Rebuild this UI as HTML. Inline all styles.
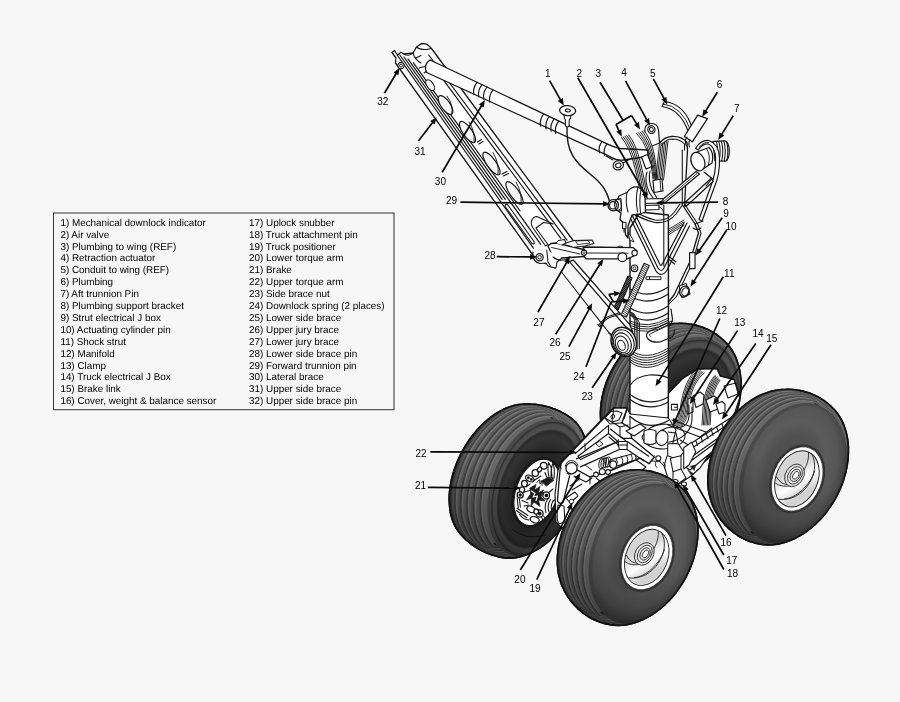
<!DOCTYPE html>
<html><head><meta charset="utf-8"><title>Main landing gear</title>
<style>html,body{margin:0;padding:0;background:#f7f7f7}svg{display:block;filter:blur(0.4px)}</style></head>
<body>
<svg width="900" height="702" viewBox="0 0 900 702">
<rect width="900" height="702" fill="#f7f7f7"/>
<rect x="53.5" y="213" width="340.5" height="196.7" fill="#f7f7f7" stroke="#333" stroke-width="1"/>
<g font-family="Liberation Sans, Arial, sans-serif" font-size="9.9" fill="#000" text-rendering="geometricPrecision">
<text x="60.4" y="225.70">1) Mechanical downlock indicator</text>
<text x="60.4" y="237.60">2) Air valve</text>
<text x="60.4" y="249.50">3) Plumbing to wing (REF)</text>
<text x="60.4" y="261.40">4) Retraction actuator</text>
<text x="60.4" y="273.30">5) Conduit to wing (REF)</text>
<text x="60.4" y="285.20">6) Plumbing</text>
<text x="60.4" y="297.10">7) Aft trunnion Pin</text>
<text x="60.4" y="309.00">8) Plumbing support bracket</text>
<text x="60.4" y="320.90">9) Strut electrical J box</text>
<text x="60.4" y="332.80">10) Actuating cylinder pin</text>
<text x="60.4" y="344.70">11) Shock strut</text>
<text x="60.4" y="356.60">12) Manifold</text>
<text x="60.4" y="368.50">13) Clamp</text>
<text x="60.4" y="380.40">14) Truck electrical J Box</text>
<text x="60.4" y="392.30">15) Brake link</text>
<text x="60.4" y="404.20">16) Cover, weight &amp; balance sensor</text>
<text x="249" y="225.70">17) Uplock snubber</text>
<text x="249" y="237.60">18) Truck attachment pin</text>
<text x="249" y="249.50">19) Truck positioner</text>
<text x="249" y="261.40">20) Lower torque arm</text>
<text x="249" y="273.30">21) Brake</text>
<text x="249" y="285.20">22) Upper torque arm</text>
<text x="249" y="297.10">23) Side brace nut</text>
<text x="249" y="309.00">24) Downlock spring (2 places)</text>
<text x="249" y="320.90">25) Lower side brace</text>
<text x="249" y="332.80">26) Upper jury brace</text>
<text x="249" y="344.70">27) Lower jury brace</text>
<text x="249" y="356.60">28) Lower side brace pin</text>
<text x="249" y="368.50">29) Forward trunnion pin</text>
<text x="249" y="380.40">30) Lateral brace</text>
<text x="249" y="392.30">31) Upper side brace</text>
<text x="249" y="404.20">32) Upper side brace pin</text>
</g>
<defs>
<radialGradient id="side" cx="0.44" cy="0.47" r="0.57">
<stop offset="0" stop-color="#4c4c4c"/><stop offset="0.42" stop-color="#505050"/><stop offset="0.6" stop-color="#5c5c5c"/><stop offset="0.78" stop-color="#565656"/><stop offset="0.9" stop-color="#484848"/><stop offset="1" stop-color="#2a2a2a"/>
</radialGradient>
<radialGradient id="inner" cx="0.5" cy="0.5" r="0.5">
<stop offset="0" stop-color="#1c1c1c"/><stop offset="0.55" stop-color="#262626"/><stop offset="0.78" stop-color="#343434"/><stop offset="0.86" stop-color="#2a2a2a"/><stop offset="0.90" stop-color="#505050"/><stop offset="0.96" stop-color="#484848"/><stop offset="1" stop-color="#2a2a2a"/>
</radialGradient>
<linearGradient id="shade" x1="0.75" y1="0" x2="0.3" y2="1">
<stop offset="0" stop-color="#000" stop-opacity="0"/><stop offset="0.5" stop-color="#000" stop-opacity="0"/><stop offset="0.8" stop-color="#000" stop-opacity="0.22"/><stop offset="1" stop-color="#000" stop-opacity="0.45"/>
</linearGradient>
<linearGradient id="hubg" x1="0" y1="0" x2="1" y2="1">
<stop offset="0" stop-color="#dcdcdc"/><stop offset="0.35" stop-color="#d4d4d4"/><stop offset="0.55" stop-color="#ffffff"/><stop offset="0.75" stop-color="#cfcfcf"/><stop offset="1" stop-color="#e8e8e8"/>
</linearGradient>
</defs>
<clipPath id="tc1"><path d="M600.4,412.7 L600.7,407.8 L601.2,402.8 L602.0,397.9 L603.1,392.9 L604.5,387.9 L606.1,382.9 L608.1,378.0 L610.3,373.2 L612.7,368.5 L615.4,363.9 L618.3,359.5 L621.4,355.3 L624.7,351.2 L628.1,347.4 L631.8,343.8 L635.6,340.4 L639.5,337.3 L643.5,334.5 L647.6,332.0 L651.7,329.8 L655.9,327.9 L660.2,326.4 L664.4,325.1 L668.6,324.3 L672.8,323.7 L673.7,323.6 L674.7,323.5 L678.8,323.4 L679.8,323.3 L680.7,323.3 L684.9,323.5 L685.8,323.6 L686.8,323.7 L690.9,324.2 L691.8,324.4 L692.7,324.6 L696.8,325.4 L697.7,325.7 L698.6,326.0 L702.5,327.2 L703.4,327.6 L704.2,327.9 L708.0,329.6 L708.8,330.0 L709.7,330.4 L712.4,331.9 L713.2,332.4 L714.0,332.9 L717.4,335.2 L718.2,335.8 L718.9,336.3 L722.1,339.0 L722.8,339.6 L723.5,340.2 L726.4,343.1 L727.0,343.8 L729.7,347.0 L732.1,350.5 L734.2,354.2 L736.1,358.2 L737.6,362.4 L738.9,366.8 L739.9,371.4 L740.6,376.2 L741.0,381.1 L741.0,386.1 L740.8,391.1 L740.2,396.3 L739.4,401.5 L738.2,406.7 L736.8,411.9 L735.1,417.1 L733.1,422.1 L730.8,427.2 L728.2,432.1 L725.5,436.8 L722.4,441.4 L719.2,445.9 L715.8,450.1 L712.1,454.1 L708.4,457.8 L704.4,461.3 L700.4,464.5 L696.2,467.5 L691.9,470.1 L687.6,472.4 L683.2,474.3 L678.8,475.9 L674.4,477.2 L670.0,478.1 L665.6,478.7 L661.3,478.9 L657.1,478.7 L653.0,478.2 L652.1,478.0 L648.1,477.1 L647.1,476.9 L646.2,476.6 L642.4,475.4 L641.5,475.0 L640.6,474.7 L636.8,473.1 L636.0,472.6 L635.1,472.2 L631.6,470.2 L630.7,469.8 L630.0,469.2 L626.6,466.9 L625.8,466.4 L625.1,465.7 L622.0,463.1 L621.2,462.5 L620.6,461.8 L617.7,458.9 L617.0,458.2 L614.4,455.0 L613.8,454.3 L613.2,453.5 L610.9,450.1 L610.4,449.3 L609.9,448.5 L607.8,444.9 L607.4,444.1 L607.0,443.2 L605.2,439.4 L603.7,435.4 L602.5,431.1 L601.5,426.7 L600.9,422.2 L600.5,417.5Z"/></clipPath>
<path d="M600.4,412.7 L600.7,407.8 L601.2,402.8 L602.0,397.9 L603.1,392.9 L604.5,387.9 L606.1,382.9 L608.1,378.0 L610.3,373.2 L612.7,368.5 L615.4,363.9 L618.3,359.5 L621.4,355.3 L624.7,351.2 L628.1,347.4 L631.8,343.8 L635.6,340.4 L639.5,337.3 L643.5,334.5 L647.6,332.0 L651.7,329.8 L655.9,327.9 L660.2,326.4 L664.4,325.1 L668.6,324.3 L672.8,323.7 L673.7,323.6 L674.7,323.5 L678.8,323.4 L679.8,323.3 L680.7,323.3 L684.9,323.5 L685.8,323.6 L686.8,323.7 L690.9,324.2 L691.8,324.4 L692.7,324.6 L696.8,325.4 L697.7,325.7 L698.6,326.0 L702.5,327.2 L703.4,327.6 L704.2,327.9 L708.0,329.6 L708.8,330.0 L709.7,330.4 L712.4,331.9 L713.2,332.4 L714.0,332.9 L717.4,335.2 L718.2,335.8 L718.9,336.3 L722.1,339.0 L722.8,339.6 L723.5,340.2 L726.4,343.1 L727.0,343.8 L729.7,347.0 L732.1,350.5 L734.2,354.2 L736.1,358.2 L737.6,362.4 L738.9,366.8 L739.9,371.4 L740.6,376.2 L741.0,381.1 L741.0,386.1 L740.8,391.1 L740.2,396.3 L739.4,401.5 L738.2,406.7 L736.8,411.9 L735.1,417.1 L733.1,422.1 L730.8,427.2 L728.2,432.1 L725.5,436.8 L722.4,441.4 L719.2,445.9 L715.8,450.1 L712.1,454.1 L708.4,457.8 L704.4,461.3 L700.4,464.5 L696.2,467.5 L691.9,470.1 L687.6,472.4 L683.2,474.3 L678.8,475.9 L674.4,477.2 L670.0,478.1 L665.6,478.7 L661.3,478.9 L657.1,478.7 L653.0,478.2 L652.1,478.0 L648.1,477.1 L647.1,476.9 L646.2,476.6 L642.4,475.4 L641.5,475.0 L640.6,474.7 L636.8,473.1 L636.0,472.6 L635.1,472.2 L631.6,470.2 L630.7,469.8 L630.0,469.2 L626.6,466.9 L625.8,466.4 L625.1,465.7 L622.0,463.1 L621.2,462.5 L620.6,461.8 L617.7,458.9 L617.0,458.2 L614.4,455.0 L613.8,454.3 L613.2,453.5 L610.9,450.1 L610.4,449.3 L609.9,448.5 L607.8,444.9 L607.4,444.1 L607.0,443.2 L605.2,439.4 L603.7,435.4 L602.5,431.1 L601.5,426.7 L600.9,422.2 L600.5,417.5Z" fill="#676767" stroke="#111" stroke-width="1.6" stroke-linejoin="round"/>
<g clip-path="url(#tc1)">
<path d="M654.1,466.3 L649.5,466.9 L644.9,467.1 L640.5,466.8 L636.2,466.1 L632.0,465.0 L628.0,463.5 L624.2,461.6 L620.6,459.2 L617.3,456.5 L614.2,453.5 L611.4,450.1 L608.9,446.3 L606.8,442.3 L604.9,438.0 L603.4,433.4 L602.2,428.6 L601.4,423.6 L600.9,418.4 L600.8,413.1 L601.1,407.7 L601.7,402.3 L602.6,396.7 L604.0,391.2 L605.6,385.7 L607.6,380.3 L609.9,374.9 L612.5,369.7 L615.4,364.6 L618.6,359.7 L622.1,355.0 L625.7,350.6 L629.6,346.4 L633.7,342.5 L637.9,338.9 L642.3,335.7 L646.8,332.8 L651.4,330.3 L656.0,328.1 L660.7,326.4 L665.3,325.1 L670.0,324.2 L674.6,323.7 L679.1,323.7 L683.5,324.0 L687.8,324.8 L692.0,326.0 L695.9,327.7 L699.7,329.7 L703.2,332.1 L706.5,334.9 L709.5,338.1 L712.2,341.5 L714.6,345.4 L716.7,349.5 L718.5,353.9 L719.9,358.5 L721.0,363.3 L721.7,368.4 L722.1,373.6 L722.1,378.9" fill="none" stroke="#2e2e2e" stroke-width="3.0"/>
<path d="M656.4,467.5 L651.8,468.2 L647.2,468.4 L642.8,468.2 L638.4,467.5 L634.2,466.4 L630.2,465.0 L626.4,463.1 L622.8,460.8 L619.4,458.1 L616.3,455.0 L613.5,451.7 L611.0,447.9 L608.7,443.9 L606.8,439.6 L605.3,435.0 L604.0,430.2 L603.2,425.2 L602.7,420.0 L602.5,414.7 L602.7,409.3 L603.3,403.8 L604.2,398.3 L605.5,392.7 L607.1,387.2 L609.0,381.7 L611.3,376.3 L613.9,371.0 L616.7,365.9 L619.9,360.9 L623.3,356.2 L626.9,351.7 L630.8,347.4 L634.8,343.5 L639.0,339.8 L643.4,336.5 L647.9,333.6 L652.4,331.0 L657.1,328.8 L661.7,327.0 L666.4,325.7 L671.0,324.7 L675.7,324.2 L680.2,324.1 L684.6,324.4 L688.9,325.1 L693.1,326.3 L697.1,327.9 L700.8,329.9 L704.4,332.3 L707.7,335.0 L710.7,338.2 L713.5,341.6 L715.9,345.4 L718.1,349.5 L719.9,353.9 L721.4,358.6 L722.5,363.4 L723.3,368.5 L723.7,373.7 L723.8,379.0" fill="none" stroke="#444" stroke-width="2.0"/>
<path d="M682.1,475.4 L677.8,476.6 L673.5,477.3 L669.2,477.6 L665.1,477.5 L661.0,477.0 L657.0,476.0 L653.2,474.6 L649.6,472.8 L646.1,470.6 L642.9,468.1 L639.9,465.1 L637.1,461.8 L634.6,458.2 L632.4,454.2 L630.5,450.0 L628.9,445.5 L627.6,440.8 L626.6,435.8 L626.0,430.7 L625.6,425.5 L625.6,420.1 L626.0,414.6 L626.6,409.1 L627.6,403.5 L629.0,398.0 L630.6,392.5 L632.5,387.1 L634.8,381.8 L637.3,376.6 L640.0,371.7 L643.0,366.9 L646.3,362.3 L649.7,358.0 L653.4,354.0 L657.2,350.3 L661.2,346.9 L665.2,343.9 L669.4,341.3 L673.7,339.0 L678.0,337.1 L682.3,335.6 L686.6,334.6 L690.9,333.9 L695.1,333.7 L699.3,333.9 L703.3,334.6 L707.2,335.6 L711.0,337.1 L714.6,339.0 L718.0,341.3 L721.2,344.0 L724.1,347.0 L726.8,350.4 L729.2,354.1 L731.4,358.1 L733.2,362.4 L734.8,367.0 L736.0,371.8 L736.9,376.7 L737.5,381.9" fill="none" stroke="#424242" stroke-width="1.9"/>
<path d="M683.7,475.6 L679.4,476.8 L675.1,477.5 L670.9,477.9 L666.8,477.8 L662.7,477.3 L658.8,476.4 L655.0,475.0 L651.4,473.3 L648.0,471.1 L644.7,468.6 L641.7,465.7 L639.0,462.4 L636.5,458.8 L634.2,454.9 L632.3,450.7 L630.7,446.3 L629.4,441.6 L628.3,436.7 L627.7,431.6 L627.3,426.4 L627.3,421.0 L627.6,415.6 L628.2,410.1 L629.2,404.5 L630.5,399.0 L632.0,393.6 L633.9,388.2 L636.1,382.9 L638.6,377.7 L641.3,372.8 L644.2,368.0 L647.4,363.4 L650.8,359.1 L654.4,355.1 L658.2,351.4 L662.1,348.0 L666.1,345.0 L670.3,342.3 L674.5,340.0 L678.7,338.1 L683.0,336.6 L687.3,335.5 L691.5,334.9 L695.7,334.6 L699.9,334.8 L703.9,335.4 L707.8,336.4 L711.5,337.9 L715.1,339.7 L718.5,342.0 L721.7,344.6 L724.6,347.6 L727.3,351.0 L729.7,354.6 L731.9,358.6 L733.7,362.9 L735.3,367.4 L736.6,372.1 L737.5,377.1 L738.1,382.2" fill="none" stroke="#767676" stroke-width="1.2"/>
<path d="M680.3,475.2 L676.0,476.3 L671.6,477.0 L667.3,477.3 L663.1,477.1 L659.0,476.5 L655.1,475.5 L651.2,474.1 L647.6,472.3 L644.1,470.1 L640.9,467.4 L637.9,464.5 L635.1,461.1 L632.6,457.4 L630.4,453.5 L628.5,449.2 L626.9,444.6 L625.7,439.9 L624.7,434.9 L624.1,429.7 L623.8,424.4 L623.8,419.0 L624.2,413.5 L624.9,408.0 L626.0,402.4 L627.3,396.8 L629.0,391.3 L631.0,385.9 L633.3,380.6 L635.8,375.4 L638.7,370.5 L641.7,365.7 L645.0,361.1 L648.6,356.8 L652.3,352.8 L656.1,349.1 L660.1,345.8 L664.3,342.8 L668.5,340.1 L672.8,337.9 L677.1,336.0 L681.5,334.6 L685.9,333.5 L690.2,332.9 L694.4,332.8 L698.6,333.0 L702.7,333.7 L706.6,334.8 L710.4,336.3 L714.0,338.3 L717.4,340.6 L720.6,343.3 L723.6,346.4 L726.3,349.8 L728.7,353.5 L730.8,357.6 L732.6,361.9 L734.2,366.5 L735.4,371.4 L736.2,376.4 L736.8,381.6" fill="none" stroke="#585858" stroke-width="1.4"/>
<path d="M676.4,474.5 L672.0,475.5 L667.6,476.2 L663.2,476.4 L659.0,476.1 L654.8,475.5 L650.8,474.4 L646.9,472.9 L643.3,470.9 L639.8,468.6 L636.5,465.9 L633.5,462.8 L630.8,459.4 L628.3,455.7 L626.2,451.6 L624.3,447.2 L622.7,442.6 L621.5,437.8 L620.6,432.7 L620.1,427.5 L619.9,422.1 L620.0,416.7 L620.5,411.1 L621.3,405.5 L622.4,399.9 L623.9,394.3 L625.7,388.8 L627.8,383.3 L630.2,378.0 L632.9,372.8 L635.8,367.8 L639.0,363.1 L642.4,358.5 L646.0,354.3 L649.8,350.3 L653.8,346.6 L657.9,343.3 L662.2,340.3 L666.5,337.8 L670.9,335.6 L675.3,333.8 L679.8,332.4 L684.2,331.4 L688.6,330.9 L692.9,330.8 L697.2,331.1 L701.3,331.9 L705.3,333.1 L709.1,334.7 L712.7,336.7 L716.1,339.1 L719.3,341.9 L722.3,345.1 L724.9,348.6 L727.3,352.5 L729.4,356.6 L731.2,361.0 L732.7,365.7 L733.8,370.6 L734.6,375.7 L735.1,380.9" fill="none" stroke="#424242" stroke-width="1.9"/>
<path d="M678.0,474.8 L673.6,475.9 L669.2,476.5 L664.9,476.8 L660.7,476.6 L656.5,475.9 L652.5,474.9 L648.7,473.4 L645.0,471.5 L641.6,469.2 L638.3,466.6 L635.3,463.5 L632.6,460.1 L630.1,456.4 L627.9,452.4 L626.0,448.0 L624.4,443.5 L623.2,438.6 L622.3,433.6 L621.7,428.4 L621.4,423.1 L621.5,417.6 L622.0,412.1 L622.7,406.5 L623.9,400.9 L625.3,395.3 L627.0,389.8 L629.1,384.4 L631.4,379.1 L634.1,373.9 L637.0,368.9 L640.1,364.1 L643.5,359.6 L647.1,355.3 L650.8,351.3 L654.8,347.6 L658.8,344.3 L663.0,341.3 L667.3,338.7 L671.7,336.5 L676.1,334.7 L680.5,333.2 L684.9,332.3 L689.3,331.7 L693.6,331.6 L697.8,331.9 L701.9,332.6 L705.8,333.8 L709.6,335.3 L713.3,337.3 L716.7,339.7 L719.9,342.5 L722.8,345.6 L725.5,349.1 L727.9,352.9 L730.0,357.0 L731.8,361.4 L733.3,366.0 L734.5,370.9 L735.3,376.0 L735.8,381.2" fill="none" stroke="#767676" stroke-width="1.2"/>
<path d="M674.6,474.1 L670.1,475.1 L665.7,475.7 L661.3,475.9 L657.1,475.6 L652.9,474.9 L648.9,473.8 L645.0,472.2 L641.3,470.3 L637.8,467.9 L634.6,465.2 L631.6,462.0 L628.9,458.6 L626.4,454.8 L624.3,450.7 L622.4,446.3 L620.9,441.6 L619.7,436.8 L618.8,431.7 L618.3,426.4 L618.1,421.1 L618.3,415.6 L618.8,410.0 L619.7,404.4 L620.9,398.8 L622.4,393.2 L624.2,387.6 L626.4,382.2 L628.8,376.8 L631.5,371.7 L634.5,366.7 L637.8,361.9 L641.2,357.4 L644.9,353.1 L648.8,349.2 L652.8,345.5 L657.0,342.2 L661.3,339.3 L665.6,336.7 L670.1,334.6 L674.5,332.8 L679.0,331.5 L683.5,330.5 L687.9,330.0 L692.2,330.0 L696.5,330.4 L700.6,331.2 L704.6,332.4 L708.4,334.0 L712.1,336.1 L715.5,338.6 L718.7,341.4 L721.6,344.6 L724.3,348.2 L726.7,352.0 L728.7,356.2 L730.5,360.7 L732.0,365.4 L733.1,370.3 L733.9,375.4 L734.3,380.7" fill="none" stroke="#585858" stroke-width="1.4"/>
<path d="M670.7,473.1 L666.2,474.0 L661.7,474.5 L657.3,474.6 L652.9,474.3 L648.7,473.5 L644.7,472.3 L640.8,470.6 L637.1,468.6 L633.6,466.2 L630.4,463.3 L627.4,460.1 L624.7,456.6 L622.3,452.7 L620.2,448.6 L618.4,444.1 L616.9,439.4 L615.8,434.5 L615.0,429.3 L614.6,424.1 L614.5,418.6 L614.7,413.1 L615.3,407.5 L616.3,401.9 L617.6,396.2 L619.2,390.6 L621.1,385.1 L623.4,379.6 L625.9,374.3 L628.8,369.2 L631.9,364.2 L635.2,359.5 L638.8,355.0 L642.6,350.8 L646.5,346.9 L650.6,343.3 L654.9,340.0 L659.3,337.2 L663.7,334.7 L668.2,332.6 L672.8,330.9 L677.3,329.6 L681.8,328.8 L686.3,328.3 L690.7,328.4 L695.0,328.8 L699.1,329.7 L703.2,331.0 L707.0,332.8 L710.6,334.9 L714.0,337.4 L717.2,340.3 L720.1,343.6 L722.8,347.3 L725.1,351.2 L727.1,355.4 L728.9,360.0 L730.3,364.7 L731.3,369.7 L732.0,374.9 L732.4,380.2" fill="none" stroke="#424242" stroke-width="1.9"/>
<path d="M672.3,473.5 L667.8,474.5 L663.3,475.0 L658.9,475.2 L654.6,474.8 L650.4,474.1 L646.4,472.9 L642.5,471.3 L638.8,469.3 L635.3,466.9 L632.1,464.1 L629.1,460.9 L626.4,457.4 L624.0,453.6 L621.8,449.4 L620.0,445.0 L618.5,440.3 L617.4,435.4 L616.5,430.3 L616.1,425.0 L615.9,419.6 L616.2,414.1 L616.7,408.5 L617.6,402.9 L618.9,397.3 L620.5,391.7 L622.4,386.1 L624.6,380.7 L627.1,375.4 L629.9,370.2 L632.9,365.2 L636.2,360.5 L639.8,356.0 L643.5,351.7 L647.4,347.8 L651.5,344.2 L655.7,340.9 L660.1,338.0 L664.5,335.5 L669.0,333.4 L673.5,331.6 L678.0,330.3 L682.5,329.5 L686.9,329.0 L691.3,329.0 L695.6,329.4 L699.8,330.3 L703.8,331.6 L707.6,333.3 L711.2,335.4 L714.7,337.9 L717.8,340.8 L720.8,344.0 L723.4,347.6 L725.8,351.5 L727.8,355.7 L729.6,360.2 L731.0,365.0 L732.1,369.9 L732.8,375.1 L733.2,380.4" fill="none" stroke="#767676" stroke-width="1.2"/>
<path d="M668.9,472.5 L664.3,473.4 L659.8,473.9 L655.4,474.0 L651.1,473.6 L646.9,472.8 L642.8,471.5 L638.9,469.9 L635.2,467.8 L631.8,465.3 L628.5,462.4 L625.6,459.2 L622.9,455.6 L620.5,451.7 L618.4,447.6 L616.6,443.1 L615.2,438.3 L614.1,433.4 L613.3,428.3 L612.9,422.9 L612.9,417.5 L613.1,412.0 L613.8,406.4 L614.8,400.7 L616.1,395.1 L617.8,389.5 L619.8,384.0 L622.1,378.5 L624.7,373.2 L627.5,368.1 L630.7,363.1 L634.1,358.4 L637.7,353.9 L641.5,349.7 L645.5,345.9 L649.7,342.3 L654.0,339.1 L658.4,336.2 L662.9,333.8 L667.4,331.7 L672.0,330.1 L676.5,328.8 L681.1,328.0 L685.6,327.6 L690.0,327.7 L694.3,328.2 L698.4,329.1 L702.5,330.5 L706.3,332.2 L709.9,334.4 L713.3,337.0 L716.5,339.9 L719.4,343.2 L722.0,346.9 L724.4,350.9 L726.4,355.1 L728.1,359.7 L729.4,364.5 L730.4,369.5 L731.1,374.7 L731.4,380.0" fill="none" stroke="#585858" stroke-width="1.4"/>
<path d="M664.9,471.2 L660.4,472.0 L655.8,472.4 L651.4,472.4 L647.0,471.9 L642.8,471.0 L638.7,469.7 L634.9,468.0 L631.2,465.8 L627.7,463.3 L624.5,460.3 L621.6,457.0 L619.0,453.4 L616.6,449.5 L614.6,445.2 L612.9,440.7 L611.5,435.9 L610.4,430.9 L609.8,425.8 L609.4,420.4 L609.5,415.0 L609.8,409.4 L610.6,403.8 L611.7,398.2 L613.1,392.6 L614.8,387.0 L616.9,381.5 L619.3,376.1 L622.0,370.8 L625.0,365.7 L628.2,360.8 L631.7,356.1 L635.4,351.7 L639.3,347.6 L643.4,343.8 L647.6,340.3 L652.0,337.1 L656.5,334.4 L661.0,332.0 L665.6,330.0 L670.2,328.4 L674.8,327.3 L679.4,326.6 L683.9,326.3 L688.4,326.4 L692.7,327.0 L696.9,328.0 L700.9,329.4 L704.7,331.3 L708.3,333.5 L711.7,336.2 L714.9,339.2 L717.7,342.5 L720.3,346.3 L722.6,350.3 L724.5,354.6 L726.2,359.2 L727.5,364.0 L728.4,369.0 L729.0,374.3 L729.2,379.6" fill="none" stroke="#424242" stroke-width="1.9"/>
<path d="M666.6,471.8 L662.0,472.6 L657.5,473.1 L653.0,473.1 L648.7,472.6 L644.5,471.8 L640.4,470.5 L636.5,468.8 L632.8,466.6 L629.4,464.1 L626.2,461.2 L623.2,458.0 L620.5,454.3 L618.2,450.4 L616.1,446.2 L614.4,441.7 L613.0,436.9 L611.9,432.0 L611.2,426.8 L610.8,421.5 L610.8,416.0 L611.2,410.5 L611.9,404.9 L612.9,399.2 L614.3,393.6 L616.0,388.0 L618.1,382.5 L620.4,377.1 L623.1,371.8 L626.0,366.7 L629.2,361.7 L632.7,357.1 L636.3,352.6 L640.2,348.5 L644.2,344.6 L648.5,341.1 L652.8,337.9 L657.2,335.1 L661.8,332.7 L666.3,330.7 L670.9,329.1 L675.5,327.9 L680.1,327.1 L684.6,326.8 L689.0,326.9 L693.3,327.5 L697.5,328.4 L701.5,329.8 L705.4,331.6 L709.0,333.9 L712.4,336.5 L715.5,339.5 L718.4,342.8 L721.0,346.5 L723.3,350.5 L725.3,354.8 L727.0,359.4 L728.3,364.2 L729.3,369.2 L729.9,374.4 L730.2,379.8" fill="none" stroke="#767676" stroke-width="1.2"/>
<path d="M663.2,470.5 L658.6,471.3 L654.0,471.7 L649.6,471.6 L645.2,471.1 L641.0,470.2 L636.9,468.8 L633.1,467.0 L629.4,464.8 L626.0,462.3 L622.8,459.3 L619.9,456.0 L617.2,452.3 L614.9,448.4 L612.9,444.1 L611.2,439.6 L609.9,434.8 L608.9,429.8 L608.2,424.6 L607.9,419.3 L608.0,413.8 L608.4,408.3 L609.2,402.7 L610.3,397.1 L611.8,391.4 L613.6,385.9 L615.7,380.4 L618.1,375.0 L620.8,369.7 L623.9,364.7 L627.1,359.8 L630.7,355.2 L634.4,350.8 L638.3,346.7 L642.4,342.9 L646.7,339.4 L651.1,336.3 L655.6,333.6 L660.2,331.2 L664.8,329.3 L669.4,327.8 L674.0,326.7 L678.6,326.0 L683.2,325.7 L687.6,325.9 L691.9,326.5 L696.1,327.6 L700.1,329.0 L703.9,330.9 L707.6,333.2 L710.9,335.8 L714.0,338.9 L716.9,342.3 L719.5,346.0 L721.7,350.1 L723.6,354.4 L725.2,359.0 L726.5,363.8 L727.4,368.9 L728.0,374.1 L728.2,379.5" fill="none" stroke="#585858" stroke-width="1.4"/>
<path d="M659.2,468.9 L654.6,469.6 L650.1,469.8 L645.6,469.7 L641.2,469.1 L637.0,468.1 L633.0,466.7 L629.2,464.8 L625.5,462.6 L622.1,459.9 L619.0,456.9 L616.1,453.5 L613.5,449.8 L611.3,445.8 L609.3,441.5 L607.7,437.0 L606.4,432.2 L605.5,427.2 L604.9,422.0 L604.7,416.7 L604.9,411.2 L605.4,405.7 L606.2,400.1 L607.4,394.5 L609.0,388.9 L610.9,383.4 L613.1,378.0 L615.6,372.6 L618.4,367.5 L621.5,362.4 L624.9,357.6 L628.4,353.1 L632.3,348.8 L636.3,344.8 L640.4,341.1 L644.8,337.7 L649.2,334.7 L653.8,332.0 L658.4,329.8 L663.0,327.9 L667.7,326.5 L672.3,325.4 L676.9,324.8 L681.5,324.7 L685.9,324.9 L690.2,325.6 L694.4,326.8 L698.4,328.3 L702.2,330.2 L705.8,332.6 L709.1,335.3 L712.2,338.4 L715.0,341.9 L717.5,345.6 L719.7,349.7 L721.5,354.1 L723.1,358.7 L724.3,363.6 L725.1,368.6 L725.6,373.8 L725.7,379.2" fill="none" stroke="#424242" stroke-width="1.9"/>
<path d="M660.8,469.6 L656.2,470.3 L651.7,470.6 L647.2,470.5 L642.9,469.9 L638.6,469.0 L634.6,467.6 L630.7,465.7 L627.1,463.5 L623.7,460.9 L620.5,457.9 L617.6,454.6 L615.0,450.9 L612.7,446.9 L610.8,442.6 L609.1,438.0 L607.8,433.3 L606.8,428.3 L606.2,423.1 L606.0,417.7 L606.1,412.3 L606.6,406.8 L607.4,401.2 L608.6,395.6 L610.1,390.0 L611.9,384.4 L614.1,378.9 L616.6,373.6 L619.4,368.4 L622.5,363.3 L625.8,358.5 L629.3,353.9 L633.1,349.6 L637.1,345.5 L641.3,341.8 L645.6,338.4 L650.0,335.3 L654.5,332.6 L659.1,330.3 L663.7,328.5 L668.4,327.0 L673.0,325.9 L677.6,325.3 L682.2,325.1 L686.6,325.3 L690.9,326.0 L695.1,327.1 L699.1,328.6 L702.9,330.5 L706.5,332.8 L709.9,335.5 L713.0,338.6 L715.8,342.0 L718.3,345.8 L720.5,349.8 L722.4,354.2 L724.0,358.8 L725.2,363.7 L726.1,368.7 L726.6,373.9 L726.7,379.3" fill="none" stroke="#767676" stroke-width="1.2"/>
<path d="M657.5,468.0 L652.8,468.7 L648.3,468.9 L643.8,468.7 L639.5,468.1 L635.3,467.1 L631.3,465.6 L627.4,463.7 L623.8,461.5 L620.4,458.8 L617.3,455.8 L614.5,452.4 L611.9,448.7 L609.7,444.6 L607.8,440.3 L606.2,435.8 L604.9,431.0 L604.0,426.0 L603.5,420.8 L603.3,415.5 L603.5,410.0 L604.0,404.5 L604.9,399.0 L606.2,393.4 L607.8,387.8 L609.7,382.3 L612.0,376.9 L614.5,371.6 L617.4,366.4 L620.5,361.5 L623.9,356.7 L627.5,352.2 L631.3,347.9 L635.4,343.9 L639.6,340.3 L643.9,336.9 L648.4,334.0 L652.9,331.4 L657.5,329.2 L662.2,327.3 L666.9,325.9 L671.5,325.0 L676.1,324.4 L680.7,324.3 L685.1,324.6 L689.4,325.3 L693.6,326.5 L697.6,328.0 L701.3,330.0 L704.9,332.4 L708.2,335.1 L711.3,338.3 L714.0,341.7 L716.5,345.5 L718.7,349.6 L720.5,354.0 L722.0,358.6 L723.2,363.5 L724.0,368.5 L724.4,373.7 L724.5,379.1" fill="none" stroke="#585858" stroke-width="1.4"/>
<ellipse cx="0" cy="0" rx="51.0" ry="73.0" transform="translate(685.8,407.8) rotate(20.4)" fill="#4a4a4a"/>
<ellipse cx="0" cy="0" rx="49.1" ry="71.0" transform="translate(687.6,408.6) rotate(20.0)" fill="url(#inner)"/>
<path d="M600.4,412.7 L600.7,407.8 L601.2,402.8 L602.0,397.9 L603.1,392.9 L604.5,387.9 L606.1,382.9 L608.1,378.0 L610.3,373.2 L612.7,368.5 L615.4,363.9 L618.3,359.5 L621.4,355.3 L624.7,351.2 L628.1,347.4 L631.8,343.8 L635.6,340.4 L639.5,337.3 L643.5,334.5 L647.6,332.0 L651.7,329.8 L655.9,327.9 L660.2,326.4 L664.4,325.1 L668.6,324.3 L672.8,323.7 L673.7,323.6 L674.7,323.5 L678.8,323.4 L679.8,323.3 L680.7,323.3 L684.9,323.5 L685.8,323.6 L686.8,323.7 L690.9,324.2 L691.8,324.4 L692.7,324.6 L696.8,325.4 L697.7,325.7 L698.6,326.0 L702.5,327.2 L703.4,327.6 L704.2,327.9 L708.0,329.6 L708.8,330.0 L709.7,330.4 L712.4,331.9 L713.2,332.4 L714.0,332.9 L717.4,335.2 L718.2,335.8 L718.9,336.3 L722.1,339.0 L722.8,339.6 L723.5,340.2 L726.4,343.1 L727.0,343.8 L729.7,347.0 L732.1,350.5 L734.2,354.2 L736.1,358.2 L737.6,362.4 L738.9,366.8 L739.9,371.4 L740.6,376.2 L741.0,381.1 L741.0,386.1 L740.8,391.1 L740.2,396.3 L739.4,401.5 L738.2,406.7 L736.8,411.9 L735.1,417.1 L733.1,422.1 L730.8,427.2 L728.2,432.1 L725.5,436.8 L722.4,441.4 L719.2,445.9 L715.8,450.1 L712.1,454.1 L708.4,457.8 L704.4,461.3 L700.4,464.5 L696.2,467.5 L691.9,470.1 L687.6,472.4 L683.2,474.3 L678.8,475.9 L674.4,477.2 L670.0,478.1 L665.6,478.7 L661.3,478.9 L657.1,478.7 L653.0,478.2 L652.1,478.0 L648.1,477.1 L647.1,476.9 L646.2,476.6 L642.4,475.4 L641.5,475.0 L640.6,474.7 L636.8,473.1 L636.0,472.6 L635.1,472.2 L631.6,470.2 L630.7,469.8 L630.0,469.2 L626.6,466.9 L625.8,466.4 L625.1,465.7 L622.0,463.1 L621.2,462.5 L620.6,461.8 L617.7,458.9 L617.0,458.2 L614.4,455.0 L613.8,454.3 L613.2,453.5 L610.9,450.1 L610.4,449.3 L609.9,448.5 L607.8,444.9 L607.4,444.1 L607.0,443.2 L605.2,439.4 L603.7,435.4 L602.5,431.1 L601.5,426.7 L600.9,422.2 L600.5,417.5Z" fill="url(#shade)" stroke="none"/>
</g>
<path d="M600.4,412.7 L600.7,407.8 L601.2,402.8 L602.0,397.9 L603.1,392.9 L604.5,387.9 L606.1,382.9 L608.1,378.0 L610.3,373.2 L612.7,368.5 L615.4,363.9 L618.3,359.5 L621.4,355.3 L624.7,351.2 L628.1,347.4 L631.8,343.8 L635.6,340.4 L639.5,337.3 L643.5,334.5 L647.6,332.0 L651.7,329.8 L655.9,327.9 L660.2,326.4 L664.4,325.1 L668.6,324.3 L672.8,323.7 L673.7,323.6 L674.7,323.5 L678.8,323.4 L679.8,323.3 L680.7,323.3 L684.9,323.5 L685.8,323.6 L686.8,323.7 L690.9,324.2 L691.8,324.4 L692.7,324.6 L696.8,325.4 L697.7,325.7 L698.6,326.0 L702.5,327.2 L703.4,327.6 L704.2,327.9 L708.0,329.6 L708.8,330.0 L709.7,330.4 L712.4,331.9 L713.2,332.4 L714.0,332.9 L717.4,335.2 L718.2,335.8 L718.9,336.3 L722.1,339.0 L722.8,339.6 L723.5,340.2 L726.4,343.1 L727.0,343.8 L729.7,347.0 L732.1,350.5 L734.2,354.2 L736.1,358.2 L737.6,362.4 L738.9,366.8 L739.9,371.4 L740.6,376.2 L741.0,381.1 L741.0,386.1 L740.8,391.1 L740.2,396.3 L739.4,401.5 L738.2,406.7 L736.8,411.9 L735.1,417.1 L733.1,422.1 L730.8,427.2 L728.2,432.1 L725.5,436.8 L722.4,441.4 L719.2,445.9 L715.8,450.1 L712.1,454.1 L708.4,457.8 L704.4,461.3 L700.4,464.5 L696.2,467.5 L691.9,470.1 L687.6,472.4 L683.2,474.3 L678.8,475.9 L674.4,477.2 L670.0,478.1 L665.6,478.7 L661.3,478.9 L657.1,478.7 L653.0,478.2 L652.1,478.0 L648.1,477.1 L647.1,476.9 L646.2,476.6 L642.4,475.4 L641.5,475.0 L640.6,474.7 L636.8,473.1 L636.0,472.6 L635.1,472.2 L631.6,470.2 L630.7,469.8 L630.0,469.2 L626.6,466.9 L625.8,466.4 L625.1,465.7 L622.0,463.1 L621.2,462.5 L620.6,461.8 L617.7,458.9 L617.0,458.2 L614.4,455.0 L613.8,454.3 L613.2,453.5 L610.9,450.1 L610.4,449.3 L609.9,448.5 L607.8,444.9 L607.4,444.1 L607.0,443.2 L605.2,439.4 L603.7,435.4 L602.5,431.1 L601.5,426.7 L600.9,422.2 L600.5,417.5Z" fill="none" stroke="#111" stroke-width="1.6" stroke-linejoin="round"/>
<clipPath id="tc2"><path d="M449.2,499.5 L449.3,494.9 L449.7,490.1 L450.4,485.3 L451.3,480.4 L452.5,475.5 L454.0,470.6 L455.7,465.7 L457.6,460.8 L459.8,456.0 L462.2,451.3 L464.8,446.8 L467.6,442.3 L470.6,438.0 L473.8,433.9 L477.1,430.0 L480.5,426.3 L484.1,422.8 L487.7,419.6 L491.5,416.7 L495.3,414.0 L499.2,411.6 L503.1,409.6 L507.0,407.8 L510.9,406.4 L514.7,405.3 L518.6,404.6 L522.3,404.2 L523.7,404.1 L527.4,404.1 L528.8,404.1 L530.1,404.1 L531.5,404.2 L535.2,404.4 L536.5,404.6 L537.9,404.8 L539.2,405.0 L542.8,405.6 L544.1,405.9 L545.5,406.2 L546.7,406.5 L550.2,407.5 L551.5,407.9 L552.8,408.4 L554.0,408.8 L557.4,410.2 L558.6,410.7 L559.8,411.3 L561.0,411.9 L564.1,413.6 L565.3,414.2 L566.4,414.9 L567.5,415.6 L570.5,417.7 L571.5,418.4 L574.3,420.8 L576.8,423.4 L579.0,426.4 L581.1,429.6 L582.9,433.1 L584.4,436.9 L585.7,440.9 L586.7,445.1 L587.4,449.5 L587.8,454.0 L588.0,458.8 L587.9,463.6 L587.4,468.6 L586.7,473.6 L585.8,478.7 L584.5,483.8 L583.0,488.9 L581.2,494.0 L579.2,499.1 L576.9,504.0 L574.4,508.9 L571.7,513.7 L568.8,518.3 L565.7,522.8 L562.4,527.1 L559.0,531.2 L555.4,535.0 L551.6,538.6 L547.8,542.0 L543.9,545.0 L540.0,547.8 L535.9,550.3 L531.9,552.4 L527.8,554.2 L523.7,555.7 L519.7,556.9 L515.7,557.6 L511.8,558.1 L508.0,558.1 L504.3,557.9 L499.3,557.0 L498.0,556.7 L496.7,556.3 L493.2,555.3 L491.9,555.0 L490.7,554.5 L489.4,554.1 L486.1,552.7 L484.9,552.2 L483.6,551.6 L482.5,551.0 L479.3,549.4 L478.1,548.7 L477.0,548.0 L475.9,547.3 L474.8,546.6 L471.9,544.6 L470.8,543.8 L469.8,542.9 L467.1,540.6 L466.1,539.8 L465.1,538.9 L464.2,537.9 L461.7,535.4 L460.8,534.4 L460.0,533.4 L457.8,530.6 L455.8,527.5 L454.1,524.1 L452.6,520.5 L451.4,516.7 L450.4,512.6 L449.8,508.4 L449.4,504.0Z"/></clipPath>
<path d="M449.2,499.5 L449.3,494.9 L449.7,490.1 L450.4,485.3 L451.3,480.4 L452.5,475.5 L454.0,470.6 L455.7,465.7 L457.6,460.8 L459.8,456.0 L462.2,451.3 L464.8,446.8 L467.6,442.3 L470.6,438.0 L473.8,433.9 L477.1,430.0 L480.5,426.3 L484.1,422.8 L487.7,419.6 L491.5,416.7 L495.3,414.0 L499.2,411.6 L503.1,409.6 L507.0,407.8 L510.9,406.4 L514.7,405.3 L518.6,404.6 L522.3,404.2 L523.7,404.1 L527.4,404.1 L528.8,404.1 L530.1,404.1 L531.5,404.2 L535.2,404.4 L536.5,404.6 L537.9,404.8 L539.2,405.0 L542.8,405.6 L544.1,405.9 L545.5,406.2 L546.7,406.5 L550.2,407.5 L551.5,407.9 L552.8,408.4 L554.0,408.8 L557.4,410.2 L558.6,410.7 L559.8,411.3 L561.0,411.9 L564.1,413.6 L565.3,414.2 L566.4,414.9 L567.5,415.6 L570.5,417.7 L571.5,418.4 L574.3,420.8 L576.8,423.4 L579.0,426.4 L581.1,429.6 L582.9,433.1 L584.4,436.9 L585.7,440.9 L586.7,445.1 L587.4,449.5 L587.8,454.0 L588.0,458.8 L587.9,463.6 L587.4,468.6 L586.7,473.6 L585.8,478.7 L584.5,483.8 L583.0,488.9 L581.2,494.0 L579.2,499.1 L576.9,504.0 L574.4,508.9 L571.7,513.7 L568.8,518.3 L565.7,522.8 L562.4,527.1 L559.0,531.2 L555.4,535.0 L551.6,538.6 L547.8,542.0 L543.9,545.0 L540.0,547.8 L535.9,550.3 L531.9,552.4 L527.8,554.2 L523.7,555.7 L519.7,556.9 L515.7,557.6 L511.8,558.1 L508.0,558.1 L504.3,557.9 L499.3,557.0 L498.0,556.7 L496.7,556.3 L493.2,555.3 L491.9,555.0 L490.7,554.5 L489.4,554.1 L486.1,552.7 L484.9,552.2 L483.6,551.6 L482.5,551.0 L479.3,549.4 L478.1,548.7 L477.0,548.0 L475.9,547.3 L474.8,546.6 L471.9,544.6 L470.8,543.8 L469.8,542.9 L467.1,540.6 L466.1,539.8 L465.1,538.9 L464.2,537.9 L461.7,535.4 L460.8,534.4 L460.0,533.4 L457.8,530.6 L455.8,527.5 L454.1,524.1 L452.6,520.5 L451.4,516.7 L450.4,512.6 L449.8,508.4 L449.4,504.0Z" fill="#676767" stroke="#111" stroke-width="1.6" stroke-linejoin="round"/>
<g clip-path="url(#tc2)">
<path d="M496.2,544.0 L492.0,544.8 L487.8,545.2 L483.8,545.2 L479.9,544.7 L476.2,543.9 L472.6,542.6 L469.2,541.0 L466.0,538.9 L463.1,536.5 L460.4,533.7 L458.0,530.5 L455.9,527.0 L454.1,523.2 L452.6,519.2 L451.4,514.8 L450.5,510.2 L449.9,505.4 L449.7,500.4 L449.8,495.3 L450.3,490.1 L451.0,484.7 L452.1,479.3 L453.5,473.9 L455.3,468.4 L457.3,463.0 L459.6,457.7 L462.2,452.5 L465.0,447.4 L468.1,442.5 L471.4,437.8 L474.9,433.2 L478.6,429.0 L482.4,425.0 L486.4,421.3 L490.5,417.9 L494.7,414.8 L499.0,412.1 L503.3,409.8 L507.6,407.9 L511.9,406.4 L516.1,405.2 L520.3,404.5 L524.4,404.2 L528.5,404.3 L532.3,404.9 L536.0,405.8 L539.5,407.2 L542.9,408.9 L546.0,411.1 L548.8,413.6 L551.5,416.5 L553.8,419.7 L555.8,423.3 L557.6,427.2 L559.0,431.3 L560.2,435.7 L561.0,440.4 L561.4,445.2 L561.6,450.2 L561.4,455.4" fill="none" stroke="#2e2e2e" stroke-width="3.0"/>
<path d="M498.9,545.2 L494.7,546.1 L490.6,546.5 L486.5,546.5 L482.6,546.1 L478.8,545.3 L475.3,544.1 L471.9,542.5 L468.7,540.4 L465.7,538.0 L463.0,535.2 L460.6,532.1 L458.4,528.6 L456.5,524.8 L455.0,520.7 L453.7,516.4 L452.8,511.8 L452.2,507.0 L451.9,502.0 L452.0,496.9 L452.4,491.6 L453.1,486.2 L454.2,480.8 L455.5,475.3 L457.2,469.8 L459.2,464.4 L461.4,459.1 L464.0,453.8 L466.8,448.7 L469.8,443.7 L473.1,438.9 L476.6,434.3 L480.2,430.0 L484.1,426.0 L488.0,422.2 L492.1,418.8 L496.3,415.7 L500.5,412.9 L504.8,410.6 L509.1,408.6 L513.4,407.0 L517.7,405.8 L521.9,405.1 L526.0,404.7 L530.0,404.8 L533.9,405.3 L537.6,406.2 L541.2,407.5 L544.5,409.3 L547.6,411.4 L550.5,413.9 L553.2,416.8 L555.5,420.0 L557.6,423.6 L559.4,427.4 L560.9,431.6 L562.1,436.0 L562.9,440.6 L563.4,445.5 L563.6,450.5 L563.5,455.7" fill="none" stroke="#444" stroke-width="2.0"/>
<path d="M529.7,553.7 L525.7,555.0 L521.8,555.9 L518.0,556.3 L514.2,556.4 L510.5,556.0 L507.0,555.2 L503.6,554.0 L500.4,552.3 L497.3,550.3 L494.5,547.9 L491.8,545.2 L489.4,542.1 L487.3,538.6 L485.4,534.8 L483.8,530.8 L482.5,526.5 L481.5,521.9 L480.7,517.1 L480.3,512.2 L480.2,507.1 L480.3,501.8 L480.8,496.5 L481.6,491.1 L482.7,485.7 L484.0,480.2 L485.7,474.8 L487.6,469.5 L489.8,464.3 L492.2,459.2 L494.8,454.2 L497.7,449.5 L500.8,444.9 L504.1,440.6 L507.5,436.6 L511.0,432.9 L514.7,429.5 L518.5,426.4 L522.4,423.6 L526.3,421.3 L530.2,419.3 L534.2,417.7 L538.1,416.5 L542.0,415.8 L545.8,415.4 L549.6,415.5 L553.2,416.0 L556.7,416.9 L560.1,418.2 L563.3,419.9 L566.3,422.0 L569.1,424.5 L571.6,427.4 L574.0,430.6 L576.0,434.1 L577.9,437.9 L579.4,442.0 L580.6,446.4 L581.6,451.0 L582.3,455.9 L582.6,460.9" fill="none" stroke="#424242" stroke-width="1.9"/>
<path d="M531.6,554.0 L527.7,555.3 L523.8,556.1 L520.0,556.6 L516.2,556.7 L512.6,556.3 L509.1,555.5 L505.7,554.4 L502.5,552.8 L499.4,550.8 L496.6,548.4 L494.0,545.7 L491.6,542.6 L489.4,539.2 L487.5,535.5 L485.9,531.5 L484.6,527.2 L483.5,522.7 L482.7,517.9 L482.3,513.0 L482.1,507.9 L482.3,502.7 L482.7,497.4 L483.4,492.0 L484.5,486.6 L485.8,481.2 L487.4,475.9 L489.3,470.6 L491.4,465.3 L493.8,460.3 L496.4,455.3 L499.2,450.6 L502.2,446.0 L505.4,441.8 L508.8,437.7 L512.3,434.0 L516.0,430.6 L519.7,427.5 L523.5,424.7 L527.4,422.4 L531.3,420.4 L535.2,418.8 L539.1,417.6 L543.0,416.8 L546.8,416.4 L550.5,416.5 L554.1,416.9 L557.6,417.8 L560.9,419.1 L564.1,420.8 L567.1,422.8 L569.9,425.3 L572.5,428.1 L574.8,431.3 L576.9,434.7 L578.7,438.5 L580.3,442.6 L581.5,447.0 L582.5,451.6 L583.2,456.3 L583.6,461.3" fill="none" stroke="#767676" stroke-width="1.2"/>
<path d="M527.5,553.4 L523.6,554.7 L519.6,555.5 L515.7,555.9 L511.9,556.0 L508.2,555.5 L504.7,554.7 L501.3,553.5 L498.0,551.8 L495.0,549.8 L492.1,547.3 L489.5,544.5 L487.1,541.4 L485.0,537.9 L483.1,534.1 L481.5,530.0 L480.2,525.6 L479.2,521.0 L478.5,516.2 L478.1,511.2 L478.0,506.1 L478.2,500.8 L478.7,495.5 L479.6,490.0 L480.7,484.6 L482.1,479.1 L483.8,473.7 L485.8,468.4 L488.0,463.1 L490.5,458.0 L493.2,453.0 L496.1,448.3 L499.2,443.7 L502.5,439.4 L506.0,435.4 L509.6,431.7 L513.4,428.3 L517.2,425.2 L521.1,422.5 L525.0,420.1 L529.0,418.2 L533.0,416.6 L537.0,415.4 L540.9,414.7 L544.8,414.4 L548.6,414.5 L552.2,415.0 L555.7,415.9 L559.1,417.3 L562.3,419.0 L565.3,421.2 L568.1,423.7 L570.7,426.6 L573.0,429.8 L575.1,433.4 L576.9,437.3 L578.4,441.4 L579.6,445.8 L580.6,450.5 L581.2,455.3 L581.5,460.4" fill="none" stroke="#585858" stroke-width="1.4"/>
<path d="M522.8,552.6 L518.8,553.8 L514.8,554.6 L510.8,555.0 L507.0,554.9 L503.3,554.4 L499.7,553.5 L496.2,552.2 L493.0,550.5 L489.9,548.4 L487.1,545.8 L484.4,543.0 L482.1,539.7 L480.0,536.2 L478.1,532.3 L476.6,528.1 L475.3,523.7 L474.4,519.0 L473.7,514.2 L473.4,509.1 L473.4,503.9 L473.7,498.6 L474.3,493.1 L475.2,487.7 L476.4,482.2 L477.9,476.7 L479.7,471.2 L481.8,465.9 L484.2,460.6 L486.7,455.4 L489.6,450.5 L492.6,445.7 L495.8,441.2 L499.3,436.9 L502.8,432.9 L506.6,429.1 L510.4,425.8 L514.3,422.7 L518.3,420.0 L522.4,417.7 L526.4,415.8 L530.5,414.3 L534.6,413.2 L538.5,412.5 L542.5,412.2 L546.3,412.4 L550.0,413.0 L553.5,414.0 L556.9,415.4 L560.2,417.2 L563.2,419.5 L566.0,422.1 L568.5,425.0 L570.8,428.3 L572.9,432.0 L574.6,435.9 L576.1,440.2 L577.3,444.7 L578.2,449.4 L578.7,454.3 L579.0,459.4" fill="none" stroke="#424242" stroke-width="1.9"/>
<path d="M524.8,553.0 L520.7,554.2 L516.8,555.0 L512.8,555.4 L509.0,555.4 L505.3,554.9 L501.7,554.0 L498.3,552.7 L495.0,551.0 L492.0,549.0 L489.1,546.5 L486.5,543.6 L484.1,540.4 L482.0,536.9 L480.2,533.1 L478.6,528.9 L477.3,524.5 L476.3,519.9 L475.7,515.0 L475.3,510.0 L475.3,504.8 L475.5,499.5 L476.1,494.1 L477.0,488.6 L478.1,483.2 L479.6,477.7 L481.4,472.2 L483.4,466.9 L485.7,461.6 L488.2,456.5 L491.0,451.5 L494.0,446.8 L497.2,442.2 L500.6,437.9 L504.1,433.9 L507.8,430.2 L511.6,426.8 L515.5,423.7 L519.5,421.0 L523.5,418.7 L527.5,416.7 L531.5,415.2 L535.5,414.1 L539.5,413.4 L543.4,413.1 L547.2,413.2 L550.9,413.8 L554.4,414.8 L557.8,416.2 L561.0,418.0 L564.1,420.1 L566.9,422.7 L569.4,425.6 L571.7,428.9 L573.8,432.5 L575.6,436.5 L577.1,440.7 L578.3,445.1 L579.2,449.8 L579.7,454.7 L580.0,459.8" fill="none" stroke="#767676" stroke-width="1.2"/>
<path d="M520.7,552.2 L516.6,553.4 L512.6,554.1 L508.6,554.5 L504.8,554.4 L501.0,553.9 L497.4,552.9 L494.0,551.6 L490.7,549.8 L487.6,547.7 L484.8,545.1 L482.2,542.2 L479.8,538.9 L477.7,535.3 L475.9,531.4 L474.4,527.2 L473.2,522.8 L472.2,518.1 L471.6,513.2 L471.3,508.1 L471.3,502.9 L471.7,497.5 L472.3,492.1 L473.3,486.6 L474.5,481.1 L476.1,475.6 L478.0,470.1 L480.1,464.7 L482.5,459.4 L485.1,454.3 L488.0,449.3 L491.1,444.6 L494.4,440.0 L497.8,435.8 L501.4,431.7 L505.2,428.0 L509.1,424.7 L513.1,421.6 L517.1,419.0 L521.2,416.7 L525.3,414.8 L529.4,413.3 L533.4,412.2 L537.5,411.6 L541.4,411.3 L545.2,411.5 L549.0,412.2 L552.5,413.2 L555.9,414.6 L559.1,416.5 L562.2,418.8 L564.9,421.4 L567.5,424.4 L569.8,427.7 L571.8,431.4 L573.6,435.4 L575.0,439.6 L576.2,444.2 L577.0,448.9 L577.5,453.9 L577.8,459.0" fill="none" stroke="#585858" stroke-width="1.4"/>
<path d="M516.0,551.1 L511.8,552.2 L507.8,552.9 L503.8,553.2 L499.9,553.0 L496.1,552.4 L492.5,551.4 L489.0,550.0 L485.7,548.2 L482.7,545.9 L479.9,543.3 L477.3,540.4 L474.9,537.0 L472.9,533.4 L471.1,529.4 L469.6,525.2 L468.5,520.6 L467.6,515.9 L467.1,511.0 L466.8,505.8 L466.9,500.6 L467.4,495.2 L468.1,489.7 L469.2,484.2 L470.5,478.6 L472.2,473.1 L474.1,467.7 L476.3,462.3 L478.8,457.0 L481.6,451.9 L484.6,446.9 L487.7,442.2 L491.1,437.6 L494.7,433.4 L498.4,429.4 L502.3,425.7 L506.2,422.4 L510.3,419.4 L514.4,416.8 L518.5,414.6 L522.7,412.7 L526.9,411.3 L531.0,410.3 L535.1,409.7 L539.0,409.5 L542.9,409.8 L546.6,410.5 L550.2,411.6 L553.6,413.1 L556.9,415.0 L559.9,417.3 L562.6,420.0 L565.2,423.1 L567.4,426.5 L569.4,430.2 L571.1,434.3 L572.5,438.6 L573.6,443.2 L574.4,448.0 L574.9,453.0 L575.0,458.1" fill="none" stroke="#424242" stroke-width="1.9"/>
<path d="M517.9,551.6 L513.8,552.7 L509.7,553.4 L505.8,553.7 L501.9,553.6 L498.1,553.0 L494.5,552.1 L491.0,550.7 L487.8,548.9 L484.7,546.7 L481.9,544.1 L479.3,541.1 L476.9,537.8 L474.8,534.2 L473.1,530.3 L471.6,526.0 L470.4,521.5 L469.5,516.8 L468.9,511.9 L468.7,506.8 L468.7,501.5 L469.1,496.1 L469.8,490.7 L470.8,485.2 L472.1,479.6 L473.8,474.1 L475.7,468.7 L477.9,463.3 L480.3,458.0 L483.0,452.9 L485.9,447.9 L489.1,443.1 L492.4,438.6 L496.0,434.3 L499.6,430.3 L503.5,426.7 L507.4,423.3 L511.4,420.3 L515.5,417.7 L519.6,415.4 L523.8,413.5 L527.9,412.1 L532.0,411.1 L536.0,410.4 L540.0,410.2 L543.9,410.5 L547.6,411.1 L551.2,412.2 L554.6,413.7 L557.8,415.6 L560.8,417.9 L563.6,420.6 L566.1,423.6 L568.4,427.0 L570.4,430.7 L572.1,434.7 L573.6,439.0 L574.7,443.6 L575.5,448.3 L576.0,453.3 L576.1,458.5" fill="none" stroke="#767676" stroke-width="1.2"/>
<path d="M513.8,550.5 L509.7,551.6 L505.6,552.2 L501.6,552.5 L497.7,552.3 L493.9,551.7 L490.3,550.7 L486.8,549.2 L483.5,547.4 L480.5,545.1 L477.7,542.5 L475.1,539.5 L472.8,536.1 L470.7,532.4 L469.0,528.4 L467.5,524.2 L466.4,519.6 L465.6,514.9 L465.1,509.9 L464.9,504.8 L465.0,499.5 L465.5,494.1 L466.2,488.6 L467.3,483.1 L468.7,477.5 L470.4,472.0 L472.4,466.6 L474.7,461.2 L477.2,455.9 L480.0,450.8 L483.0,445.8 L486.3,441.1 L489.7,436.6 L493.3,432.3 L497.1,428.4 L501.0,424.7 L505.0,421.4 L509.0,418.5 L513.2,415.9 L517.4,413.7 L521.6,411.9 L525.7,410.5 L529.9,409.5 L534.0,408.9 L537.9,408.8 L541.8,409.1 L545.6,409.8 L549.2,410.9 L552.6,412.5 L555.8,414.4 L558.8,416.8 L561.6,419.5 L564.1,422.6 L566.3,426.0 L568.3,429.8 L570.0,433.8 L571.3,438.2 L572.4,442.8 L573.1,447.6 L573.6,452.6 L573.7,457.8" fill="none" stroke="#585858" stroke-width="1.4"/>
<path d="M509.1,549.1 L504.9,550.1 L500.8,550.7 L496.8,550.9 L492.9,550.6 L489.1,549.9 L485.4,548.8 L482.0,547.3 L478.7,545.4 L475.7,543.1 L472.9,540.4 L470.4,537.3 L468.1,533.9 L466.1,530.2 L464.4,526.2 L463.0,521.9 L461.9,517.3 L461.2,512.5 L460.7,507.5 L460.6,502.4 L460.8,497.1 L461.4,491.7 L462.3,486.2 L463.4,480.6 L464.9,475.1 L466.7,469.6 L468.8,464.1 L471.2,458.8 L473.8,453.5 L476.7,448.4 L479.8,443.5 L483.1,438.8 L486.6,434.4 L490.3,430.2 L494.1,426.3 L498.1,422.7 L502.2,419.4 L506.3,416.5 L510.5,414.0 L514.8,411.8 L519.0,410.1 L523.2,408.8 L527.4,407.8 L531.5,407.3 L535.5,407.3 L539.4,407.6 L543.2,408.4 L546.8,409.6 L550.2,411.2 L553.4,413.2 L556.3,415.6 L559.1,418.4 L561.5,421.6 L563.7,425.1 L565.7,428.9 L567.3,433.0 L568.6,437.3 L569.6,442.0 L570.3,446.8 L570.6,451.9 L570.7,457.1" fill="none" stroke="#424242" stroke-width="1.9"/>
<path d="M511.1,549.7 L506.9,550.7 L502.8,551.4 L498.7,551.6 L494.8,551.3 L491.0,550.7 L487.4,549.6 L483.9,548.1 L480.7,546.2 L477.6,543.9 L474.8,541.3 L472.3,538.2 L470.0,534.9 L468.0,531.1 L466.3,527.1 L464.8,522.8 L463.7,518.3 L463.0,513.5 L462.5,508.5 L462.3,503.4 L462.5,498.1 L463.0,492.6 L463.9,487.2 L465.0,481.6 L466.5,476.1 L468.2,470.6 L470.3,465.1 L472.6,459.8 L475.2,454.5 L478.0,449.4 L481.1,444.5 L484.4,439.7 L487.9,435.3 L491.5,431.0 L495.3,427.1 L499.3,423.5 L503.3,420.2 L507.4,417.3 L511.6,414.7 L515.8,412.6 L520.0,410.8 L524.3,409.4 L528.4,408.5 L532.5,408.0 L536.5,407.9 L540.4,408.2 L544.2,408.9 L547.8,410.1 L551.2,411.7 L554.4,413.7 L557.4,416.1 L560.1,418.8 L562.6,422.0 L564.8,425.4 L566.8,429.2 L568.4,433.3 L569.7,437.7 L570.8,442.3 L571.5,447.1 L571.9,452.1 L571.9,457.3" fill="none" stroke="#767676" stroke-width="1.2"/>
<path d="M507.0,548.4 L502.8,549.3 L498.7,549.9 L494.6,550.1 L490.7,549.8 L486.9,549.1 L483.3,547.9 L479.8,546.4 L476.6,544.5 L473.6,542.1 L470.8,539.4 L468.3,536.3 L466.0,532.9 L464.0,529.2 L462.4,525.1 L461.0,520.8 L460.0,516.2 L459.2,511.4 L458.8,506.4 L458.8,501.2 L459.0,495.9 L459.6,490.5 L460.5,485.1 L461.7,479.5 L463.3,474.0 L465.1,468.5 L467.2,463.1 L469.6,457.7 L472.3,452.5 L475.2,447.4 L478.3,442.5 L481.7,437.8 L485.3,433.4 L489.0,429.2 L492.8,425.4 L496.8,421.8 L500.9,418.6 L505.1,415.7 L509.3,413.2 L513.6,411.1 L517.8,409.4 L522.1,408.1 L526.3,407.2 L530.4,406.7 L534.4,406.7 L538.3,407.1 L542.0,407.9 L545.6,409.1 L549.0,410.7 L552.2,412.8 L555.2,415.2 L557.9,418.0 L560.4,421.2 L562.5,424.7 L564.4,428.5 L566.0,432.6 L567.3,437.0 L568.3,441.6 L568.9,446.5 L569.2,451.5 L569.2,456.7" fill="none" stroke="#585858" stroke-width="1.4"/>
<path d="M502.3,546.6 L498.1,547.5 L494.0,548.0 L489.9,548.1 L486.0,547.8 L482.2,547.0 L478.6,545.8 L475.2,544.2 L472.0,542.2 L469.0,539.8 L466.2,537.1 L463.8,533.9 L461.6,530.5 L459.6,526.7 L458.0,522.6 L456.7,518.3 L455.8,513.7 L455.1,508.9 L454.8,503.9 L454.8,498.7 L455.1,493.4 L455.8,488.0 L456.8,482.6 L458.1,477.1 L459.7,471.6 L461.6,466.1 L463.8,460.7 L466.3,455.4 L469.1,450.2 L472.0,445.2 L475.3,440.4 L478.7,435.8 L482.3,431.4 L486.1,427.3 L490.0,423.5 L494.1,420.0 L498.2,416.8 L502.4,414.0 L506.7,411.6 L511.0,409.6 L515.3,407.9 L519.5,406.7 L523.7,405.9 L527.9,405.5 L531.9,405.5 L535.8,406.0 L539.5,406.8 L543.1,408.1 L546.5,409.8 L549.6,411.9 L552.5,414.4 L555.2,417.2 L557.6,420.4 L559.8,424.0 L561.6,427.8 L563.1,432.0 L564.3,436.4 L565.2,441.0 L565.8,445.9 L566.1,450.9 L566.0,456.1" fill="none" stroke="#424242" stroke-width="1.9"/>
<path d="M504.2,547.3 L500.0,548.3 L495.9,548.8 L491.8,548.9 L487.9,548.6 L484.1,547.9 L480.5,546.7 L477.1,545.1 L473.8,543.1 L470.8,540.8 L468.1,538.0 L465.6,534.9 L463.4,531.5 L461.4,527.7 L459.8,523.7 L458.5,519.3 L457.5,514.7 L456.8,509.9 L456.4,504.9 L456.4,499.8 L456.7,494.5 L457.3,489.1 L458.3,483.6 L459.6,478.1 L461.1,472.6 L463.0,467.1 L465.2,461.7 L467.6,456.4 L470.4,451.2 L473.3,446.1 L476.5,441.3 L479.9,436.6 L483.5,432.2 L487.3,428.1 L491.2,424.2 L495.2,420.7 L499.3,417.5 L503.5,414.7 L507.8,412.2 L512.1,410.2 L516.3,408.5 L520.6,407.2 L524.8,406.4 L528.9,406.0 L532.9,406.0 L536.8,406.4 L540.6,407.2 L544.1,408.5 L547.5,410.2 L550.7,412.2 L553.6,414.7 L556.3,417.5 L558.8,420.7 L560.9,424.2 L562.8,428.1 L564.3,432.2 L565.6,436.6 L566.5,441.3 L567.1,446.1 L567.4,451.2 L567.3,456.4" fill="none" stroke="#767676" stroke-width="1.2"/>
<path d="M500.2,545.7 L496.0,546.6 L491.8,547.1 L487.8,547.1 L483.9,546.8 L480.1,546.0 L476.5,544.7 L473.1,543.1 L469.9,541.1 L466.9,538.7 L464.2,535.9 L461.8,532.8 L459.6,529.3 L457.7,525.5 L456.1,521.5 L454.9,517.1 L453.9,512.5 L453.3,507.7 L453.0,502.7 L453.0,497.6 L453.4,492.3 L454.1,486.9 L455.1,481.5 L456.5,476.0 L458.1,470.5 L460.1,465.1 L462.3,459.7 L464.8,454.4 L467.6,449.3 L470.7,444.3 L473.9,439.5 L477.4,434.9 L481.0,430.5 L484.8,426.5 L488.8,422.7 L492.8,419.2 L497.0,416.1 L501.2,413.3 L505.5,411.0 L509.8,408.9 L514.1,407.3 L518.4,406.1 L522.6,405.4 L526.7,405.0 L530.7,405.1 L534.6,405.5 L538.3,406.4 L541.9,407.7 L545.2,409.5 L548.4,411.6 L551.3,414.1 L553.9,416.9 L556.3,420.2 L558.4,423.7 L560.2,427.6 L561.7,431.7 L562.9,436.1 L563.8,440.8 L564.3,445.6 L564.6,450.7 L564.4,455.9" fill="none" stroke="#585858" stroke-width="1.4"/>
<ellipse cx="0" cy="0" rx="45.6" ry="71.8" transform="translate(536.7,488.2) rotate(20.3)" fill="#4a4a4a"/>
<ellipse cx="0" cy="0" rx="43.7" ry="69.8" transform="translate(538.8,489.0) rotate(20.0)" fill="url(#inner)"/>
<path d="M449.2,499.5 L449.3,494.9 L449.7,490.1 L450.4,485.3 L451.3,480.4 L452.5,475.5 L454.0,470.6 L455.7,465.7 L457.6,460.8 L459.8,456.0 L462.2,451.3 L464.8,446.8 L467.6,442.3 L470.6,438.0 L473.8,433.9 L477.1,430.0 L480.5,426.3 L484.1,422.8 L487.7,419.6 L491.5,416.7 L495.3,414.0 L499.2,411.6 L503.1,409.6 L507.0,407.8 L510.9,406.4 L514.7,405.3 L518.6,404.6 L522.3,404.2 L523.7,404.1 L527.4,404.1 L528.8,404.1 L530.1,404.1 L531.5,404.2 L535.2,404.4 L536.5,404.6 L537.9,404.8 L539.2,405.0 L542.8,405.6 L544.1,405.9 L545.5,406.2 L546.7,406.5 L550.2,407.5 L551.5,407.9 L552.8,408.4 L554.0,408.8 L557.4,410.2 L558.6,410.7 L559.8,411.3 L561.0,411.9 L564.1,413.6 L565.3,414.2 L566.4,414.9 L567.5,415.6 L570.5,417.7 L571.5,418.4 L574.3,420.8 L576.8,423.4 L579.0,426.4 L581.1,429.6 L582.9,433.1 L584.4,436.9 L585.7,440.9 L586.7,445.1 L587.4,449.5 L587.8,454.0 L588.0,458.8 L587.9,463.6 L587.4,468.6 L586.7,473.6 L585.8,478.7 L584.5,483.8 L583.0,488.9 L581.2,494.0 L579.2,499.1 L576.9,504.0 L574.4,508.9 L571.7,513.7 L568.8,518.3 L565.7,522.8 L562.4,527.1 L559.0,531.2 L555.4,535.0 L551.6,538.6 L547.8,542.0 L543.9,545.0 L540.0,547.8 L535.9,550.3 L531.9,552.4 L527.8,554.2 L523.7,555.7 L519.7,556.9 L515.7,557.6 L511.8,558.1 L508.0,558.1 L504.3,557.9 L499.3,557.0 L498.0,556.7 L496.7,556.3 L493.2,555.3 L491.9,555.0 L490.7,554.5 L489.4,554.1 L486.1,552.7 L484.9,552.2 L483.6,551.6 L482.5,551.0 L479.3,549.4 L478.1,548.7 L477.0,548.0 L475.9,547.3 L474.8,546.6 L471.9,544.6 L470.8,543.8 L469.8,542.9 L467.1,540.6 L466.1,539.8 L465.1,538.9 L464.2,537.9 L461.7,535.4 L460.8,534.4 L460.0,533.4 L457.8,530.6 L455.8,527.5 L454.1,524.1 L452.6,520.5 L451.4,516.7 L450.4,512.6 L449.8,508.4 L449.4,504.0Z" fill="url(#shade)" stroke="none"/>
</g>
<path d="M449.2,499.5 L449.3,494.9 L449.7,490.1 L450.4,485.3 L451.3,480.4 L452.5,475.5 L454.0,470.6 L455.7,465.7 L457.6,460.8 L459.8,456.0 L462.2,451.3 L464.8,446.8 L467.6,442.3 L470.6,438.0 L473.8,433.9 L477.1,430.0 L480.5,426.3 L484.1,422.8 L487.7,419.6 L491.5,416.7 L495.3,414.0 L499.2,411.6 L503.1,409.6 L507.0,407.8 L510.9,406.4 L514.7,405.3 L518.6,404.6 L522.3,404.2 L523.7,404.1 L527.4,404.1 L528.8,404.1 L530.1,404.1 L531.5,404.2 L535.2,404.4 L536.5,404.6 L537.9,404.8 L539.2,405.0 L542.8,405.6 L544.1,405.9 L545.5,406.2 L546.7,406.5 L550.2,407.5 L551.5,407.9 L552.8,408.4 L554.0,408.8 L557.4,410.2 L558.6,410.7 L559.8,411.3 L561.0,411.9 L564.1,413.6 L565.3,414.2 L566.4,414.9 L567.5,415.6 L570.5,417.7 L571.5,418.4 L574.3,420.8 L576.8,423.4 L579.0,426.4 L581.1,429.6 L582.9,433.1 L584.4,436.9 L585.7,440.9 L586.7,445.1 L587.4,449.5 L587.8,454.0 L588.0,458.8 L587.9,463.6 L587.4,468.6 L586.7,473.6 L585.8,478.7 L584.5,483.8 L583.0,488.9 L581.2,494.0 L579.2,499.1 L576.9,504.0 L574.4,508.9 L571.7,513.7 L568.8,518.3 L565.7,522.8 L562.4,527.1 L559.0,531.2 L555.4,535.0 L551.6,538.6 L547.8,542.0 L543.9,545.0 L540.0,547.8 L535.9,550.3 L531.9,552.4 L527.8,554.2 L523.7,555.7 L519.7,556.9 L515.7,557.6 L511.8,558.1 L508.0,558.1 L504.3,557.9 L499.3,557.0 L498.0,556.7 L496.7,556.3 L493.2,555.3 L491.9,555.0 L490.7,554.5 L489.4,554.1 L486.1,552.7 L484.9,552.2 L483.6,551.6 L482.5,551.0 L479.3,549.4 L478.1,548.7 L477.0,548.0 L475.9,547.3 L474.8,546.6 L471.9,544.6 L470.8,543.8 L469.8,542.9 L467.1,540.6 L466.1,539.8 L465.1,538.9 L464.2,537.9 L461.7,535.4 L460.8,534.4 L460.0,533.4 L457.8,530.6 L455.8,527.5 L454.1,524.1 L452.6,520.5 L451.4,516.7 L450.4,512.6 L449.8,508.4 L449.4,504.0Z" fill="none" stroke="#111" stroke-width="1.6" stroke-linejoin="round"/>
<ellipse cx="536.5" cy="492.4" rx="23.2" ry="36.4" transform="rotate(20 536.5 492.4)" fill="#181818" stroke="#151515" stroke-width="0.01"/>
<ellipse cx="536.9" cy="492.4" rx="21" ry="34.3" transform="rotate(20 536.9 492.4)" fill="#fff" stroke="#151515" stroke-width="0.94"/>
<ellipse cx="543.7" cy="465.7" rx="3.3" ry="3.4" transform="rotate(0 543.7 465.7)" fill="#fff" stroke="#151515" stroke-width="1.30"/>
<ellipse cx="535.3" cy="473" rx="3.2" ry="3.3" transform="rotate(0 535.3 473)" fill="#fff" stroke="#151515" stroke-width="1.30"/>
<ellipse cx="539.6" cy="469.4" rx="2.0" ry="2.6" transform="rotate(30 539.6 469.4)" fill="#fff" stroke="#151515" stroke-width="1.30"/>
<ellipse cx="529.8" cy="478.5" rx="4.6" ry="2.9" transform="rotate(30 529.8 478.5)" fill="#fff" stroke="#151515" stroke-width="1.30"/>
<ellipse cx="528.4" cy="477.8" rx="0.8" ry="0.8" transform="rotate(0 528.4 477.8)" fill="#111" stroke="#151515" stroke-width="1.30"/>
<ellipse cx="531.4" cy="479.4" rx="0.8" ry="0.8" transform="rotate(0 531.4 479.4)" fill="#111" stroke="#151515" stroke-width="1.30"/>
<ellipse cx="524.4" cy="483.6" rx="2.9" ry="3.2" transform="rotate(0 524.4 483.6)" fill="#fff" stroke="#151515" stroke-width="1.30"/>
<ellipse cx="522" cy="489.8" rx="2.6" ry="3.0" transform="rotate(0 522 489.8)" fill="#fff" stroke="#151515" stroke-width="1.30"/>
<ellipse cx="520.2" cy="495" rx="3.0" ry="3.1" transform="rotate(0 520.2 495)" fill="#fff" stroke="#151515" stroke-width="1.30"/>
<ellipse cx="520.2" cy="495" rx="1.0" ry="1.0" transform="rotate(0 520.2 495)" fill="#111" stroke="#151515" stroke-width="1.30"/>
<path d="M548.5,462.5 Q547,470 549.3,478 L551,478 L551.2,468 L552.2,478.5 L554,478 Q555,469 553,462.5 Q552,466 551.5,468 Q550,465 548.5,462.5Z" fill="#fff" stroke="#151515" stroke-width="1.06" stroke-linejoin="round" stroke-linecap="round" />
<path d="M530,488 L536,484.5 L534.5,490 L540,486.5 L538.5,493 L543.5,490 L541,497 L545,501 L538.5,500 L540,506.5 L534,502 L531,506 L531.5,498 L526.5,500 L530.5,494 Z" fill="#1c1c1c" stroke="#151515" stroke-width="0.71" stroke-linejoin="round" stroke-linecap="round" />
<path d="M531.5,491 L535,493.5 L533,497 L537.5,496 L536,500.5" fill="none" stroke="#fff" stroke-width="1.18" stroke-linejoin="round" stroke-linecap="round" />
<path d="M541,481 L548,477.5 L554,480 L546.5,486 Z" fill="#1c1c1c" stroke="#151515" stroke-width="0.71" stroke-linejoin="round" stroke-linecap="round" />
<path d="M537,482.5 L539.5,479.5 L540,484 L542,481 L542,485.5" fill="none" stroke="#151515" stroke-width="0.94" stroke-linejoin="round" stroke-linecap="round" />
<ellipse cx="546.2" cy="495.4" rx="3.3" ry="3.5" transform="rotate(0 546.2 495.4)" fill="#fff" stroke="#151515" stroke-width="1.30"/>
<ellipse cx="546.4" cy="495.4" rx="1.2" ry="1.3" transform="rotate(0 546.4 495.4)" fill="#111" stroke="#151515" stroke-width="1.30"/>
<path d="M541,492 L543,494.5 M549.5,492 L553,489 M534,480.5 L541,476 M545,472.5 L547.5,479" fill="none" stroke="#151515" stroke-width="1.06" stroke-linejoin="round" stroke-linecap="round" />
<ellipse cx="531" cy="509.3" rx="4.2" ry="3.0" transform="rotate(25 531 509.3)" fill="#fff" stroke="#151515" stroke-width="1.30"/>
<ellipse cx="539.6" cy="513.6" rx="3.5" ry="3.6" transform="rotate(0 539.6 513.6)" fill="#fff" stroke="#151515" stroke-width="1.30"/>
<ellipse cx="539.8" cy="513.6" rx="1.2" ry="1.3" transform="rotate(0 539.8 513.6)" fill="#111" stroke="#151515" stroke-width="1.30"/>
<ellipse cx="534.7" cy="519.8" rx="4.6" ry="3.0" transform="rotate(20 534.7 519.8)" fill="#fff" stroke="#151515" stroke-width="1.30"/>
<ellipse cx="536.2" cy="511.6" rx="2.3" ry="2.6" transform="rotate(0 536.2 511.6)" fill="#fff" stroke="#151515" stroke-width="1.30"/>
<path d="M541.5,517 Q544,520.5 541,522.5 M543.5,516 Q546.5,519 545,522" fill="none" stroke="#151515" stroke-width="1.06" stroke-linejoin="round" stroke-linecap="round" />
<path d="M548,498.5 Q543.5,505 546,512.5 M550.5,499.5 Q546.5,505.5 549,512 M553,501 Q550,506 552,511.5" fill="none" stroke="#151515" stroke-width="1.06" stroke-linejoin="round" stroke-linecap="round" />
<path d="M553,501 L558,498 M552,511.5 L557.5,510" fill="none" stroke="#151515" stroke-width="1.06" stroke-linejoin="round" stroke-linecap="round" />
<path d="M517.2,498.4 L518.3,508 M519.4,498.8 L520.4,507.2" fill="none" stroke="#151515" stroke-width="1.06" stroke-linejoin="round" stroke-linecap="round" />
<path d="M516.3,510.5 L526.8,517.8 M517,508.3 L528,515.5 M522,500.5 L528,503 M524,506 L529,505" fill="none" stroke="#151515" stroke-width="1.06" stroke-linejoin="round" stroke-linecap="round" />
<path d="M519.5,514.5 Q523,519.5 529,520" fill="none" stroke="#151515" stroke-width="1.06" stroke-linejoin="round" stroke-linecap="round" />
<path d="M526,487 L530,484 M524,492 L529.5,490.5" fill="none" stroke="#151515" stroke-width="1.06" stroke-linejoin="round" stroke-linecap="round" />
<path d="M512.5,529.5 Q527,541 546,535" fill="none" stroke="#111" stroke-width="0.94" stroke-linejoin="round" stroke-linecap="round" />
<path d="M392,52.5 L394.5,50.5 L397.5,55 L401,52.3 L404,54 L413,53 L416.5,47 L421.5,43.5 L427,44.2 L431.5,48.5 L575,243 L556,262 L545,263.5 L535,258 L395.5,63 L396,58 Z" fill="#fff" stroke="#151515" stroke-width="1.30" stroke-linejoin="round" stroke-linecap="round" />
<path d="M396,59 L405.1,55.0 L544.8,250.0 L533,252Z" fill="#f7f7f7" stroke="none" stroke-width="0.01" stroke-linejoin="round" stroke-linecap="round" />
<line x1="397.2" y1="55.0" x2="533.4" y2="248.1" stroke="#151515" stroke-width="1.18" stroke-linecap="round"/>
<line x1="399.8" y1="55.0" x2="502.2" y2="199.3" stroke="#151515" stroke-width="1.18" stroke-linecap="round"/>
<line x1="403.9" y1="57.0" x2="505.3" y2="199.3" stroke="#151515" stroke-width="1.18" stroke-linecap="round"/>
<line x1="407.9" y1="58.9" x2="540.6" y2="244.2" stroke="#151515" stroke-width="1.18" stroke-linecap="round"/>
<line x1="413.4" y1="62.8" x2="520.1" y2="211.0" stroke="#151515" stroke-width="1.18" stroke-linecap="round"/>
<line x1="436.5" y1="70.6" x2="560.8" y2="238.3" stroke="#151515" stroke-width="1.18" stroke-linecap="round"/>
<line x1="428.7" y1="55.0" x2="567.0" y2="240.2" stroke="#151515" stroke-width="1.18" stroke-linecap="round"/>
<ellipse cx="445.5" cy="105" rx="4.6" ry="11" transform="rotate(-35 445.5 105)" fill="#f7f7f7" stroke="#151515" stroke-width="1.18"/>
<path d="M447.0,96.2 Q453.5,105 452.0,113.2" fill="none" stroke="#151515" stroke-width="0.94" stroke-linejoin="round" stroke-linecap="round" />
<ellipse cx="467.5" cy="132" rx="4.6" ry="12.5" transform="rotate(-35 467.5 132)" fill="#f7f7f7" stroke="#151515" stroke-width="1.18"/>
<path d="M469.0,122.0 Q475.5,132 474.0,141.4" fill="none" stroke="#151515" stroke-width="0.94" stroke-linejoin="round" stroke-linecap="round" />
<ellipse cx="491.5" cy="163.5" rx="4.6" ry="13.5" transform="rotate(-35 491.5 163.5)" fill="#f7f7f7" stroke="#151515" stroke-width="1.18"/>
<path d="M493.0,152.7 Q499.5,163.5 498.0,173.6" fill="none" stroke="#151515" stroke-width="0.94" stroke-linejoin="round" stroke-linecap="round" />
<ellipse cx="514.5" cy="193" rx="4.6" ry="13.5" transform="rotate(-35 514.5 193)" fill="#f7f7f7" stroke="#151515" stroke-width="1.18"/>
<path d="M516.0,182.2 Q522.5,193 521.0,203.1" fill="none" stroke="#151515" stroke-width="0.94" stroke-linejoin="round" stroke-linecap="round" />
<ellipse cx="430.2" cy="85.2" rx="3.2" ry="6.2" transform="rotate(-35 430.2 85.2)" fill="#f7f7f7" stroke="#151515" stroke-width="1.06"/>
<line x1="477.5" y1="142.0" x2="481.5" y2="139.5" stroke="#151515" stroke-width="1.18" stroke-linecap="round"/>
<line x1="479.0" y1="144.0" x2="483.0" y2="141.5" stroke="#151515" stroke-width="1.18" stroke-linecap="round"/>
<line x1="502.0" y1="174.0" x2="507.0" y2="171.5" stroke="#151515" stroke-width="1.18" stroke-linecap="round"/>
<line x1="503.5" y1="176.0" x2="508.5" y2="173.5" stroke="#151515" stroke-width="1.18" stroke-linecap="round"/>
<path d="M507.5,204.5 L534,241.5 Q535,245 532,243.5 L505.5,207 Q504.5,203.5 507.5,204.5Z" fill="#f7f7f7" stroke="#151515" stroke-width="1.06" stroke-linejoin="round" stroke-linecap="round" />
<path d="M531.5,221 Q533,216.5 537,216.5 L553,224 L543.5,222.5 L536,228 L539.5,233 L548,244.5 L545.5,246 L533,228 Q530.5,224 531.5,221Z" fill="#f7f7f7" stroke="#151515" stroke-width="1.06" stroke-linejoin="round" stroke-linecap="round" />
<path d="M404,54 Q409,57 413,53" fill="none" stroke="#151515" stroke-width="1.06" stroke-linejoin="round" stroke-linecap="round" />
<path d="M416.5,47 Q420,50 427,49.5 L431,48.5" fill="none" stroke="#151515" stroke-width="1.06" stroke-linejoin="round" stroke-linecap="round" />
<path d="M413,53 Q415,60 421,63 M416,58 L421,55.5 M419,68 L424.5,66.5 M424,73 L428,70" fill="none" stroke="#151515" stroke-width="1.06" stroke-linejoin="round" stroke-linecap="round" />
<ellipse cx="401" cy="65.6" rx="3.1" ry="3.1" transform="rotate(0 401 65.6)" fill="#fff" stroke="#151515" stroke-width="1.06"/>
<ellipse cx="401" cy="65.6" rx="1.5" ry="1.5" transform="rotate(0 401 65.6)" fill="#fff" stroke="#151515" stroke-width="0.94"/>
<path d="M533,252 Q532,262 540,263.5 L546,263 L548,266 L555,268 L556,262" fill="#fff" stroke="#151515" stroke-width="1.18" stroke-linejoin="round" stroke-linecap="round" />
<ellipse cx="539.6" cy="257.3" rx="3.6" ry="3.6" transform="rotate(0 539.6 257.3)" fill="#fff" stroke="#151515" stroke-width="1.18"/>
<ellipse cx="539.6" cy="257.3" rx="1.8" ry="1.8" transform="rotate(0 539.6 257.3)" fill="#fff" stroke="#151515" stroke-width="0.94"/>
<path d="M430,60 L607,143.9 Q614,147.5 620.3,148.5 L648,150 L648,156.5 L623,160 Q616,160.5 612.3,157.9 L604.3,153.9 L426.7,72.5 Q423,65 430,60Z" fill="#fff" stroke="#151515" stroke-width="1.30" stroke-linejoin="round" stroke-linecap="round" />
<path d="M477,82.3 q-4.5,5.5 -3.2,12.3" fill="none" stroke="#151515" stroke-width="1.18" stroke-linejoin="round" stroke-linecap="round" />
<path d="M482,84.6 q-4.5,5.5 -3.2,12.3" fill="none" stroke="#151515" stroke-width="1.18" stroke-linejoin="round" stroke-linecap="round" />
<path d="M487,87.0 q-4.5,5.5 -3.2,12.3" fill="none" stroke="#151515" stroke-width="1.18" stroke-linejoin="round" stroke-linecap="round" />
<path d="M493,89.9 q-4.5,5.5 -3.2,12.3" fill="none" stroke="#151515" stroke-width="1.18" stroke-linejoin="round" stroke-linecap="round" />
<path d="M543.8,113.9 q-4.5,5.5 -3.2,12.3" fill="none" stroke="#151515" stroke-width="1.18" stroke-linejoin="round" stroke-linecap="round" />
<path d="M549.3,116.5 q-4.5,5.5 -3.2,12.3" fill="none" stroke="#151515" stroke-width="1.18" stroke-linejoin="round" stroke-linecap="round" />
<path d="M554.3,118.9 q-4.5,5.5 -3.2,12.3" fill="none" stroke="#151515" stroke-width="1.18" stroke-linejoin="round" stroke-linecap="round" />
<path d="M558.8,121.1 q-4.5,5.5 -3.2,12.3" fill="none" stroke="#151515" stroke-width="1.18" stroke-linejoin="round" stroke-linecap="round" />
<path d="M602,141.6 q-4,5 -2.5,11.3 M607,143.9 q-4,5 -2.5,11.3" fill="none" stroke="#151515" stroke-width="1.18" stroke-linejoin="round" stroke-linecap="round" />
<ellipse cx="618.3" cy="165.3" rx="5.3" ry="4.6" transform="rotate(-20 618.3 165.3)" fill="#fff" stroke="#151515" stroke-width="1.18"/>
<ellipse cx="618.3" cy="165.3" rx="2.8" ry="2.3" transform="rotate(-20 618.3 165.3)" fill="#fff" stroke="#151515" stroke-width="1.06"/>
<path d="M613,160 L606,156 M623,163 L632,158" fill="none" stroke="#151515" stroke-width="1.06" stroke-linejoin="round" stroke-linecap="round" />
<path d="M630,228 L630,416.5 Q648,432 668.4,420.5 L668.4,215 L640,212 Z" fill="#fff" stroke="#151515" stroke-width="1.42" stroke-linejoin="round" stroke-linecap="round" />
<line x1="663.8" y1="205.0" x2="663.8" y2="266.0" stroke="#151515" stroke-width="1.06" stroke-linecap="round"/>
<path d="M630,289 Q648,300 668.4,287" fill="none" stroke="#151515" stroke-width="1.18" stroke-linejoin="round" stroke-linecap="round" />
<path d="M630,296 Q648,307 668.4,294" fill="none" stroke="#151515" stroke-width="1.18" stroke-linejoin="round" stroke-linecap="round" />
<path d="M630,308 Q648,319 668.4,306" fill="none" stroke="#151515" stroke-width="1.18" stroke-linejoin="round" stroke-linecap="round" />
<path d="M630,315 Q648,326 668.4,313" fill="none" stroke="#151515" stroke-width="1.18" stroke-linejoin="round" stroke-linecap="round" />
<path d="M630,321.0 Q648,330.0 668.4,318.0" fill="none" stroke="#151515" stroke-width="0.94" stroke-linejoin="round" stroke-linecap="round" />
<path d="M630,323.2 Q648,332.2 668.4,320.2" fill="none" stroke="#151515" stroke-width="0.94" stroke-linejoin="round" stroke-linecap="round" />
<path d="M630,325.4 Q648,334.4 668.4,322.4" fill="none" stroke="#151515" stroke-width="0.94" stroke-linejoin="round" stroke-linecap="round" />
<path d="M630,327.6 Q648,336.6 668.4,324.6" fill="none" stroke="#151515" stroke-width="0.94" stroke-linejoin="round" stroke-linecap="round" />
<path d="M668.4,327 Q674,322 672,316 L671,309 M648,339 Q644,334 650,331 L672,321 M648,339 Q652,343 660,342 L672,337 Q675,334 674,330" fill="none" stroke="#151515" stroke-width="1.18" stroke-linejoin="round" stroke-linecap="round" />
<path d="M650.5,336.5 Q648,334.5 652,333 L671,324" fill="none" stroke="#151515" stroke-width="0.94" stroke-linejoin="round" stroke-linecap="round" />
<path d="M630,350.0 Q646,362.0 668.4,348.0" fill="none" stroke="#151515" stroke-width="0.94" stroke-linejoin="round" stroke-linecap="round" />
<path d="M630,352.4 Q646,364.4 668.4,350.4" fill="none" stroke="#151515" stroke-width="0.94" stroke-linejoin="round" stroke-linecap="round" />
<path d="M630,354.8 Q646,366.8 668.4,352.8" fill="none" stroke="#151515" stroke-width="0.94" stroke-linejoin="round" stroke-linecap="round" />
<path d="M630,357.2 Q646,369.2 668.4,355.2" fill="none" stroke="#151515" stroke-width="0.94" stroke-linejoin="round" stroke-linecap="round" />
<path d="M630,359.6 Q646,371.6 668.4,357.6" fill="none" stroke="#151515" stroke-width="0.94" stroke-linejoin="round" stroke-linecap="round" />
<path d="M630,362.0 Q646,374.0 668.4,360.0" fill="none" stroke="#151515" stroke-width="0.94" stroke-linejoin="round" stroke-linecap="round" />
<path d="M630.4,385 Q636,376.5 649,375 Q661,374.5 668.4,378" fill="none" stroke="#151515" stroke-width="1.18" stroke-linejoin="round" stroke-linecap="round" />
<path d="M630,394.5 Q648,408 668.4,397" fill="none" stroke="#151515" stroke-width="1.18" stroke-linejoin="round" stroke-linecap="round" />
<path d="M630,399.5 Q648,413 668.4,402" fill="none" stroke="#151515" stroke-width="1.18" stroke-linejoin="round" stroke-linecap="round" />
<path d="M630,413.5 Q648,428 668.4,417.5" fill="none" stroke="#151515" stroke-width="1.18" stroke-linejoin="round" stroke-linecap="round" />
<path d="M646.5,276.8 L661,276.8 L661,279.6 L646.5,279.6 Z M649.5,276.8 L649.5,279.6" fill="#fff" stroke="#151515" stroke-width="0.94" stroke-linejoin="round" stroke-linecap="round" />
<ellipse cx="634.5" cy="268.3" rx="3.3" ry="3.3" transform="rotate(0 634.5 268.3)" fill="#fff" stroke="#151515" stroke-width="1.18"/>
<ellipse cx="634.5" cy="268.3" rx="1.5" ry="1.5" transform="rotate(0 634.5 268.3)" fill="#fff" stroke="#151515" stroke-width="0.94"/>
<path d="M659.5,143 Q664,137 672,136.3 Q682,136 687,142.5 L687.5,150 L684.5,206" fill="none" stroke="#151515" stroke-width="1.30" stroke-linejoin="round" stroke-linecap="round" />
<path d="M661.5,145.5 Q665,139.5 672,139 Q680,139 684.5,144 L684.5,150" fill="none" stroke="#151515" stroke-width="1.06" stroke-linejoin="round" stroke-linecap="round" />
<line x1="682.3" y1="150.0" x2="682.3" y2="205.0" stroke="#151515" stroke-width="1.06" stroke-linecap="round"/>
<path d="M659.5,144.0 L655.5,180" fill="none" stroke="#151515" stroke-width="0.94" stroke-linejoin="round" stroke-linecap="round" />
<path d="M661.2,143.4 L657.1,180" fill="none" stroke="#151515" stroke-width="0.94" stroke-linejoin="round" stroke-linecap="round" />
<path d="M662.9,142.8 L658.7,180" fill="none" stroke="#151515" stroke-width="0.94" stroke-linejoin="round" stroke-linecap="round" />
<path d="M664.6,142.2 L660.3,180" fill="none" stroke="#151515" stroke-width="0.94" stroke-linejoin="round" stroke-linecap="round" />
<path d="M666.3,141.6 L661.9,180" fill="none" stroke="#151515" stroke-width="0.94" stroke-linejoin="round" stroke-linecap="round" />
<path d="M668,141 L663.5,180" fill="none" stroke="#151515" stroke-width="0.94" stroke-linejoin="round" stroke-linecap="round" />
<path d="M653,180.5 L662,179 L663,191 L654,192.5 Z" fill="#fff" stroke="#151515" stroke-width="1.18" stroke-linejoin="round" stroke-linecap="round" />
<line x1="660.0" y1="179.5" x2="661.0" y2="191.3" stroke="#151515" stroke-width="0.94" stroke-linecap="round"/>
<path d="M645,132 Q644,124 651,123.5 Q657.5,123 658.5,130 L659.5,143 L652,146" fill="#fff" stroke="#151515" stroke-width="1.18" stroke-linejoin="round" stroke-linecap="round" />
<ellipse cx="651.4" cy="129.6" rx="3.6" ry="3.9" transform="rotate(-15 651.4 129.6)" fill="#fff" stroke="#151515" stroke-width="1.18"/>
<ellipse cx="651.4" cy="129.6" rx="1.9" ry="2.2" transform="rotate(-15 651.4 129.6)" fill="#fff" stroke="#151515" stroke-width="0.94"/>
<path d="M621.5,137.5 C632.0,150.0 636.0,170 641.0,197.0" fill="none" stroke="#151515" stroke-width="0.94" stroke-linejoin="round" stroke-linecap="round" />
<path d="M623.3,136.9 C633.8,149.5 637.4,170 642.6,196.5" fill="none" stroke="#151515" stroke-width="0.94" stroke-linejoin="round" stroke-linecap="round" />
<path d="M625.1,136.2 C635.6,148.9 638.9,170 644.2,195.9" fill="none" stroke="#151515" stroke-width="0.94" stroke-linejoin="round" stroke-linecap="round" />
<path d="M626.9,135.6 C637.4,148.4 640.3,170 645.9,195.4" fill="none" stroke="#151515" stroke-width="0.94" stroke-linejoin="round" stroke-linecap="round" />
<path d="M628.7,135.0 C639.2,147.8 641.8,170 647.5,194.8" fill="none" stroke="#151515" stroke-width="0.94" stroke-linejoin="round" stroke-linecap="round" />
<path d="M636.5,133.5 C646.0,143 651.0,158 653.0,179" fill="none" stroke="#151515" stroke-width="0.94" stroke-linejoin="round" stroke-linecap="round" />
<path d="M638.4,132.7 C647.9,143 652.1,158 654.0,179" fill="none" stroke="#151515" stroke-width="0.94" stroke-linejoin="round" stroke-linecap="round" />
<path d="M640.3,132.0 C649.8,143 653.3,158 654.9,179" fill="none" stroke="#151515" stroke-width="0.94" stroke-linejoin="round" stroke-linecap="round" />
<path d="M642.2,131.2 C651.7,143 654.4,158 655.9,179" fill="none" stroke="#151515" stroke-width="0.94" stroke-linejoin="round" stroke-linecap="round" />
<path d="M644.1,130.5 C653.6,143 655.6,158 656.8,179" fill="none" stroke="#151515" stroke-width="0.94" stroke-linejoin="round" stroke-linecap="round" />
<path d="M641.5,157 L647.5,154.5 L652,166.5 L646,169 Z" fill="#fff" stroke="#151515" stroke-width="1.18" stroke-linejoin="round" stroke-linecap="round" />
<path d="M647,172 Q644,180 649,192 L655,201" fill="none" stroke="#151515" stroke-width="1.06" stroke-linejoin="round" stroke-linecap="round" />
<path d="M650,171 Q648,180 652,190 L657,198" fill="none" stroke="#151515" stroke-width="1.06" stroke-linejoin="round" stroke-linecap="round" />
<path d="M662,106.5 Q680,109 688,131 L692.5,129 Q685,104 664.5,101.5 Z" fill="#fff" stroke="#151515" stroke-width="1.18" stroke-linejoin="round" stroke-linecap="round" />
<path d="M663,104 Q682,106 690.5,130" fill="none" stroke="#151515" stroke-width="0.94" stroke-linejoin="round" stroke-linecap="round" />
<path d="M697.7,115.1 L707.4,118.7 L692.3,141.8 L684.3,136.5 Z" fill="#fff" stroke="#151515" stroke-width="1.30" stroke-linejoin="round" stroke-linecap="round" />
<path d="M687,137 Q684,141 686.5,146 M690,140 Q688,143 689.5,147" fill="none" stroke="#151515" stroke-width="1.06" stroke-linejoin="round" stroke-linecap="round" />
<path d="M713,141.3 L725,140.8 Q729.3,143 729.3,151 Q729.3,159.5 725.5,161.2 L715,160.8 Z" fill="#fff" stroke="#151515" stroke-width="1.18" stroke-linejoin="round" stroke-linecap="round" />
<path d="M716.3,141.2 Q718.9,151 716.6,160.9" fill="none" stroke="#151515" stroke-width="1.06" stroke-linejoin="round" stroke-linecap="round" />
<path d="M718.8,141.2 Q721.4,151 719.1,160.9" fill="none" stroke="#151515" stroke-width="1.06" stroke-linejoin="round" stroke-linecap="round" />
<path d="M721.4,141.2 Q724.0,151 721.7,160.9" fill="none" stroke="#151515" stroke-width="1.06" stroke-linejoin="round" stroke-linecap="round" />
<path d="M723.9,141.2 Q726.5,151 724.2,160.9" fill="none" stroke="#151515" stroke-width="1.06" stroke-linejoin="round" stroke-linecap="round" />
<path d="M726.5,141.2 Q729.1,151 726.8,160.9" fill="none" stroke="#151515" stroke-width="1.06" stroke-linejoin="round" stroke-linecap="round" />
<path d="M695.6,148.2 Q701,139.5 709,140.5 Q719,144 719.5,158 Q720,175 714,188 L702,221 L699,219.5 L710.5,187 Q716.2,174 715.6,158 Q715,146.5 708.4,144 Q702.5,143.5 698.2,150 Z" fill="#fff" stroke="#151515" stroke-width="1.18" stroke-linejoin="round" stroke-linecap="round" />
<path d="M699.5,147 Q703.5,141.8 708.8,142.3" fill="none" stroke="#151515" stroke-width="0.94" stroke-linejoin="round" stroke-linecap="round" />
<path d="M697,152 L709,147.5 Q714.5,153 712,163 L703,169 Z" fill="#fff" stroke="#151515" stroke-width="1.18" stroke-linejoin="round" stroke-linecap="round" />
<ellipse cx="697.9" cy="161.6" rx="6.6" ry="9.6" transform="rotate(-22 697.9 161.6)" fill="#fff" stroke="#151515" stroke-width="1.30"/>
<path d="M706.5,148.5 Q711,155 708.5,165" fill="none" stroke="#151515" stroke-width="0.94" stroke-linejoin="round" stroke-linecap="round" />
<path d="M696,171.5 L661.5,200.5 L664,203.5 L699.5,174 Z" fill="#fff" stroke="#151515" stroke-width="1.18" stroke-linejoin="round" stroke-linecap="round" />
<line x1="697.0" y1="173.5" x2="663.0" y2="202.0" stroke="#151515" stroke-width="0.83" stroke-linecap="round"/>
<path d="M711.5,178 L684.5,203 L686,206.5 L713,181.5Z" fill="#fff" stroke="#151515" stroke-width="1.18" stroke-linejoin="round" stroke-linecap="round" />
<path d="M704,172 L712,178.5 L706,186" fill="none" stroke="#151515" stroke-width="1.18" stroke-linejoin="round" stroke-linecap="round" />
<path d="M682.5,205 L695,224 L698.5,233 L690,261.5 L674,295 L668.4,302" fill="none" stroke="#151515" stroke-width="1.30" stroke-linejoin="round" stroke-linecap="round" />
<path d="M685.5,205.5 L697.5,223.5 L701,233 L692.5,262.5 L676.5,296.5 L669,304" fill="none" stroke="#151515" stroke-width="1.06" stroke-linejoin="round" stroke-linecap="round" />
<path d="M695,224 L703,221 M693,228 Q697,231 701,228" fill="none" stroke="#151515" stroke-width="1.06" stroke-linejoin="round" stroke-linecap="round" />
<path d="M631.5,211.5 Q640,219 655,222.5 Q668,224 676,214 L682.5,205" fill="none" stroke="#151515" stroke-width="1.18" stroke-linejoin="round" stroke-linecap="round" />
<path d="M633,209.5 Q641,216.5 655,220 Q667,221.5 674,212.5 L680,204" fill="none" stroke="#151515" stroke-width="1.06" stroke-linejoin="round" stroke-linecap="round" />
<path d="M632.5,216 L658,268 Q661,273 664,268 L687,223" fill="none" stroke="#151515" stroke-width="1.18" stroke-linejoin="round" stroke-linecap="round" />
<path d="M635.5,215 L660,264.5 Q661,266.5 662,264.5 L684,222.5" fill="none" stroke="#151515" stroke-width="1.18" stroke-linejoin="round" stroke-linecap="round" />
<path d="M630.5,218.5 L656,271 Q661,278 666.5,271 L689.5,226" fill="none" stroke="#151515" stroke-width="1.18" stroke-linejoin="round" stroke-linecap="round" />
<line x1="669.0" y1="229.0" x2="684.0" y2="220.0" stroke="#151515" stroke-width="0.83" stroke-linecap="round"/>
<line x1="669.0" y1="230.8" x2="684.0" y2="221.8" stroke="#151515" stroke-width="0.83" stroke-linecap="round"/>
<line x1="669.0" y1="232.6" x2="684.0" y2="223.6" stroke="#151515" stroke-width="0.83" stroke-linecap="round"/>
<line x1="669.0" y1="234.4" x2="684.0" y2="225.4" stroke="#151515" stroke-width="0.83" stroke-linecap="round"/>
<path d="M668.4,256 L676,262 M668.4,259 L674.5,264" fill="none" stroke="#151515" stroke-width="1.06" stroke-linejoin="round" stroke-linecap="round" />
<path d="M689.6,252.6 L695,252.6 L695,268.6 L689.6,268.6Z" fill="#fff" stroke="#151515" stroke-width="1.18" stroke-linejoin="round" stroke-linecap="round" />
<path d="M679,286 L686,283.5 L690,294 L682,297.5Z" fill="#fff" stroke="#151515" stroke-width="1.06" stroke-linejoin="round" stroke-linecap="round" />
<ellipse cx="684.5" cy="291.5" rx="4.6" ry="5.6" transform="rotate(25 684.5 291.5)" fill="#fff" stroke="#151515" stroke-width="1.30"/>
<ellipse cx="685.2" cy="291.8" rx="3.2" ry="4.2" transform="rotate(25 685.2 291.8)" fill="#fff" stroke="#151515" stroke-width="1.06"/>
<path d="M643,199 L663,198.5 L663,203 L643,203.5Z" fill="#fff" stroke="#151515" stroke-width="1.06" stroke-linejoin="round" stroke-linecap="round" />
<path d="M645,205.5 L659,205 L659,209.5 L645,210Z" fill="#fff" stroke="#151515" stroke-width="1.06" stroke-linejoin="round" stroke-linecap="round" />
<path d="M659,207 Q664,208 663.5,215" fill="none" stroke="#151515" stroke-width="0.94" stroke-linejoin="round" stroke-linecap="round" />
<path d="M617,201 L619,196 L627,192.5 Q631,186 638,187 Q644,190 645,198 L645.5,212 L640,214 L632,215 L628,226 L628,238 L625.5,234.5 L624.5,224 L620,219.5 L621,213 L617,210Z" fill="#fff" stroke="#151515" stroke-width="1.30" stroke-linejoin="round" stroke-linecap="round" />
<path d="M627,192.5 Q625,202 628,212 M638,187 Q635,198 637.5,212 M641,189.5 Q639,199 640.5,213" fill="none" stroke="#151515" stroke-width="1.06" stroke-linejoin="round" stroke-linecap="round" />
<path d="M613,200 L621,198.5 L621.5,211 L613.5,210.2Z" fill="#fff" stroke="#151515" stroke-width="1.06" stroke-linejoin="round" stroke-linecap="round" />
<ellipse cx="613.2" cy="205.2" rx="5.2" ry="5.6" transform="rotate(0 613.2 205.2)" fill="#fff" stroke="#151515" stroke-width="1.30"/>
<ellipse cx="613.0" cy="205.3" rx="3.4" ry="3.7" transform="rotate(0 613.0 205.3)" fill="#fff" stroke="#151515" stroke-width="1.06"/>
<ellipse cx="618" cy="204.8" rx="3.4" ry="5.6" transform="rotate(0 618 204.8)" fill="none" stroke="#151515" stroke-width="1.06"/>
<path d="M622.5,222 L622.5,228.5 L626,229 L626,222.5 Z M624,229 L624,232" fill="#fff" stroke="#151515" stroke-width="1.06" stroke-linejoin="round" stroke-linecap="round" />
<path d="M628,232 L632,238 L634,242 L630,240 Z" fill="#fff" stroke="#151515" stroke-width="0.94" stroke-linejoin="round" stroke-linecap="round" />
<path d="M548,246 L551,243.5 L556,243 L583.5,249.5 L586,253 L584,256.5 L562,258 Q556,259 552,255 Z" fill="#fff" stroke="#151515" stroke-width="1.30" stroke-linejoin="round" stroke-linecap="round" />
<path d="M551.5,247.5 L580,254" fill="none" stroke="#151515" stroke-width="0.94" stroke-linejoin="round" stroke-linecap="round" />
<path d="M556,243 L558.5,240.5 L564.5,239.5 L566,243 L562,245" fill="#fff" stroke="#151515" stroke-width="1.06" stroke-linejoin="round" stroke-linecap="round" />
<path d="M566,243 L574,240.5 L592,240 L594,243.5 L585,246 L574,247.3" fill="#fff" stroke="#151515" stroke-width="1.06" stroke-linejoin="round" stroke-linecap="round" />
<path d="M576,241 L588,240.5 L590,243 L578,244.5Z" fill="none" stroke="#151515" stroke-width="0.83" stroke-linejoin="round" stroke-linecap="round" />
<path d="M546.7,250 L548,262 L551,267 L556,268 L557,262 L562,258" fill="#fff" stroke="#151515" stroke-width="1.06" stroke-linejoin="round" stroke-linecap="round" />
<path d="M553,257 Q558,261.5 566,259.5 L570,256.5" fill="none" stroke="#151515" stroke-width="1.06" stroke-linejoin="round" stroke-linecap="round" />
<path d="M583,247 L633,247.6 L637,251 L634,256 L627,258.9 L586,258.9 L584,256.5 L586,253 Z" fill="#fff" stroke="#151515" stroke-width="1.30" stroke-linejoin="round" stroke-linecap="round" />
<line x1="586.0" y1="253.0" x2="628.0" y2="253.2" stroke="#151515" stroke-width="0.94" stroke-linecap="round"/>
<ellipse cx="584" cy="252.7" rx="2.6" ry="2.6" transform="rotate(0 584 252.7)" fill="#fff" stroke="#151515" stroke-width="1.06"/>
<ellipse cx="584" cy="252.7" rx="1.0" ry="1.0" transform="rotate(0 584 252.7)" fill="#fff" stroke="#151515" stroke-width="0.71"/>
<ellipse cx="622.4" cy="257.3" rx="4.4" ry="4.4" transform="rotate(0 622.4 257.3)" fill="#fff" stroke="#151515" stroke-width="1.18"/>
<ellipse cx="634.6" cy="253" rx="2.7" ry="2.7" transform="rotate(0 634.6 253)" fill="#fff" stroke="#151515" stroke-width="1.06"/>
<path d="M617,247.3 Q620,244.5 623.5,247.4" fill="none" stroke="#151515" stroke-width="0.94" stroke-linejoin="round" stroke-linecap="round" />
<path d="M644.1,263.3 L649.3,265.5 L626.4,317.1 L621.2,314.9Z" fill="#fff" stroke="#151515" stroke-width="1.06" stroke-linejoin="round" stroke-linecap="round" />
<line x1="643.6" y1="264.4" x2="648.3" y2="267.8" stroke="#151515" stroke-width="0.83" stroke-linecap="round"/>
<line x1="642.9" y1="266.2" x2="647.5" y2="269.5" stroke="#151515" stroke-width="0.83" stroke-linecap="round"/>
<line x1="642.1" y1="267.9" x2="646.7" y2="271.2" stroke="#151515" stroke-width="0.83" stroke-linecap="round"/>
<line x1="641.3" y1="269.6" x2="646.0" y2="273.0" stroke="#151515" stroke-width="0.83" stroke-linecap="round"/>
<line x1="640.6" y1="271.3" x2="645.2" y2="274.7" stroke="#151515" stroke-width="0.83" stroke-linecap="round"/>
<line x1="639.8" y1="273.0" x2="644.4" y2="276.4" stroke="#151515" stroke-width="0.83" stroke-linecap="round"/>
<line x1="639.0" y1="274.8" x2="643.7" y2="278.1" stroke="#151515" stroke-width="0.83" stroke-linecap="round"/>
<line x1="638.3" y1="276.5" x2="642.9" y2="279.8" stroke="#151515" stroke-width="0.83" stroke-linecap="round"/>
<line x1="637.5" y1="278.2" x2="642.1" y2="281.6" stroke="#151515" stroke-width="0.83" stroke-linecap="round"/>
<line x1="636.8" y1="279.9" x2="641.4" y2="283.3" stroke="#151515" stroke-width="0.83" stroke-linecap="round"/>
<line x1="636.0" y1="281.6" x2="640.6" y2="285.0" stroke="#151515" stroke-width="0.83" stroke-linecap="round"/>
<line x1="635.2" y1="283.4" x2="639.9" y2="286.7" stroke="#151515" stroke-width="0.83" stroke-linecap="round"/>
<line x1="634.5" y1="285.1" x2="639.1" y2="288.4" stroke="#151515" stroke-width="0.83" stroke-linecap="round"/>
<line x1="633.7" y1="286.8" x2="638.3" y2="290.2" stroke="#151515" stroke-width="0.83" stroke-linecap="round"/>
<line x1="632.9" y1="288.5" x2="637.6" y2="291.9" stroke="#151515" stroke-width="0.83" stroke-linecap="round"/>
<line x1="632.2" y1="290.2" x2="636.8" y2="293.6" stroke="#151515" stroke-width="0.83" stroke-linecap="round"/>
<line x1="631.4" y1="292.0" x2="636.0" y2="295.3" stroke="#151515" stroke-width="0.83" stroke-linecap="round"/>
<line x1="630.6" y1="293.7" x2="635.3" y2="297.0" stroke="#151515" stroke-width="0.83" stroke-linecap="round"/>
<line x1="629.9" y1="295.4" x2="634.5" y2="298.8" stroke="#151515" stroke-width="0.83" stroke-linecap="round"/>
<line x1="629.1" y1="297.1" x2="633.7" y2="300.5" stroke="#151515" stroke-width="0.83" stroke-linecap="round"/>
<line x1="628.4" y1="298.8" x2="633.0" y2="302.2" stroke="#151515" stroke-width="0.83" stroke-linecap="round"/>
<line x1="627.6" y1="300.6" x2="632.2" y2="303.9" stroke="#151515" stroke-width="0.83" stroke-linecap="round"/>
<line x1="626.8" y1="302.3" x2="631.5" y2="305.6" stroke="#151515" stroke-width="0.83" stroke-linecap="round"/>
<line x1="626.1" y1="304.0" x2="630.7" y2="307.4" stroke="#151515" stroke-width="0.83" stroke-linecap="round"/>
<line x1="625.3" y1="305.7" x2="629.9" y2="309.1" stroke="#151515" stroke-width="0.83" stroke-linecap="round"/>
<line x1="624.5" y1="307.4" x2="629.2" y2="310.8" stroke="#151515" stroke-width="0.83" stroke-linecap="round"/>
<line x1="623.8" y1="309.2" x2="628.4" y2="312.5" stroke="#151515" stroke-width="0.83" stroke-linecap="round"/>
<line x1="623.0" y1="310.9" x2="627.6" y2="314.2" stroke="#151515" stroke-width="0.83" stroke-linecap="round"/>
<line x1="622.2" y1="312.6" x2="626.9" y2="316.0" stroke="#151515" stroke-width="0.83" stroke-linecap="round"/>
<path d="M627.9,276.1 L632.1,277.9 L618.1,309.9 L613.9,308.1Z" fill="#888" stroke="#151515" stroke-width="1.06" stroke-linejoin="round" stroke-linecap="round" />
<line x1="627.5" y1="277.0" x2="631.2" y2="279.9" stroke="#151515" stroke-width="1.06" stroke-linecap="round"/>
<line x1="626.9" y1="278.4" x2="630.6" y2="281.4" stroke="#151515" stroke-width="1.06" stroke-linecap="round"/>
<line x1="626.2" y1="279.9" x2="630.0" y2="282.8" stroke="#151515" stroke-width="1.06" stroke-linecap="round"/>
<line x1="625.6" y1="281.3" x2="629.3" y2="284.3" stroke="#151515" stroke-width="1.06" stroke-linecap="round"/>
<line x1="625.0" y1="282.8" x2="628.7" y2="285.7" stroke="#151515" stroke-width="1.06" stroke-linecap="round"/>
<line x1="624.3" y1="284.3" x2="628.0" y2="287.2" stroke="#151515" stroke-width="1.06" stroke-linecap="round"/>
<line x1="623.7" y1="285.7" x2="627.4" y2="288.7" stroke="#151515" stroke-width="1.06" stroke-linecap="round"/>
<line x1="623.0" y1="287.2" x2="626.8" y2="290.1" stroke="#151515" stroke-width="1.06" stroke-linecap="round"/>
<line x1="622.4" y1="288.6" x2="626.1" y2="291.6" stroke="#151515" stroke-width="1.06" stroke-linecap="round"/>
<line x1="621.8" y1="290.1" x2="625.5" y2="293.0" stroke="#151515" stroke-width="1.06" stroke-linecap="round"/>
<line x1="621.1" y1="291.5" x2="624.9" y2="294.5" stroke="#151515" stroke-width="1.06" stroke-linecap="round"/>
<line x1="620.5" y1="293.0" x2="624.2" y2="295.9" stroke="#151515" stroke-width="1.06" stroke-linecap="round"/>
<line x1="619.9" y1="294.4" x2="623.6" y2="297.4" stroke="#151515" stroke-width="1.06" stroke-linecap="round"/>
<line x1="619.2" y1="295.9" x2="623.0" y2="298.8" stroke="#151515" stroke-width="1.06" stroke-linecap="round"/>
<line x1="618.6" y1="297.3" x2="622.3" y2="300.3" stroke="#151515" stroke-width="1.06" stroke-linecap="round"/>
<line x1="618.0" y1="298.8" x2="621.7" y2="301.7" stroke="#151515" stroke-width="1.06" stroke-linecap="round"/>
<line x1="617.3" y1="300.3" x2="621.0" y2="303.2" stroke="#151515" stroke-width="1.06" stroke-linecap="round"/>
<line x1="616.7" y1="301.7" x2="620.4" y2="304.7" stroke="#151515" stroke-width="1.06" stroke-linecap="round"/>
<line x1="616.0" y1="303.2" x2="619.8" y2="306.1" stroke="#151515" stroke-width="1.06" stroke-linecap="round"/>
<line x1="615.4" y1="304.6" x2="619.1" y2="307.6" stroke="#151515" stroke-width="1.06" stroke-linecap="round"/>
<line x1="614.8" y1="306.1" x2="618.5" y2="309.0" stroke="#151515" stroke-width="1.06" stroke-linecap="round"/>
<path d="M569.4,261.6 L573.3,260 L629.4,324.2 L633,332 L625,326 Z" fill="#fff" stroke="#151515" stroke-width="1.18" stroke-linejoin="round" stroke-linecap="round" />
<line x1="561.5" y1="272.0" x2="611.2" y2="335.6" stroke="#151515" stroke-width="1.06" stroke-linecap="round"/>
<path d="M598.7,325.3 Q603,318.5 609,316.2 L619.2,312.8" fill="none" stroke="#151515" stroke-width="1.06" stroke-linejoin="round" stroke-linecap="round" />
<path d="M599.9,326.3 Q604,320 609.6,317.6 L620,314.2" fill="none" stroke="#151515" stroke-width="1.06" stroke-linejoin="round" stroke-linecap="round" />
<path d="M597.8,324.6 L600.4,327" fill="none" stroke="#151515" stroke-width="1.06" stroke-linejoin="round" stroke-linecap="round" />
<path d="M630.0,311.5 L634.6,320.0 L634.6,350.0" fill="none" stroke="#151515" stroke-width="0.94" stroke-linejoin="round" stroke-linecap="round" />
<path d="M631.2,312.1 L636.2,320.8 L636.2,349.5" fill="none" stroke="#151515" stroke-width="0.94" stroke-linejoin="round" stroke-linecap="round" />
<path d="M632.4,312.7 L637.8,321.6 L637.8,349.0" fill="none" stroke="#151515" stroke-width="0.94" stroke-linejoin="round" stroke-linecap="round" />
<path d="M633.6,313.3 L639.4,322.4 L639.4,348.5" fill="none" stroke="#151515" stroke-width="0.94" stroke-linejoin="round" stroke-linecap="round" />
<ellipse cx="623.7" cy="341.9" rx="12.3" ry="15.0" transform="rotate(-22 623.7 341.9)" fill="#fff" stroke="#151515" stroke-width="1.42"/>
<ellipse cx="623.2" cy="342.6" rx="10.6" ry="13.2" transform="rotate(-22 623.2 342.6)" fill="#fff" stroke="#151515" stroke-width="1.06"/>
<ellipse cx="622.4" cy="343.6" rx="8.6" ry="11.0" transform="rotate(-22 622.4 343.6)" fill="#fff" stroke="#151515" stroke-width="1.06"/>
<ellipse cx="621.8" cy="344.4" rx="6.2" ry="8.6" transform="rotate(-22 621.8 344.4)" fill="#fff" stroke="#151515" stroke-width="1.06"/>
<ellipse cx="621.5" cy="345.3" rx="3.5" ry="5.2" transform="rotate(-22 621.5 345.3)" fill="#fff" stroke="#151515" stroke-width="1.06"/>
<path d="M611.5,334.5 L608.8,333" fill="none" stroke="#151515" stroke-width="1.06" stroke-linejoin="round" stroke-linecap="round" />
<path d="M567,127 C566,152 575,162 590,174 C603,184 607,192 609.5,201" fill="none" stroke="#151515" stroke-width="1.42" stroke-linejoin="round" stroke-linecap="round" />
<path d="M564,113 L564.4,118.5 L565.3,119.5 L565.5,126 Q567.3,128 569,126 L569.3,119.5 L570.6,118.5 L571,113Z" fill="#fff" stroke="#151515" stroke-width="1.06" stroke-linejoin="round" stroke-linecap="round" />
<ellipse cx="567.6" cy="110.6" rx="8" ry="5" transform="rotate(5 567.6 110.6)" fill="#fff" stroke="#151515" stroke-width="1.30"/>
<ellipse cx="567.8" cy="110.4" rx="2.6" ry="1.5" transform="rotate(5 567.8 110.4)" fill="#fff" stroke="#151515" stroke-width="1.06"/>
<path d="M561,462 L611,410 L614,408 L627,408 L630,414 L668.4,418 L668.5,393 L682.8,378.2 L697.6,369 L717,368.5 L720.4,376 L734,379.4 L739.7,397.6 L735,412 L722,432 L712,450 L700,468 L691,476 L676,486 L640,500 L600,505 L580,500 L572,520 L562,528 L556,522 L555,494 L558,470 Z" fill="#fff" stroke="#151515" stroke-width="1.18" stroke-linejoin="round" stroke-linecap="round" />
<path d="M697.0,368.5 C688.0,377.0 682.5,391 680.5,407 S676.5,420 674.0,426" fill="none" stroke="#222" stroke-width="0.94" stroke-linejoin="round" stroke-linecap="round" />
<path d="M698.2,369.2 C689.4,377.4 683.9,391 681.9,407 S677.9,420 675.4,426" fill="none" stroke="#222" stroke-width="0.94" stroke-linejoin="round" stroke-linecap="round" />
<path d="M699.4,370.0 C690.7,377.8 685.2,391 683.2,407 S679.2,420 676.7,426" fill="none" stroke="#222" stroke-width="0.94" stroke-linejoin="round" stroke-linecap="round" />
<path d="M700.6,370.7 C692.0,378.2 686.5,391 684.5,407 S680.5,420 678.0,426" fill="none" stroke="#222" stroke-width="0.94" stroke-linejoin="round" stroke-linecap="round" />
<path d="M701.9,371.5 C693.4,378.6 687.9,391 685.9,407 S681.9,420 679.4,426" fill="none" stroke="#222" stroke-width="0.94" stroke-linejoin="round" stroke-linecap="round" />
<path d="M703.1,372.2 C694.8,379.0 689.2,391 687.2,407 S683.2,420 680.8,426" fill="none" stroke="#222" stroke-width="0.94" stroke-linejoin="round" stroke-linecap="round" />
<path d="M704.3,373.0 C696.1,379.4 690.6,391 688.6,407 S684.6,420 682.1,426" fill="none" stroke="#222" stroke-width="0.94" stroke-linejoin="round" stroke-linecap="round" />
<path d="M715.0,375.5 C708.0,383.0 704.0,394 703.0,408 L702.0,425" fill="none" stroke="#222" stroke-width="0.94" stroke-linejoin="round" stroke-linecap="round" />
<path d="M715.8,376.3 C709.4,383.4 705.4,394 704.4,408 L703.4,425" fill="none" stroke="#222" stroke-width="0.94" stroke-linejoin="round" stroke-linecap="round" />
<path d="M716.6,377.1 C710.7,383.8 706.7,394 705.7,408 L704.7,425" fill="none" stroke="#222" stroke-width="0.94" stroke-linejoin="round" stroke-linecap="round" />
<path d="M717.4,377.9 C712.0,384.2 708.0,394 707.0,408 L706.0,425" fill="none" stroke="#222" stroke-width="0.94" stroke-linejoin="round" stroke-linecap="round" />
<path d="M718.2,378.7 C713.4,384.6 709.4,394 708.4,408 L707.4,425" fill="none" stroke="#222" stroke-width="0.94" stroke-linejoin="round" stroke-linecap="round" />
<path d="M719.0,379.6 C714.8,385.0 710.8,394 709.8,408 L708.8,425" fill="none" stroke="#222" stroke-width="0.94" stroke-linejoin="round" stroke-linecap="round" />
<path d="M719.9,380.4 C716.1,385.4 712.1,394 711.1,408 L710.1,425" fill="none" stroke="#222" stroke-width="0.94" stroke-linejoin="round" stroke-linecap="round" />
<path d="M693,396 L700,392 L704,395 L703,404 L696,407.5 Z" fill="#fff" stroke="#151515" stroke-width="1.06" stroke-linejoin="round" stroke-linecap="round" />
<path d="M688,399 L693,397 L693,412 L688,414Z" fill="#fff" stroke="#151515" stroke-width="1.06" stroke-linejoin="round" stroke-linecap="round" />
<path d="M706,400 L714,396 L718,399 L718,409 L710,412 Z" fill="#fff" stroke="#151515" stroke-width="1.06" stroke-linejoin="round" stroke-linecap="round" />
<path d="M716,404 L722,401.5 L725,404 L725,412 L719,414 Z" fill="#fff" stroke="#151515" stroke-width="1.06" stroke-linejoin="round" stroke-linecap="round" />
<path d="M724,386 L736,383 L738,394 L728,398 Z" fill="#fff" stroke="#151515" stroke-width="1.06" stroke-linejoin="round" stroke-linecap="round" />
<path d="M668.5,393 L682.8,378.2 L697.6,369 L717,368.5 L720.4,376 L734,379.4 L739.7,397.6" fill="none" stroke="#151515" stroke-width="1.30" stroke-linejoin="round" stroke-linecap="round" />
<path d="M671.4,404.4 L671.4,410 L677.4,410 L677.4,404.4 Z M674.5,407.3 L677.4,407.3" fill="none" stroke="#151515" stroke-width="1.06" stroke-linejoin="round" stroke-linecap="round" />
<path d="M690,444 L735,415 L737,419 L693,449 Z" fill="#fff" stroke="#151515" stroke-width="1.18" stroke-linejoin="round" stroke-linecap="round" />
<path d="M686,452 L733,421 L735,426 L690,458 Q686,458 686,452 Z" fill="#fff" stroke="#151515" stroke-width="1.18" stroke-linejoin="round" stroke-linecap="round" />
<line x1="696.0" y1="441.0" x2="697.5" y2="445.5" stroke="#151515" stroke-width="1.06" stroke-linecap="round"/>
<line x1="701.2" y1="437.6" x2="702.7" y2="442.1" stroke="#151515" stroke-width="1.06" stroke-linecap="round"/>
<line x1="706.4" y1="434.2" x2="707.9" y2="438.7" stroke="#151515" stroke-width="1.06" stroke-linecap="round"/>
<line x1="711.6" y1="430.8" x2="713.1" y2="435.3" stroke="#151515" stroke-width="1.06" stroke-linecap="round"/>
<line x1="716.8" y1="427.4" x2="718.3" y2="431.9" stroke="#151515" stroke-width="1.06" stroke-linecap="round"/>
<line x1="722.0" y1="424.0" x2="723.5" y2="428.5" stroke="#151515" stroke-width="1.06" stroke-linecap="round"/>
<path d="M684,466 L722,438 L724,442 L690,470 Z" fill="#fff" stroke="#151515" stroke-width="1.18" stroke-linejoin="round" stroke-linecap="round" />
<path d="M668,425 L700,437 M672,420 L706,432 M700,437 L712,428 M680,440 L690,446" fill="none" stroke="#151515" stroke-width="1.06" stroke-linejoin="round" stroke-linecap="round" />
<path d="M668.4,418 L676,430 L672,446 L684,452" fill="none" stroke="#151515" stroke-width="1.06" stroke-linejoin="round" stroke-linecap="round" />
<path d="M642,437 Q648,425 664,424 Q684,425 685,436 Q684,447 664,449 Q646,449 642,437Z" fill="none" stroke="#151515" stroke-width="1.06" stroke-linejoin="round" stroke-linecap="round" />
<path d="M656,437 Q660,428 672,427 Q688,430 689,416 L689,405" fill="none" stroke="#151515" stroke-width="1.06" stroke-linejoin="round" stroke-linecap="round" />
<path d="M658,440 Q664,444 674,441 Q692,434 692,418 L692,407" fill="none" stroke="#151515" stroke-width="1.06" stroke-linejoin="round" stroke-linecap="round" />
<path d="M644,431 Q650,428 656,431 L656,443 Q650,446 644,443Z" fill="#fff" stroke="#151515" stroke-width="1.06" stroke-linejoin="round" stroke-linecap="round" />
<ellipse cx="662" cy="438" rx="6" ry="7.5" transform="rotate(10 662 438)" fill="#fff" stroke="#151515" stroke-width="1.06"/>
<path d="M668,432 L676,433 L678,443 L669,445" fill="none" stroke="#151515" stroke-width="1.06" stroke-linejoin="round" stroke-linecap="round" />
<path d="M667.7,443.7 L678.3,443.7 L683.7,451.7 L678.3,459.7 L667.7,455.7Z" fill="#fff" stroke="#151515" stroke-width="1.06" stroke-linejoin="round" stroke-linecap="round" />
<path d="M670.3,458.3 L681,455.7 L681,469 L673,471.7Z" fill="#fff" stroke="#151515" stroke-width="1.06" stroke-linejoin="round" stroke-linecap="round" />
<path d="M683.7,447.7 L691.7,442.3 L695.7,451.7 L689,465 L683.7,469Z" fill="#fff" stroke="#151515" stroke-width="1.06" stroke-linejoin="round" stroke-linecap="round" />
<path d="M673,471.7 L673,482 M681,469 L686,478 L678,484 M667,456 L664,466 L668,478 M660,462 L664,466" fill="none" stroke="#151515" stroke-width="1.06" stroke-linejoin="round" stroke-linecap="round" />
<ellipse cx="658.3" cy="458.3" rx="2.6" ry="2.6" transform="rotate(0 658.3 458.3)" fill="#fff" stroke="#151515" stroke-width="1.06"/>
<path d="M652,461 L660,461.5 M656,462 Q654,466 657,467.5 M663,462 Q666.5,464.5 665,468 M654.5,456 L648,460" fill="none" stroke="#151515" stroke-width="0.94" stroke-linejoin="round" stroke-linecap="round" />
<path d="M690.3,466.3 L695.7,465 L694.3,470.3Z" fill="#222" stroke="#151515" stroke-width="0.59" stroke-linejoin="round" stroke-linecap="round" />
<path d="M630,416.5 Q648,432 668.4,420.5" fill="none" stroke="#151515" stroke-width="1.30" stroke-linejoin="round" stroke-linecap="round" />
<path d="M563,460.9 L611.2,410.4 L613.9,408 L627.3,408 L621.9,422.8 L630,428 L631.7,438.3 L654.3,457 L649,463.7 L640,458 L612,470 L590,477 L577,469.8 Q570,477 563,472 Q558,467 563,460.9Z" fill="#fff" stroke="#151515" stroke-width="1.42" stroke-linejoin="round" stroke-linecap="round" />
<path d="M575.1,453.5 L608.5,425.4 L608.5,440.2" fill="none" stroke="#151515" stroke-width="1.18" stroke-linejoin="round" stroke-linecap="round" />
<path d="M604.5,417.4 L610,424 L621.9,422.8" fill="none" stroke="#151515" stroke-width="1.06" stroke-linejoin="round" stroke-linecap="round" />
<path d="M577.8,456.2 L608.5,433.5 L617.9,441.5 L580.5,459.5 Z" fill="#f7f7f7" stroke="#151515" stroke-width="1.06" stroke-linejoin="round" stroke-linecap="round" />
<path d="M596,443.5 L599.5,441 L603,444 L599.5,446.5Z" fill="none" stroke="#151515" stroke-width="0.94" stroke-linejoin="round" stroke-linecap="round" />
<path d="M576.4,458.9 L617.9,441.5 L627.3,441.5 L648.7,456.2" fill="none" stroke="#151515" stroke-width="1.18" stroke-linejoin="round" stroke-linecap="round" />
<path d="M580.4,466.9 L619.3,449.5 L627,449.5 L644,461" fill="none" stroke="#151515" stroke-width="1.18" stroke-linejoin="round" stroke-linecap="round" />
<path d="M617.9,441.5 L619.3,449.5 M627.3,441.5 L627,449.5" fill="none" stroke="#151515" stroke-width="1.06" stroke-linejoin="round" stroke-linecap="round" />
<path d="M610.3,429 L622.3,438.3 L631.7,438.3" fill="none" stroke="#151515" stroke-width="1.18" stroke-linejoin="round" stroke-linecap="round" />
<path d="M609,437 L618.3,445 L627.7,445" fill="none" stroke="#151515" stroke-width="1.06" stroke-linejoin="round" stroke-linecap="round" />
<path d="M618.3,439.7 L618.3,446.3" fill="none" stroke="#151515" stroke-width="1.06" stroke-linejoin="round" stroke-linecap="round" />
<path d="M605,418 L611,411.5 L617,411 L622,413 L619,420 L612,422 Z" fill="none" stroke="#151515" stroke-width="1.06" stroke-linejoin="round" stroke-linecap="round" />
<ellipse cx="612.8" cy="416.6" rx="2.2" ry="1.6" transform="rotate(-40 612.8 416.6)" fill="#fff" stroke="#151515" stroke-width="0.94"/>
<path d="M613.9,408 L612,421 M627.3,408 L624,419" fill="none" stroke="#151515" stroke-width="1.06" stroke-linejoin="round" stroke-linecap="round" />
<path d="M612,422 L620,427 L628,425 M620,427 L620,436 L626,441 M630,428 L630,416" fill="none" stroke="#151515" stroke-width="1.06" stroke-linejoin="round" stroke-linecap="round" />
<path d="M626,431 L640,424 L646,428 L634,436Z" fill="#fff" stroke="#151515" stroke-width="1.06" stroke-linejoin="round" stroke-linecap="round" />
<path d="M610.3,459.7 L633,453.7 Q637,455 635.7,459.7 L611.7,467.7 Q607,466 610.3,459.7Z" fill="#fff" stroke="#151515" stroke-width="1.06" stroke-linejoin="round" stroke-linecap="round" />
<path d="M616,458.2 q2.4,3.5 0.8,7.6" fill="none" stroke="#151515" stroke-width="0.94" stroke-linejoin="round" stroke-linecap="round" />
<path d="M621.5,456.8 q2.4,3.5 0.8,7.6" fill="none" stroke="#151515" stroke-width="0.94" stroke-linejoin="round" stroke-linecap="round" />
<path d="M626.5,455.4 q2.4,3.5 0.8,7.6" fill="none" stroke="#151515" stroke-width="0.94" stroke-linejoin="round" stroke-linecap="round" />
<path d="M631,454.2 q2.4,3.5 0.8,7.6" fill="none" stroke="#151515" stroke-width="0.94" stroke-linejoin="round" stroke-linecap="round" />
<ellipse cx="601.5" cy="463.6" rx="2.6" ry="5.2" transform="rotate(8 601.5 463.6)" fill="none" stroke="#151515" stroke-width="0.94"/>
<ellipse cx="603.7" cy="463.1" rx="2.6" ry="5.2" transform="rotate(8 603.7 463.1)" fill="none" stroke="#151515" stroke-width="0.94"/>
<ellipse cx="605.9" cy="462.6" rx="2.6" ry="5.2" transform="rotate(8 605.9 462.6)" fill="none" stroke="#151515" stroke-width="0.94"/>
<ellipse cx="608.1" cy="462.1" rx="2.6" ry="5.2" transform="rotate(8 608.1 462.1)" fill="none" stroke="#151515" stroke-width="0.94"/>
<ellipse cx="613.2" cy="464.6" rx="3.3" ry="3.7" transform="rotate(0 613.2 464.6)" fill="#fff" stroke="#151515" stroke-width="1.06"/>
<ellipse cx="602.3" cy="471.7" rx="3.0" ry="3.0" transform="rotate(0 602.3 471.7)" fill="#fff" stroke="#151515" stroke-width="1.06"/>
<ellipse cx="596" cy="474.5" rx="2.4" ry="2.4" transform="rotate(0 596 474.5)" fill="#fff" stroke="#151515" stroke-width="1.06"/>
<ellipse cx="608" cy="472" rx="2.4" ry="2.4" transform="rotate(0 608 472)" fill="#fff" stroke="#151515" stroke-width="1.06"/>
<path d="M590,477 L590,484 M596,478 L604,484 L612,481 M636,460 L646,467 L640,472" fill="none" stroke="#151515" stroke-width="1.06" stroke-linejoin="round" stroke-linecap="round" />
<path d="M585,465 L592,470 M585,450.3 L585,443.7" fill="none" stroke="#151515" stroke-width="0.94" stroke-linejoin="round" stroke-linecap="round" />
<ellipse cx="571.5" cy="468.3" rx="5.6" ry="5.6" transform="rotate(0 571.5 468.3)" fill="#fff" stroke="#151515" stroke-width="1.30"/>
<path d="M565.3,466.5 Q566,461 571.5,460.5 Q577,461 578,466" fill="none" stroke="#151515" stroke-width="0.94" stroke-linejoin="round" stroke-linecap="round" />
<path d="M560.2,468 L557.6,498.6 Q557,503 561,503.5 L563,502.6 L569.6,476" fill="#fff" stroke="#151515" stroke-width="1.30" stroke-linejoin="round" stroke-linecap="round" />
<path d="M558,505 L564,506 L565,522 L559,524 Q556,520 558,505Z" fill="#fff" stroke="#151515" stroke-width="1.06" stroke-linejoin="round" stroke-linecap="round" />
<path d="M566,498 L575,492 L578,496 L570,503 Z" fill="#fff" stroke="#151515" stroke-width="1.06" stroke-linejoin="round" stroke-linecap="round" />
<path d="M570,486 L578,480 M572,490 L582,484 M574,476 L586,482 L592,478" fill="none" stroke="#151515" stroke-width="1.06" stroke-linejoin="round" stroke-linecap="round" />
<ellipse cx="571.5" cy="501.5" rx="2.2" ry="2.2" transform="rotate(0 571.5 501.5)" fill="#fff" stroke="#151515" stroke-width="0.94"/>
<ellipse cx="675.5" cy="481.5" rx="2.6" ry="2" transform="rotate(0 675.5 481.5)" fill="#fff" stroke="#151515" stroke-width="1.06"/>
<ellipse cx="684" cy="484" rx="2.6" ry="2" transform="rotate(0 684 484)" fill="#fff" stroke="#151515" stroke-width="1.06"/>
<path d="M688,470 L694,474 L690.8,474.2Z" fill="#222" stroke="#151515" stroke-width="0.59" stroke-linejoin="round" stroke-linecap="round" />
<clipPath id="tc3"><path d="M707.8,478.7 L708.1,473.8 L708.6,468.8 L709.4,463.9 L710.5,458.9 L711.9,453.9 L713.5,448.9 L715.5,444.0 L717.7,439.2 L720.1,434.5 L722.8,429.9 L725.7,425.5 L728.8,421.3 L732.1,417.2 L735.5,413.4 L739.2,409.8 L743.0,406.4 L746.9,403.3 L750.9,400.5 L755.0,398.0 L759.1,395.8 L763.3,393.9 L767.6,392.4 L771.8,391.1 L776.0,390.3 L780.2,389.7 L781.1,389.6 L782.1,389.5 L786.2,389.4 L787.2,389.3 L788.1,389.3 L792.3,389.5 L793.2,389.6 L794.2,389.7 L798.3,390.2 L799.2,390.4 L800.1,390.6 L804.1,391.4 L805.1,391.7 L806.0,392.0 L809.9,393.2 L810.8,393.6 L811.6,393.9 L815.4,395.6 L816.2,396.0 L817.1,396.4 L819.8,397.9 L820.6,398.4 L821.4,398.9 L824.8,401.2 L825.6,401.8 L826.3,402.3 L829.5,405.0 L830.2,405.6 L830.9,406.2 L833.8,409.1 L834.4,409.8 L837.1,413.0 L839.5,416.5 L841.6,420.2 L843.5,424.2 L845.0,428.4 L846.3,432.8 L847.3,437.4 L848.0,442.2 L848.4,447.1 L848.4,452.1 L848.2,457.1 L847.6,462.3 L846.8,467.5 L845.6,472.7 L844.2,477.9 L842.5,483.1 L840.5,488.1 L838.2,493.2 L835.6,498.1 L832.9,502.8 L829.8,507.4 L826.6,511.9 L823.2,516.1 L819.5,520.1 L815.8,523.8 L811.8,527.3 L807.8,530.5 L803.6,533.5 L799.3,536.1 L795.0,538.4 L790.6,540.3 L786.2,542.0 L781.8,543.2 L777.4,544.1 L773.0,544.7 L768.7,544.9 L764.5,544.7 L760.4,544.2 L759.5,544.0 L755.5,543.1 L754.5,542.9 L753.6,542.6 L749.8,541.4 L748.9,541.0 L748.0,540.7 L744.2,539.1 L743.4,538.6 L742.5,538.2 L739.0,536.2 L738.1,535.8 L737.4,535.2 L734.0,532.9 L733.2,532.4 L732.5,531.7 L729.4,529.1 L728.6,528.5 L728.0,527.8 L725.1,524.9 L724.5,524.2 L721.8,521.0 L721.2,520.3 L720.6,519.5 L718.3,516.1 L717.8,515.3 L717.3,514.5 L715.2,510.9 L714.8,510.1 L714.4,509.2 L712.6,505.4 L711.1,501.4 L709.9,497.1 L708.9,492.7 L708.2,488.2 L707.9,483.5Z"/></clipPath>
<path d="M707.8,478.7 L708.1,473.8 L708.6,468.8 L709.4,463.9 L710.5,458.9 L711.9,453.9 L713.5,448.9 L715.5,444.0 L717.7,439.2 L720.1,434.5 L722.8,429.9 L725.7,425.5 L728.8,421.3 L732.1,417.2 L735.5,413.4 L739.2,409.8 L743.0,406.4 L746.9,403.3 L750.9,400.5 L755.0,398.0 L759.1,395.8 L763.3,393.9 L767.6,392.4 L771.8,391.1 L776.0,390.3 L780.2,389.7 L781.1,389.6 L782.1,389.5 L786.2,389.4 L787.2,389.3 L788.1,389.3 L792.3,389.5 L793.2,389.6 L794.2,389.7 L798.3,390.2 L799.2,390.4 L800.1,390.6 L804.1,391.4 L805.1,391.7 L806.0,392.0 L809.9,393.2 L810.8,393.6 L811.6,393.9 L815.4,395.6 L816.2,396.0 L817.1,396.4 L819.8,397.9 L820.6,398.4 L821.4,398.9 L824.8,401.2 L825.6,401.8 L826.3,402.3 L829.5,405.0 L830.2,405.6 L830.9,406.2 L833.8,409.1 L834.4,409.8 L837.1,413.0 L839.5,416.5 L841.6,420.2 L843.5,424.2 L845.0,428.4 L846.3,432.8 L847.3,437.4 L848.0,442.2 L848.4,447.1 L848.4,452.1 L848.2,457.1 L847.6,462.3 L846.8,467.5 L845.6,472.7 L844.2,477.9 L842.5,483.1 L840.5,488.1 L838.2,493.2 L835.6,498.1 L832.9,502.8 L829.8,507.4 L826.6,511.9 L823.2,516.1 L819.5,520.1 L815.8,523.8 L811.8,527.3 L807.8,530.5 L803.6,533.5 L799.3,536.1 L795.0,538.4 L790.6,540.3 L786.2,542.0 L781.8,543.2 L777.4,544.1 L773.0,544.7 L768.7,544.9 L764.5,544.7 L760.4,544.2 L759.5,544.0 L755.5,543.1 L754.5,542.9 L753.6,542.6 L749.8,541.4 L748.9,541.0 L748.0,540.7 L744.2,539.1 L743.4,538.6 L742.5,538.2 L739.0,536.2 L738.1,535.8 L737.4,535.2 L734.0,532.9 L733.2,532.4 L732.5,531.7 L729.4,529.1 L728.6,528.5 L728.0,527.8 L725.1,524.9 L724.5,524.2 L721.8,521.0 L721.2,520.3 L720.6,519.5 L718.3,516.1 L717.8,515.3 L717.3,514.5 L715.2,510.9 L714.8,510.1 L714.4,509.2 L712.6,505.4 L711.1,501.4 L709.9,497.1 L708.9,492.7 L708.2,488.2 L707.9,483.5Z" fill="#676767" stroke="#111" stroke-width="1.6" stroke-linejoin="round"/>
<g clip-path="url(#tc3)">
<path d="M761.5,532.3 L756.9,532.9 L752.3,533.1 L747.9,532.8 L743.6,532.1 L739.4,531.0 L735.4,529.5 L731.6,527.6 L728.0,525.2 L724.7,522.5 L721.6,519.5 L718.8,516.1 L716.3,512.3 L714.2,508.3 L712.3,504.0 L710.8,499.4 L709.6,494.6 L708.8,489.6 L708.3,484.4 L708.2,479.1 L708.5,473.7 L709.1,468.3 L710.0,462.7 L711.4,457.2 L713.0,451.7 L715.0,446.3 L717.3,440.9 L719.9,435.7 L722.8,430.6 L726.0,425.7 L729.5,421.0 L733.1,416.6 L737.0,412.4 L741.1,408.5 L745.3,404.9 L749.7,401.7 L754.2,398.8 L758.8,396.3 L763.4,394.1 L768.1,392.4 L772.7,391.1 L777.4,390.2 L782.0,389.7 L786.5,389.7 L790.9,390.0 L795.2,390.8 L799.4,392.0 L803.3,393.7 L807.1,395.7 L810.6,398.1 L813.9,400.9 L816.9,404.1 L819.6,407.5 L822.0,411.4 L824.1,415.5 L825.9,419.9 L827.3,424.5 L828.4,429.3 L829.1,434.4 L829.5,439.6 L829.5,444.9" fill="none" stroke="#2e2e2e" stroke-width="3.0"/>
<path d="M763.8,533.5 L759.2,534.2 L754.6,534.4 L750.2,534.2 L745.8,533.5 L741.6,532.4 L737.6,531.0 L733.8,529.1 L730.2,526.8 L726.8,524.1 L723.7,521.0 L720.9,517.7 L718.4,513.9 L716.1,509.9 L714.2,505.6 L712.7,501.0 L711.4,496.2 L710.6,491.2 L710.1,486.0 L709.9,480.7 L710.1,475.3 L710.7,469.8 L711.6,464.3 L712.9,458.7 L714.5,453.2 L716.4,447.7 L718.7,442.3 L721.3,437.0 L724.1,431.9 L727.3,426.9 L730.7,422.2 L734.3,417.7 L738.2,413.4 L742.2,409.5 L746.4,405.8 L750.8,402.5 L755.3,399.6 L759.8,397.0 L764.5,394.8 L769.1,393.0 L773.8,391.7 L778.4,390.7 L783.1,390.2 L787.6,390.1 L792.0,390.4 L796.3,391.1 L800.5,392.3 L804.5,393.9 L808.2,395.9 L811.8,398.3 L815.1,401.0 L818.1,404.2 L820.9,407.6 L823.3,411.4 L825.5,415.5 L827.3,419.9 L828.8,424.6 L829.9,429.4 L830.7,434.5 L831.1,439.7 L831.2,445.0" fill="none" stroke="#444" stroke-width="2.0"/>
<path d="M789.5,541.4 L785.2,542.6 L780.9,543.3 L776.6,543.6 L772.5,543.5 L768.4,543.0 L764.4,542.0 L760.6,540.6 L757.0,538.8 L753.5,536.6 L750.3,534.1 L747.3,531.1 L744.5,527.8 L742.0,524.2 L739.8,520.2 L737.9,516.0 L736.3,511.5 L735.0,506.8 L734.0,501.8 L733.4,496.7 L733.0,491.5 L733.0,486.1 L733.4,480.6 L734.0,475.1 L735.0,469.5 L736.4,464.0 L738.0,458.5 L739.9,453.1 L742.2,447.8 L744.7,442.6 L747.4,437.7 L750.4,432.9 L753.7,428.3 L757.1,424.0 L760.8,420.0 L764.6,416.3 L768.6,412.9 L772.6,409.9 L776.8,407.3 L781.1,405.0 L785.4,403.1 L789.7,401.6 L794.0,400.6 L798.3,399.9 L802.5,399.7 L806.7,399.9 L810.7,400.6 L814.6,401.6 L818.4,403.1 L822.0,405.0 L825.4,407.3 L828.6,410.0 L831.5,413.0 L834.2,416.4 L836.6,420.1 L838.8,424.1 L840.6,428.4 L842.2,433.0 L843.4,437.8 L844.3,442.7 L844.9,447.9" fill="none" stroke="#424242" stroke-width="1.9"/>
<path d="M791.1,541.6 L786.8,542.8 L782.5,543.5 L778.3,543.9 L774.2,543.8 L770.1,543.3 L766.2,542.4 L762.4,541.0 L758.8,539.3 L755.4,537.1 L752.1,534.6 L749.1,531.7 L746.4,528.4 L743.9,524.8 L741.6,520.9 L739.7,516.7 L738.1,512.3 L736.8,507.6 L735.7,502.7 L735.1,497.6 L734.7,492.4 L734.7,487.0 L735.0,481.6 L735.6,476.1 L736.6,470.5 L737.9,465.0 L739.4,459.6 L741.3,454.2 L743.5,448.9 L746.0,443.7 L748.7,438.8 L751.6,434.0 L754.8,429.4 L758.2,425.1 L761.8,421.1 L765.6,417.4 L769.5,414.0 L773.5,411.0 L777.7,408.3 L781.9,406.0 L786.1,404.1 L790.4,402.6 L794.7,401.5 L798.9,400.9 L803.1,400.6 L807.3,400.8 L811.3,401.4 L815.2,402.4 L818.9,403.9 L822.5,405.7 L825.9,408.0 L829.1,410.6 L832.0,413.6 L834.7,417.0 L837.1,420.6 L839.3,424.6 L841.1,428.9 L842.7,433.4 L844.0,438.1 L844.9,443.1 L845.5,448.2" fill="none" stroke="#767676" stroke-width="1.2"/>
<path d="M787.7,541.2 L783.4,542.3 L779.0,543.0 L774.7,543.3 L770.5,543.1 L766.4,542.5 L762.5,541.5 L758.6,540.1 L755.0,538.3 L751.5,536.1 L748.3,533.4 L745.3,530.5 L742.5,527.1 L740.0,523.4 L737.8,519.5 L735.9,515.2 L734.3,510.6 L733.1,505.9 L732.1,500.9 L731.5,495.7 L731.2,490.4 L731.2,485.0 L731.6,479.5 L732.3,474.0 L733.4,468.4 L734.7,462.8 L736.4,457.3 L738.4,451.9 L740.7,446.6 L743.2,441.4 L746.1,436.5 L749.1,431.7 L752.4,427.1 L756.0,422.8 L759.7,418.8 L763.5,415.1 L767.5,411.8 L771.7,408.8 L775.9,406.1 L780.2,403.9 L784.5,402.0 L788.9,400.6 L793.3,399.5 L797.6,398.9 L801.8,398.8 L806.0,399.0 L810.1,399.7 L814.0,400.8 L817.8,402.3 L821.4,404.3 L824.8,406.6 L828.0,409.3 L831.0,412.4 L833.7,415.8 L836.1,419.5 L838.2,423.6 L840.0,427.9 L841.6,432.5 L842.8,437.4 L843.6,442.4 L844.2,447.6" fill="none" stroke="#585858" stroke-width="1.4"/>
<path d="M783.8,540.5 L779.4,541.5 L775.0,542.2 L770.6,542.4 L766.4,542.1 L762.2,541.5 L758.2,540.4 L754.3,538.9 L750.7,536.9 L747.2,534.6 L743.9,531.9 L740.9,528.8 L738.2,525.4 L735.7,521.7 L733.6,517.6 L731.7,513.2 L730.1,508.6 L728.9,503.8 L728.0,498.7 L727.5,493.5 L727.3,488.1 L727.4,482.7 L727.9,477.1 L728.7,471.5 L729.8,465.9 L731.3,460.3 L733.1,454.8 L735.2,449.3 L737.6,444.0 L740.3,438.8 L743.2,433.8 L746.4,429.1 L749.8,424.5 L753.4,420.3 L757.2,416.3 L761.2,412.6 L765.3,409.3 L769.6,406.3 L773.9,403.8 L778.3,401.6 L782.7,399.8 L787.2,398.4 L791.6,397.4 L796.0,396.9 L800.3,396.8 L804.6,397.1 L808.7,397.9 L812.7,399.1 L816.5,400.7 L820.1,402.7 L823.5,405.1 L826.7,407.9 L829.7,411.1 L832.3,414.6 L834.7,418.5 L836.8,422.6 L838.6,427.0 L840.1,431.7 L841.2,436.6 L842.0,441.7 L842.5,446.9" fill="none" stroke="#424242" stroke-width="1.9"/>
<path d="M785.4,540.8 L781.0,541.9 L776.6,542.5 L772.3,542.8 L768.1,542.6 L763.9,541.9 L759.9,540.9 L756.1,539.4 L752.4,537.5 L749.0,535.2 L745.7,532.6 L742.7,529.5 L740.0,526.1 L737.5,522.4 L735.3,518.4 L733.4,514.0 L731.8,509.5 L730.6,504.6 L729.7,499.6 L729.1,494.4 L728.8,489.1 L728.9,483.6 L729.4,478.1 L730.1,472.5 L731.3,466.9 L732.7,461.3 L734.4,455.8 L736.5,450.4 L738.8,445.1 L741.5,439.9 L744.4,434.9 L747.5,430.1 L750.9,425.6 L754.5,421.3 L758.2,417.3 L762.2,413.6 L766.2,410.3 L770.4,407.3 L774.7,404.7 L779.1,402.5 L783.5,400.7 L787.9,399.2 L792.3,398.3 L796.7,397.7 L801.0,397.6 L805.2,397.9 L809.3,398.6 L813.2,399.8 L817.0,401.3 L820.7,403.3 L824.1,405.7 L827.3,408.5 L830.2,411.6 L832.9,415.1 L835.3,418.9 L837.4,423.0 L839.2,427.4 L840.7,432.0 L841.9,436.9 L842.7,442.0 L843.2,447.2" fill="none" stroke="#767676" stroke-width="1.2"/>
<path d="M782.0,540.1 L777.5,541.1 L773.1,541.7 L768.7,541.9 L764.5,541.6 L760.3,540.9 L756.3,539.8 L752.4,538.2 L748.7,536.3 L745.2,533.9 L742.0,531.2 L739.0,528.0 L736.3,524.6 L733.8,520.8 L731.7,516.7 L729.8,512.3 L728.3,507.6 L727.1,502.8 L726.2,497.7 L725.7,492.4 L725.5,487.1 L725.7,481.6 L726.2,476.0 L727.1,470.4 L728.3,464.8 L729.8,459.2 L731.6,453.6 L733.8,448.2 L736.2,442.8 L738.9,437.7 L741.9,432.7 L745.2,427.9 L748.6,423.4 L752.3,419.1 L756.2,415.2 L760.2,411.5 L764.4,408.2 L768.7,405.3 L773.0,402.7 L777.5,400.6 L781.9,398.8 L786.4,397.5 L790.9,396.5 L795.3,396.0 L799.6,396.0 L803.9,396.4 L808.0,397.2 L812.0,398.4 L815.8,400.0 L819.5,402.1 L822.9,404.6 L826.1,407.4 L829.0,410.6 L831.7,414.2 L834.1,418.0 L836.1,422.2 L837.9,426.7 L839.4,431.4 L840.5,436.3 L841.3,441.4 L841.7,446.7" fill="none" stroke="#585858" stroke-width="1.4"/>
<path d="M778.1,539.1 L773.6,540.0 L769.1,540.5 L764.7,540.6 L760.3,540.3 L756.1,539.5 L752.1,538.3 L748.2,536.6 L744.5,534.6 L741.0,532.2 L737.8,529.3 L734.8,526.1 L732.1,522.6 L729.7,518.7 L727.6,514.6 L725.8,510.1 L724.3,505.4 L723.2,500.5 L722.4,495.3 L722.0,490.1 L721.9,484.6 L722.1,479.1 L722.7,473.5 L723.7,467.9 L725.0,462.2 L726.6,456.6 L728.5,451.1 L730.8,445.6 L733.3,440.3 L736.2,435.2 L739.3,430.2 L742.6,425.5 L746.2,421.0 L750.0,416.8 L753.9,412.9 L758.0,409.3 L762.3,406.0 L766.7,403.2 L771.1,400.7 L775.6,398.6 L780.2,396.9 L784.7,395.6 L789.2,394.8 L793.7,394.3 L798.1,394.4 L802.4,394.8 L806.5,395.7 L810.6,397.0 L814.4,398.8 L818.0,400.9 L821.4,403.4 L824.6,406.3 L827.5,409.6 L830.2,413.3 L832.5,417.2 L834.5,421.4 L836.3,426.0 L837.7,430.7 L838.7,435.7 L839.4,440.9 L839.8,446.2" fill="none" stroke="#424242" stroke-width="1.9"/>
<path d="M779.7,539.5 L775.2,540.5 L770.7,541.0 L766.3,541.2 L762.0,540.8 L757.8,540.1 L753.8,538.9 L749.9,537.3 L746.2,535.3 L742.7,532.9 L739.5,530.1 L736.5,526.9 L733.8,523.4 L731.4,519.6 L729.2,515.4 L727.4,511.0 L725.9,506.3 L724.8,501.4 L723.9,496.3 L723.5,491.0 L723.3,485.6 L723.6,480.1 L724.1,474.5 L725.0,468.9 L726.3,463.3 L727.9,457.7 L729.8,452.1 L732.0,446.7 L734.5,441.4 L737.3,436.2 L740.3,431.2 L743.6,426.5 L747.2,422.0 L750.9,417.7 L754.8,413.8 L758.9,410.2 L763.1,406.9 L767.5,404.0 L771.9,401.5 L776.4,399.4 L780.9,397.6 L785.4,396.3 L789.9,395.5 L794.3,395.0 L798.7,395.0 L803.0,395.4 L807.2,396.3 L811.2,397.6 L815.0,399.3 L818.6,401.4 L822.1,403.9 L825.2,406.8 L828.2,410.0 L830.8,413.6 L833.2,417.5 L835.2,421.7 L837.0,426.2 L838.4,431.0 L839.5,435.9 L840.2,441.1 L840.6,446.4" fill="none" stroke="#767676" stroke-width="1.2"/>
<path d="M776.3,538.5 L771.7,539.4 L767.2,539.9 L762.8,540.0 L758.5,539.6 L754.3,538.8 L750.2,537.5 L746.3,535.9 L742.6,533.8 L739.2,531.3 L735.9,528.4 L733.0,525.2 L730.3,521.6 L727.9,517.7 L725.8,513.6 L724.0,509.1 L722.6,504.3 L721.5,499.4 L720.7,494.3 L720.3,488.9 L720.3,483.5 L720.5,478.0 L721.2,472.4 L722.2,466.7 L723.5,461.1 L725.2,455.5 L727.2,450.0 L729.5,444.5 L732.1,439.2 L734.9,434.1 L738.1,429.1 L741.5,424.4 L745.1,419.9 L748.9,415.7 L752.9,411.9 L757.1,408.3 L761.4,405.1 L765.8,402.2 L770.3,399.8 L774.8,397.7 L779.4,396.1 L783.9,394.8 L788.5,394.0 L793.0,393.6 L797.4,393.7 L801.7,394.2 L805.8,395.1 L809.9,396.5 L813.7,398.2 L817.3,400.4 L820.7,403.0 L823.9,405.9 L826.8,409.2 L829.4,412.9 L831.8,416.9 L833.8,421.1 L835.5,425.7 L836.8,430.5 L837.8,435.5 L838.5,440.7 L838.8,446.0" fill="none" stroke="#585858" stroke-width="1.4"/>
<path d="M772.3,537.2 L767.8,538.0 L763.2,538.4 L758.8,538.4 L754.4,537.9 L750.2,537.0 L746.1,535.7 L742.3,534.0 L738.6,531.8 L735.1,529.3 L731.9,526.3 L729.0,523.0 L726.4,519.4 L724.0,515.5 L722.0,511.2 L720.3,506.7 L718.9,501.9 L717.8,496.9 L717.2,491.8 L716.8,486.4 L716.9,481.0 L717.2,475.4 L718.0,469.8 L719.1,464.2 L720.5,458.6 L722.2,453.0 L724.3,447.5 L726.7,442.1 L729.4,436.8 L732.4,431.7 L735.6,426.8 L739.1,422.1 L742.8,417.7 L746.7,413.6 L750.8,409.8 L755.0,406.3 L759.4,403.1 L763.9,400.4 L768.4,398.0 L773.0,396.0 L777.6,394.4 L782.2,393.3 L786.8,392.6 L791.3,392.3 L795.8,392.4 L800.1,393.0 L804.3,394.0 L808.3,395.4 L812.1,397.3 L815.7,399.5 L819.1,402.2 L822.3,405.2 L825.1,408.5 L827.7,412.3 L830.0,416.3 L831.9,420.6 L833.6,425.2 L834.9,430.0 L835.8,435.0 L836.4,440.3 L836.6,445.6" fill="none" stroke="#424242" stroke-width="1.9"/>
<path d="M774.0,537.8 L769.4,538.6 L764.9,539.1 L760.4,539.1 L756.1,538.6 L751.9,537.8 L747.8,536.5 L743.9,534.8 L740.2,532.6 L736.8,530.1 L733.6,527.2 L730.6,524.0 L727.9,520.3 L725.6,516.4 L723.5,512.2 L721.8,507.7 L720.4,502.9 L719.3,498.0 L718.6,492.8 L718.2,487.5 L718.2,482.0 L718.6,476.5 L719.3,470.9 L720.3,465.2 L721.7,459.6 L723.4,454.0 L725.5,448.5 L727.8,443.1 L730.5,437.8 L733.4,432.7 L736.6,427.7 L740.1,423.1 L743.7,418.6 L747.6,414.5 L751.6,410.6 L755.9,407.1 L760.2,403.9 L764.6,401.1 L769.2,398.7 L773.7,396.7 L778.3,395.1 L782.9,393.9 L787.5,393.1 L792.0,392.8 L796.4,392.9 L800.7,393.5 L804.9,394.4 L808.9,395.8 L812.8,397.6 L816.4,399.9 L819.8,402.5 L822.9,405.5 L825.8,408.8 L828.4,412.5 L830.7,416.5 L832.7,420.8 L834.4,425.4 L835.7,430.2 L836.7,435.2 L837.3,440.4 L837.6,445.8" fill="none" stroke="#767676" stroke-width="1.2"/>
<path d="M770.6,536.5 L766.0,537.3 L761.4,537.7 L757.0,537.6 L752.6,537.1 L748.4,536.2 L744.3,534.8 L740.5,533.0 L736.8,530.8 L733.4,528.3 L730.2,525.3 L727.3,522.0 L724.6,518.3 L722.3,514.4 L720.3,510.1 L718.6,505.6 L717.3,500.8 L716.3,495.8 L715.6,490.6 L715.3,485.3 L715.4,479.8 L715.8,474.3 L716.6,468.7 L717.7,463.1 L719.2,457.4 L721.0,451.9 L723.1,446.4 L725.5,441.0 L728.2,435.7 L731.3,430.7 L734.5,425.8 L738.1,421.2 L741.8,416.8 L745.7,412.7 L749.8,408.9 L754.1,405.4 L758.5,402.3 L763.0,399.6 L767.6,397.2 L772.2,395.3 L776.8,393.8 L781.4,392.7 L786.0,392.0 L790.6,391.7 L795.0,391.9 L799.3,392.5 L803.5,393.6 L807.5,395.0 L811.3,396.9 L815.0,399.2 L818.3,401.8 L821.4,404.9 L824.3,408.3 L826.9,412.0 L829.1,416.1 L831.0,420.4 L832.6,425.0 L833.9,429.8 L834.8,434.9 L835.4,440.1 L835.6,445.5" fill="none" stroke="#585858" stroke-width="1.4"/>
<path d="M766.6,534.9 L762.0,535.6 L757.5,535.8 L753.0,535.7 L748.6,535.1 L744.4,534.1 L740.4,532.7 L736.6,530.8 L732.9,528.6 L729.5,525.9 L726.4,522.9 L723.5,519.5 L720.9,515.8 L718.7,511.8 L716.7,507.5 L715.1,503.0 L713.8,498.2 L712.9,493.2 L712.3,488.0 L712.1,482.7 L712.3,477.2 L712.8,471.7 L713.6,466.1 L714.8,460.5 L716.4,454.9 L718.3,449.4 L720.5,444.0 L723.0,438.6 L725.8,433.5 L728.9,428.4 L732.3,423.6 L735.8,419.1 L739.7,414.8 L743.7,410.8 L747.8,407.1 L752.2,403.7 L756.6,400.7 L761.2,398.0 L765.8,395.8 L770.4,393.9 L775.1,392.5 L779.7,391.4 L784.3,390.8 L788.9,390.7 L793.3,390.9 L797.6,391.6 L801.8,392.8 L805.8,394.3 L809.6,396.2 L813.2,398.6 L816.5,401.3 L819.6,404.4 L822.4,407.9 L824.9,411.6 L827.1,415.7 L828.9,420.1 L830.5,424.7 L831.7,429.6 L832.5,434.6 L833.0,439.8 L833.1,445.2" fill="none" stroke="#424242" stroke-width="1.9"/>
<path d="M768.2,535.6 L763.6,536.3 L759.1,536.6 L754.6,536.5 L750.3,535.9 L746.0,535.0 L742.0,533.6 L738.1,531.7 L734.5,529.5 L731.1,526.9 L727.9,523.9 L725.0,520.6 L722.4,516.9 L720.1,512.9 L718.2,508.6 L716.5,504.0 L715.2,499.3 L714.2,494.3 L713.6,489.1 L713.4,483.7 L713.5,478.3 L714.0,472.8 L714.8,467.2 L716.0,461.6 L717.5,456.0 L719.3,450.4 L721.5,444.9 L724.0,439.6 L726.8,434.4 L729.9,429.3 L733.2,424.5 L736.7,419.9 L740.5,415.6 L744.5,411.5 L748.7,407.8 L753.0,404.4 L757.4,401.3 L761.9,398.6 L766.5,396.3 L771.1,394.5 L775.8,393.0 L780.4,391.9 L785.0,391.3 L789.6,391.1 L794.0,391.3 L798.3,392.0 L802.5,393.1 L806.5,394.6 L810.3,396.5 L813.9,398.8 L817.3,401.5 L820.4,404.6 L823.2,408.0 L825.7,411.8 L827.9,415.8 L829.8,420.2 L831.4,424.8 L832.6,429.7 L833.5,434.7 L834.0,439.9 L834.1,445.3" fill="none" stroke="#767676" stroke-width="1.2"/>
<path d="M764.9,534.0 L760.2,534.7 L755.7,534.9 L751.2,534.7 L746.9,534.1 L742.7,533.1 L738.7,531.6 L734.8,529.7 L731.2,527.5 L727.8,524.8 L724.7,521.8 L721.9,518.4 L719.3,514.7 L717.1,510.6 L715.2,506.3 L713.6,501.8 L712.3,497.0 L711.4,492.0 L710.9,486.8 L710.7,481.5 L710.9,476.0 L711.4,470.5 L712.3,465.0 L713.6,459.4 L715.2,453.8 L717.1,448.3 L719.4,442.9 L721.9,437.6 L724.8,432.4 L727.9,427.5 L731.3,422.7 L734.9,418.2 L738.7,413.9 L742.8,409.9 L747.0,406.3 L751.3,402.9 L755.8,400.0 L760.3,397.4 L764.9,395.2 L769.6,393.3 L774.3,391.9 L778.9,391.0 L783.5,390.4 L788.1,390.3 L792.5,390.6 L796.8,391.3 L801.0,392.5 L805.0,394.0 L808.7,396.0 L812.3,398.4 L815.6,401.1 L818.7,404.3 L821.4,407.7 L823.9,411.5 L826.1,415.6 L827.9,420.0 L829.4,424.6 L830.6,429.5 L831.4,434.5 L831.8,439.7 L831.9,445.1" fill="none" stroke="#585858" stroke-width="1.4"/>
<ellipse cx="0" cy="0" rx="51.0" ry="73.0" transform="translate(793.2,473.8) rotate(20.4)" fill="#4a4a4a"/>
<ellipse cx="0" cy="0" rx="49.1" ry="71.0" transform="translate(795.0,474.6) rotate(20.0)" fill="url(#side)"/>
<path d="M707.8,478.7 L708.1,473.8 L708.6,468.8 L709.4,463.9 L710.5,458.9 L711.9,453.9 L713.5,448.9 L715.5,444.0 L717.7,439.2 L720.1,434.5 L722.8,429.9 L725.7,425.5 L728.8,421.3 L732.1,417.2 L735.5,413.4 L739.2,409.8 L743.0,406.4 L746.9,403.3 L750.9,400.5 L755.0,398.0 L759.1,395.8 L763.3,393.9 L767.6,392.4 L771.8,391.1 L776.0,390.3 L780.2,389.7 L781.1,389.6 L782.1,389.5 L786.2,389.4 L787.2,389.3 L788.1,389.3 L792.3,389.5 L793.2,389.6 L794.2,389.7 L798.3,390.2 L799.2,390.4 L800.1,390.6 L804.1,391.4 L805.1,391.7 L806.0,392.0 L809.9,393.2 L810.8,393.6 L811.6,393.9 L815.4,395.6 L816.2,396.0 L817.1,396.4 L819.8,397.9 L820.6,398.4 L821.4,398.9 L824.8,401.2 L825.6,401.8 L826.3,402.3 L829.5,405.0 L830.2,405.6 L830.9,406.2 L833.8,409.1 L834.4,409.8 L837.1,413.0 L839.5,416.5 L841.6,420.2 L843.5,424.2 L845.0,428.4 L846.3,432.8 L847.3,437.4 L848.0,442.2 L848.4,447.1 L848.4,452.1 L848.2,457.1 L847.6,462.3 L846.8,467.5 L845.6,472.7 L844.2,477.9 L842.5,483.1 L840.5,488.1 L838.2,493.2 L835.6,498.1 L832.9,502.8 L829.8,507.4 L826.6,511.9 L823.2,516.1 L819.5,520.1 L815.8,523.8 L811.8,527.3 L807.8,530.5 L803.6,533.5 L799.3,536.1 L795.0,538.4 L790.6,540.3 L786.2,542.0 L781.8,543.2 L777.4,544.1 L773.0,544.7 L768.7,544.9 L764.5,544.7 L760.4,544.2 L759.5,544.0 L755.5,543.1 L754.5,542.9 L753.6,542.6 L749.8,541.4 L748.9,541.0 L748.0,540.7 L744.2,539.1 L743.4,538.6 L742.5,538.2 L739.0,536.2 L738.1,535.8 L737.4,535.2 L734.0,532.9 L733.2,532.4 L732.5,531.7 L729.4,529.1 L728.6,528.5 L728.0,527.8 L725.1,524.9 L724.5,524.2 L721.8,521.0 L721.2,520.3 L720.6,519.5 L718.3,516.1 L717.8,515.3 L717.3,514.5 L715.2,510.9 L714.8,510.1 L714.4,509.2 L712.6,505.4 L711.1,501.4 L709.9,497.1 L708.9,492.7 L708.2,488.2 L707.9,483.5Z" fill="url(#shade)" stroke="none"/>
</g>
<path d="M707.8,478.7 L708.1,473.8 L708.6,468.8 L709.4,463.9 L710.5,458.9 L711.9,453.9 L713.5,448.9 L715.5,444.0 L717.7,439.2 L720.1,434.5 L722.8,429.9 L725.7,425.5 L728.8,421.3 L732.1,417.2 L735.5,413.4 L739.2,409.8 L743.0,406.4 L746.9,403.3 L750.9,400.5 L755.0,398.0 L759.1,395.8 L763.3,393.9 L767.6,392.4 L771.8,391.1 L776.0,390.3 L780.2,389.7 L781.1,389.6 L782.1,389.5 L786.2,389.4 L787.2,389.3 L788.1,389.3 L792.3,389.5 L793.2,389.6 L794.2,389.7 L798.3,390.2 L799.2,390.4 L800.1,390.6 L804.1,391.4 L805.1,391.7 L806.0,392.0 L809.9,393.2 L810.8,393.6 L811.6,393.9 L815.4,395.6 L816.2,396.0 L817.1,396.4 L819.8,397.9 L820.6,398.4 L821.4,398.9 L824.8,401.2 L825.6,401.8 L826.3,402.3 L829.5,405.0 L830.2,405.6 L830.9,406.2 L833.8,409.1 L834.4,409.8 L837.1,413.0 L839.5,416.5 L841.6,420.2 L843.5,424.2 L845.0,428.4 L846.3,432.8 L847.3,437.4 L848.0,442.2 L848.4,447.1 L848.4,452.1 L848.2,457.1 L847.6,462.3 L846.8,467.5 L845.6,472.7 L844.2,477.9 L842.5,483.1 L840.5,488.1 L838.2,493.2 L835.6,498.1 L832.9,502.8 L829.8,507.4 L826.6,511.9 L823.2,516.1 L819.5,520.1 L815.8,523.8 L811.8,527.3 L807.8,530.5 L803.6,533.5 L799.3,536.1 L795.0,538.4 L790.6,540.3 L786.2,542.0 L781.8,543.2 L777.4,544.1 L773.0,544.7 L768.7,544.9 L764.5,544.7 L760.4,544.2 L759.5,544.0 L755.5,543.1 L754.5,542.9 L753.6,542.6 L749.8,541.4 L748.9,541.0 L748.0,540.7 L744.2,539.1 L743.4,538.6 L742.5,538.2 L739.0,536.2 L738.1,535.8 L737.4,535.2 L734.0,532.9 L733.2,532.4 L732.5,531.7 L729.4,529.1 L728.6,528.5 L728.0,527.8 L725.1,524.9 L724.5,524.2 L721.8,521.0 L721.2,520.3 L720.6,519.5 L718.3,516.1 L717.8,515.3 L717.3,514.5 L715.2,510.9 L714.8,510.1 L714.4,509.2 L712.6,505.4 L711.1,501.4 L709.9,497.1 L708.9,492.7 L708.2,488.2 L707.9,483.5Z" fill="none" stroke="#111" stroke-width="1.6" stroke-linejoin="round"/>
<g transform="translate(797.2,479) rotate(23)">
<ellipse rx="26.4" ry="35.8" fill="#343434"/>
<ellipse rx="24.2" ry="33.4" fill="#fff" stroke="#222" stroke-width="0.6"/>
<ellipse cx="-0.3" cy="0" rx="20.8" ry="29.2" fill="url(#hubg)" stroke="#222" stroke-width="0.9"/>
<path d="M3.7,-28.6 C19.8,-16.1 15.6,19.0 -9.4,26.0" fill="none" stroke="#222" stroke-width="0.8"/>
<path d="M12.9,-14.6 C14.6,0.0 6.2,19.0 -4.2,23.4" fill="none" stroke="#222" stroke-width="0.8"/>
<path d="M0.0,-28.9 C4.2,-20.5 3.1,-13.2 2.5,-9.4" fill="none" stroke="#222" stroke-width="0.8"/>
<path d="M-20.2,5.8 Q-12.5,12.3 -5.2,8.2" fill="none" stroke="#222" stroke-width="0.8"/>
<path d="M-18.7,12.3 Q-10.4,14.6 -0.0,6.4" fill="none" stroke="#222" stroke-width="0.8"/>
<ellipse cx="-3.9" cy="-2.3" rx="9.0" ry="12.0" transform="rotate(8 -3.9 -2.3)" fill="#e4e4e4" stroke="#222" stroke-width="0.8"/>
<ellipse cx="-3.5" cy="-2.5" rx="6.5" ry="9.4" transform="rotate(8 -3.5 -2.5)" fill="#f4f4f4" stroke="#222" stroke-width="0.8"/>
<ellipse cx="-3.2" cy="-2.6" rx="4.6" ry="6.7" transform="rotate(8 -3.2 -2.6)" fill="#e0e0e0" stroke="#222" stroke-width="0.8"/>
<ellipse cx="-2.8" cy="-2.8" rx="2.5" ry="4.2" transform="rotate(8 -2.8 -2.8)" fill="#fff" stroke="#222" stroke-width="0.8"/>
</g>
<clipPath id="tc4"><path d="M557.3,559.2 L557.6,554.3 L558.1,549.3 L558.9,544.4 L560.0,539.4 L561.4,534.4 L563.0,529.4 L565.0,524.5 L567.2,519.7 L569.6,515.0 L572.3,510.4 L575.2,506.0 L578.3,501.8 L581.6,497.7 L585.0,493.9 L588.7,490.3 L592.5,486.9 L596.4,483.8 L600.4,481.0 L604.5,478.5 L608.6,476.3 L612.8,474.4 L617.1,472.9 L621.3,471.6 L625.5,470.8 L629.7,470.2 L630.6,470.1 L631.6,470.0 L635.7,469.9 L636.7,469.8 L637.6,469.8 L641.8,470.0 L642.7,470.1 L643.7,470.2 L647.8,470.7 L648.7,470.9 L649.6,471.1 L653.6,471.9 L654.6,472.2 L655.5,472.5 L659.4,473.7 L660.2,474.1 L661.1,474.4 L664.9,476.1 L665.7,476.5 L666.6,476.9 L669.3,478.4 L670.1,478.9 L670.9,479.4 L674.3,481.7 L675.1,482.3 L675.8,482.8 L679.0,485.5 L679.7,486.1 L680.4,486.7 L683.3,489.6 L683.9,490.3 L686.6,493.5 L689.0,497.0 L691.1,500.7 L693.0,504.7 L694.5,508.9 L695.8,513.3 L696.8,517.9 L697.5,522.7 L697.9,527.5 L697.9,532.5 L697.7,537.6 L697.1,542.8 L696.3,548.0 L695.1,553.2 L693.7,558.4 L692.0,563.5 L690.0,568.6 L687.7,573.7 L685.1,578.6 L682.4,583.3 L679.3,587.9 L676.1,592.4 L672.7,596.6 L669.0,600.6 L665.3,604.3 L661.3,607.8 L657.3,611.0 L653.1,614.0 L648.8,616.6 L644.5,618.9 L640.1,620.8 L635.7,622.5 L631.3,623.7 L626.9,624.6 L622.5,625.2 L618.2,625.4 L614.0,625.2 L609.9,624.7 L609.0,624.5 L605.0,623.6 L604.0,623.4 L603.1,623.1 L599.2,621.9 L598.4,621.5 L597.5,621.2 L593.7,619.6 L592.9,619.1 L592.0,618.7 L588.5,616.7 L587.6,616.2 L586.9,615.7 L583.5,613.4 L582.7,612.9 L582.0,612.2 L578.9,609.6 L578.1,609.0 L577.5,608.3 L574.6,605.4 L574.0,604.7 L571.3,601.5 L570.7,600.8 L570.1,600.0 L567.8,596.6 L567.3,595.8 L566.8,595.0 L564.7,591.4 L564.3,590.6 L563.9,589.7 L562.1,585.9 L560.6,581.9 L559.4,577.6 L558.4,573.2 L557.8,568.7 L557.4,564.0Z"/></clipPath>
<path d="M557.3,559.2 L557.6,554.3 L558.1,549.3 L558.9,544.4 L560.0,539.4 L561.4,534.4 L563.0,529.4 L565.0,524.5 L567.2,519.7 L569.6,515.0 L572.3,510.4 L575.2,506.0 L578.3,501.8 L581.6,497.7 L585.0,493.9 L588.7,490.3 L592.5,486.9 L596.4,483.8 L600.4,481.0 L604.5,478.5 L608.6,476.3 L612.8,474.4 L617.1,472.9 L621.3,471.6 L625.5,470.8 L629.7,470.2 L630.6,470.1 L631.6,470.0 L635.7,469.9 L636.7,469.8 L637.6,469.8 L641.8,470.0 L642.7,470.1 L643.7,470.2 L647.8,470.7 L648.7,470.9 L649.6,471.1 L653.6,471.9 L654.6,472.2 L655.5,472.5 L659.4,473.7 L660.2,474.1 L661.1,474.4 L664.9,476.1 L665.7,476.5 L666.6,476.9 L669.3,478.4 L670.1,478.9 L670.9,479.4 L674.3,481.7 L675.1,482.3 L675.8,482.8 L679.0,485.5 L679.7,486.1 L680.4,486.7 L683.3,489.6 L683.9,490.3 L686.6,493.5 L689.0,497.0 L691.1,500.7 L693.0,504.7 L694.5,508.9 L695.8,513.3 L696.8,517.9 L697.5,522.7 L697.9,527.5 L697.9,532.5 L697.7,537.6 L697.1,542.8 L696.3,548.0 L695.1,553.2 L693.7,558.4 L692.0,563.5 L690.0,568.6 L687.7,573.7 L685.1,578.6 L682.4,583.3 L679.3,587.9 L676.1,592.4 L672.7,596.6 L669.0,600.6 L665.3,604.3 L661.3,607.8 L657.3,611.0 L653.1,614.0 L648.8,616.6 L644.5,618.9 L640.1,620.8 L635.7,622.5 L631.3,623.7 L626.9,624.6 L622.5,625.2 L618.2,625.4 L614.0,625.2 L609.9,624.7 L609.0,624.5 L605.0,623.6 L604.0,623.4 L603.1,623.1 L599.2,621.9 L598.4,621.5 L597.5,621.2 L593.7,619.6 L592.9,619.1 L592.0,618.7 L588.5,616.7 L587.6,616.2 L586.9,615.7 L583.5,613.4 L582.7,612.9 L582.0,612.2 L578.9,609.6 L578.1,609.0 L577.5,608.3 L574.6,605.4 L574.0,604.7 L571.3,601.5 L570.7,600.8 L570.1,600.0 L567.8,596.6 L567.3,595.8 L566.8,595.0 L564.7,591.4 L564.3,590.6 L563.9,589.7 L562.1,585.9 L560.6,581.9 L559.4,577.6 L558.4,573.2 L557.8,568.7 L557.4,564.0Z" fill="#676767" stroke="#111" stroke-width="1.6" stroke-linejoin="round"/>
<g clip-path="url(#tc4)">
<path d="M611.0,612.8 L606.4,613.4 L601.8,613.6 L597.4,613.3 L593.1,612.6 L588.9,611.5 L584.9,610.0 L581.1,608.1 L577.5,605.7 L574.2,603.0 L571.1,600.0 L568.3,596.6 L565.8,592.8 L563.7,588.8 L561.8,584.5 L560.3,579.9 L559.1,575.1 L558.3,570.1 L557.8,564.9 L557.7,559.6 L558.0,554.2 L558.6,548.8 L559.5,543.2 L560.9,537.7 L562.5,532.2 L564.5,526.8 L566.8,521.4 L569.4,516.2 L572.3,511.1 L575.5,506.2 L579.0,501.5 L582.6,497.1 L586.5,492.9 L590.6,489.0 L594.8,485.4 L599.2,482.2 L603.7,479.3 L608.3,476.8 L612.9,474.6 L617.6,472.9 L622.2,471.6 L626.9,470.7 L631.5,470.2 L636.0,470.2 L640.4,470.5 L644.7,471.3 L648.9,472.5 L652.8,474.2 L656.6,476.2 L660.1,478.6 L663.4,481.4 L666.4,484.6 L669.1,488.0 L671.5,491.9 L673.6,496.0 L675.4,500.4 L676.8,505.0 L677.9,509.8 L678.6,514.9 L679.0,520.1 L679.0,525.4" fill="none" stroke="#2e2e2e" stroke-width="3.0"/>
<path d="M613.3,614.0 L608.7,614.7 L604.1,614.9 L599.7,614.7 L595.3,614.0 L591.1,612.9 L587.1,611.5 L583.3,609.6 L579.7,607.3 L576.3,604.6 L573.2,601.5 L570.4,598.2 L567.9,594.4 L565.6,590.4 L563.7,586.1 L562.2,581.5 L560.9,576.7 L560.1,571.7 L559.6,566.5 L559.4,561.2 L559.6,555.8 L560.2,550.3 L561.1,544.8 L562.4,539.2 L564.0,533.7 L565.9,528.2 L568.2,522.8 L570.8,517.5 L573.6,512.4 L576.8,507.4 L580.2,502.7 L583.8,498.2 L587.7,493.9 L591.7,490.0 L595.9,486.3 L600.3,483.0 L604.8,480.1 L609.3,477.5 L614.0,475.3 L618.6,473.5 L623.3,472.2 L627.9,471.2 L632.6,470.7 L637.1,470.6 L641.5,470.9 L645.8,471.6 L650.0,472.8 L654.0,474.4 L657.7,476.4 L661.3,478.8 L664.6,481.5 L667.6,484.7 L670.4,488.1 L672.8,491.9 L675.0,496.0 L676.8,500.4 L678.3,505.1 L679.4,509.9 L680.2,515.0 L680.6,520.2 L680.7,525.5" fill="none" stroke="#444" stroke-width="2.0"/>
<path d="M639.0,621.9 L634.7,623.1 L630.4,623.8 L626.1,624.1 L622.0,624.0 L617.9,623.5 L613.9,622.5 L610.1,621.1 L606.5,619.3 L603.0,617.1 L599.8,614.6 L596.8,611.6 L594.0,608.3 L591.5,604.7 L589.3,600.7 L587.4,596.5 L585.8,592.0 L584.5,587.3 L583.5,582.3 L582.9,577.2 L582.5,572.0 L582.5,566.6 L582.9,561.1 L583.5,555.6 L584.5,550.0 L585.9,544.5 L587.5,539.0 L589.4,533.6 L591.7,528.3 L594.2,523.1 L596.9,518.2 L599.9,513.4 L603.2,508.8 L606.6,504.5 L610.3,500.5 L614.1,496.8 L618.1,493.4 L622.1,490.4 L626.3,487.8 L630.6,485.5 L634.9,483.6 L639.2,482.1 L643.5,481.1 L647.8,480.4 L652.0,480.2 L656.2,480.4 L660.2,481.1 L664.1,482.1 L667.9,483.6 L671.5,485.5 L674.9,487.8 L678.1,490.5 L681.0,493.5 L683.7,496.9 L686.1,500.6 L688.3,504.6 L690.1,508.9 L691.7,513.5 L692.9,518.3 L693.8,523.2 L694.4,528.4" fill="none" stroke="#424242" stroke-width="1.9"/>
<path d="M640.6,622.1 L636.3,623.3 L632.0,624.0 L627.8,624.4 L623.7,624.3 L619.6,623.8 L615.7,622.9 L611.9,621.5 L608.3,619.8 L604.9,617.6 L601.6,615.1 L598.6,612.2 L595.9,608.9 L593.4,605.3 L591.1,601.4 L589.2,597.2 L587.6,592.8 L586.3,588.1 L585.2,583.2 L584.6,578.1 L584.2,572.9 L584.2,567.5 L584.5,562.1 L585.1,556.6 L586.1,551.0 L587.4,545.5 L588.9,540.1 L590.8,534.7 L593.0,529.4 L595.5,524.2 L598.2,519.3 L601.1,514.5 L604.3,509.9 L607.7,505.6 L611.3,501.6 L615.1,497.9 L619.0,494.5 L623.0,491.5 L627.2,488.8 L631.4,486.5 L635.6,484.6 L639.9,483.1 L644.2,482.0 L648.4,481.4 L652.6,481.1 L656.8,481.3 L660.8,481.9 L664.7,482.9 L668.4,484.4 L672.0,486.2 L675.4,488.5 L678.6,491.1 L681.5,494.1 L684.2,497.5 L686.6,501.1 L688.8,505.1 L690.6,509.4 L692.2,513.9 L693.5,518.6 L694.4,523.6 L695.0,528.7" fill="none" stroke="#767676" stroke-width="1.2"/>
<path d="M637.2,621.7 L632.9,622.8 L628.5,623.5 L624.2,623.8 L620.0,623.6 L615.9,623.0 L612.0,622.0 L608.1,620.6 L604.5,618.8 L601.0,616.6 L597.8,613.9 L594.8,611.0 L592.0,607.6 L589.5,603.9 L587.3,600.0 L585.4,595.7 L583.8,591.1 L582.6,586.4 L581.6,581.4 L581.0,576.2 L580.7,570.9 L580.7,565.5 L581.1,560.0 L581.8,554.5 L582.9,548.9 L584.2,543.3 L585.9,537.8 L587.9,532.4 L590.2,527.1 L592.7,521.9 L595.6,517.0 L598.6,512.2 L601.9,507.6 L605.5,503.3 L609.2,499.3 L613.0,495.6 L617.0,492.3 L621.2,489.3 L625.4,486.6 L629.7,484.4 L634.0,482.5 L638.4,481.1 L642.8,480.0 L647.1,479.4 L651.3,479.3 L655.5,479.5 L659.6,480.2 L663.5,481.3 L667.3,482.8 L670.9,484.8 L674.3,487.1 L677.5,489.8 L680.5,492.9 L683.2,496.3 L685.6,500.0 L687.7,504.1 L689.5,508.4 L691.1,513.0 L692.3,517.9 L693.1,522.9 L693.7,528.1" fill="none" stroke="#585858" stroke-width="1.4"/>
<path d="M633.3,621.0 L628.9,622.0 L624.5,622.7 L620.1,622.9 L615.9,622.6 L611.7,622.0 L607.7,620.9 L603.8,619.4 L600.2,617.4 L596.7,615.1 L593.4,612.4 L590.4,609.3 L587.7,605.9 L585.2,602.2 L583.1,598.1 L581.2,593.7 L579.6,589.1 L578.4,584.3 L577.5,579.2 L577.0,574.0 L576.8,568.6 L576.9,563.2 L577.4,557.6 L578.2,552.0 L579.3,546.4 L580.8,540.8 L582.6,535.3 L584.7,529.8 L587.1,524.5 L589.8,519.3 L592.7,514.3 L595.9,509.6 L599.3,505.0 L602.9,500.8 L606.7,496.8 L610.7,493.1 L614.8,489.8 L619.1,486.8 L623.4,484.3 L627.8,482.1 L632.2,480.3 L636.7,478.9 L641.1,477.9 L645.5,477.4 L649.8,477.3 L654.1,477.6 L658.2,478.4 L662.2,479.6 L666.0,481.2 L669.6,483.2 L673.0,485.6 L676.2,488.4 L679.2,491.6 L681.8,495.1 L684.2,499.0 L686.3,503.1 L688.1,507.5 L689.6,512.2 L690.7,517.1 L691.5,522.2 L692.0,527.4" fill="none" stroke="#424242" stroke-width="1.9"/>
<path d="M634.9,621.3 L630.5,622.4 L626.1,623.0 L621.8,623.3 L617.6,623.1 L613.4,622.4 L609.4,621.4 L605.6,619.9 L601.9,618.0 L598.5,615.7 L595.2,613.1 L592.2,610.0 L589.5,606.6 L587.0,602.9 L584.8,598.9 L582.9,594.5 L581.3,590.0 L580.1,585.1 L579.2,580.1 L578.6,574.9 L578.3,569.6 L578.4,564.1 L578.9,558.6 L579.6,553.0 L580.8,547.4 L582.2,541.8 L583.9,536.3 L586.0,530.9 L588.3,525.6 L591.0,520.4 L593.9,515.4 L597.0,510.6 L600.4,506.1 L604.0,501.8 L607.7,497.8 L611.7,494.1 L615.7,490.8 L619.9,487.8 L624.2,485.2 L628.6,483.0 L633.0,481.2 L637.4,479.7 L641.8,478.8 L646.2,478.2 L650.5,478.1 L654.7,478.4 L658.8,479.1 L662.7,480.3 L666.5,481.8 L670.2,483.8 L673.6,486.2 L676.8,489.0 L679.7,492.1 L682.4,495.6 L684.8,499.4 L686.9,503.5 L688.7,507.9 L690.2,512.5 L691.4,517.4 L692.2,522.5 L692.7,527.7" fill="none" stroke="#767676" stroke-width="1.2"/>
<path d="M631.5,620.6 L627.0,621.6 L622.6,622.2 L618.2,622.4 L614.0,622.1 L609.8,621.4 L605.8,620.3 L601.9,618.7 L598.2,616.8 L594.7,614.4 L591.5,611.7 L588.5,608.5 L585.8,605.1 L583.3,601.3 L581.2,597.2 L579.3,592.8 L577.8,588.1 L576.6,583.3 L575.7,578.2 L575.2,572.9 L575.0,567.6 L575.2,562.1 L575.7,556.5 L576.6,550.9 L577.8,545.3 L579.3,539.7 L581.1,534.1 L583.3,528.7 L585.7,523.3 L588.4,518.2 L591.4,513.2 L594.7,508.4 L598.1,503.9 L601.8,499.6 L605.7,495.7 L609.7,492.0 L613.9,488.7 L618.2,485.8 L622.5,483.2 L627.0,481.1 L631.4,479.3 L635.9,478.0 L640.4,477.0 L644.8,476.5 L649.1,476.5 L653.4,476.9 L657.5,477.7 L661.5,478.9 L665.3,480.5 L669.0,482.6 L672.4,485.1 L675.6,487.9 L678.5,491.1 L681.2,494.7 L683.6,498.5 L685.6,502.7 L687.4,507.2 L688.9,511.9 L690.0,516.8 L690.8,521.9 L691.2,527.2" fill="none" stroke="#585858" stroke-width="1.4"/>
<path d="M627.6,619.6 L623.1,620.5 L618.6,621.0 L614.2,621.1 L609.8,620.8 L605.6,620.0 L601.6,618.8 L597.7,617.1 L594.0,615.1 L590.5,612.7 L587.3,609.8 L584.3,606.6 L581.6,603.1 L579.2,599.2 L577.1,595.1 L575.3,590.6 L573.8,585.9 L572.7,581.0 L571.9,575.8 L571.5,570.6 L571.4,565.1 L571.6,559.6 L572.2,554.0 L573.2,548.4 L574.5,542.7 L576.1,537.1 L578.0,531.6 L580.3,526.1 L582.8,520.8 L585.7,515.7 L588.8,510.7 L592.1,506.0 L595.7,501.5 L599.5,497.3 L603.4,493.4 L607.5,489.8 L611.8,486.5 L616.2,483.7 L620.6,481.2 L625.1,479.1 L629.7,477.4 L634.2,476.1 L638.7,475.3 L643.2,474.8 L647.6,474.9 L651.9,475.3 L656.0,476.2 L660.1,477.5 L663.9,479.3 L667.5,481.4 L670.9,483.9 L674.1,486.8 L677.0,490.1 L679.7,493.8 L682.0,497.7 L684.0,501.9 L685.8,506.5 L687.2,511.2 L688.2,516.2 L688.9,521.4 L689.3,526.7" fill="none" stroke="#424242" stroke-width="1.9"/>
<path d="M629.2,620.0 L624.7,621.0 L620.2,621.5 L615.8,621.7 L611.5,621.3 L607.3,620.6 L603.3,619.4 L599.4,617.8 L595.7,615.8 L592.2,613.4 L589.0,610.6 L586.0,607.4 L583.3,603.9 L580.9,600.1 L578.7,595.9 L576.9,591.5 L575.4,586.8 L574.3,581.9 L573.4,576.8 L573.0,571.5 L572.8,566.1 L573.1,560.6 L573.6,555.0 L574.5,549.4 L575.8,543.8 L577.4,538.2 L579.3,532.6 L581.5,527.2 L584.0,521.9 L586.8,516.7 L589.8,511.7 L593.1,507.0 L596.7,502.5 L600.4,498.2 L604.3,494.3 L608.4,490.7 L612.6,487.4 L617.0,484.5 L621.4,482.0 L625.9,479.9 L630.4,478.1 L634.9,476.8 L639.4,476.0 L643.8,475.5 L648.2,475.5 L652.5,475.9 L656.7,476.8 L660.7,478.1 L664.5,479.8 L668.1,481.9 L671.6,484.4 L674.7,487.3 L677.7,490.5 L680.3,494.1 L682.7,498.0 L684.7,502.2 L686.5,506.7 L687.9,511.5 L689.0,516.4 L689.7,521.6 L690.1,526.9" fill="none" stroke="#767676" stroke-width="1.2"/>
<path d="M625.8,619.0 L621.2,619.9 L616.7,620.4 L612.3,620.5 L608.0,620.1 L603.8,619.3 L599.7,618.0 L595.8,616.4 L592.1,614.3 L588.7,611.8 L585.4,608.9 L582.5,605.7 L579.8,602.1 L577.4,598.2 L575.3,594.1 L573.5,589.6 L572.1,584.8 L571.0,579.9 L570.2,574.8 L569.8,569.4 L569.8,564.0 L570.0,558.5 L570.7,552.9 L571.7,547.2 L573.0,541.6 L574.7,536.0 L576.7,530.5 L579.0,525.0 L581.6,519.7 L584.4,514.6 L587.6,509.6 L591.0,504.9 L594.6,500.4 L598.4,496.2 L602.4,492.4 L606.6,488.8 L610.9,485.6 L615.3,482.7 L619.8,480.3 L624.3,478.2 L628.9,476.6 L633.4,475.3 L638.0,474.5 L642.5,474.1 L646.9,474.2 L651.2,474.7 L655.3,475.6 L659.4,477.0 L663.2,478.7 L666.8,480.9 L670.2,483.5 L673.4,486.4 L676.3,489.7 L678.9,493.4 L681.3,497.4 L683.3,501.6 L685.0,506.2 L686.3,511.0 L687.3,516.0 L688.0,521.2 L688.3,526.5" fill="none" stroke="#585858" stroke-width="1.4"/>
<path d="M621.8,617.7 L617.3,618.5 L612.7,618.9 L608.3,618.9 L603.9,618.4 L599.7,617.5 L595.6,616.2 L591.8,614.5 L588.1,612.3 L584.6,609.8 L581.4,606.8 L578.5,603.5 L575.9,599.9 L573.5,596.0 L571.5,591.7 L569.8,587.2 L568.4,582.4 L567.3,577.4 L566.7,572.3 L566.3,566.9 L566.4,561.5 L566.7,555.9 L567.5,550.3 L568.6,544.7 L570.0,539.1 L571.7,533.5 L573.8,528.0 L576.2,522.6 L578.9,517.3 L581.9,512.2 L585.1,507.3 L588.6,502.6 L592.3,498.2 L596.2,494.1 L600.3,490.3 L604.5,486.8 L608.9,483.6 L613.4,480.9 L617.9,478.5 L622.5,476.5 L627.1,474.9 L631.7,473.8 L636.3,473.1 L640.8,472.8 L645.3,472.9 L649.6,473.5 L653.8,474.5 L657.8,475.9 L661.6,477.8 L665.2,480.0 L668.6,482.7 L671.8,485.7 L674.6,489.0 L677.2,492.8 L679.5,496.8 L681.4,501.1 L683.1,505.7 L684.4,510.5 L685.3,515.5 L685.9,520.8 L686.1,526.1" fill="none" stroke="#424242" stroke-width="1.9"/>
<path d="M623.5,618.3 L618.9,619.1 L614.4,619.6 L609.9,619.6 L605.6,619.1 L601.4,618.3 L597.3,617.0 L593.4,615.3 L589.7,613.1 L586.3,610.6 L583.1,607.7 L580.1,604.5 L577.4,600.8 L575.1,596.9 L573.0,592.7 L571.3,588.2 L569.9,583.4 L568.8,578.5 L568.1,573.3 L567.7,568.0 L567.7,562.5 L568.1,557.0 L568.8,551.4 L569.8,545.7 L571.2,540.1 L572.9,534.5 L575.0,529.0 L577.3,523.6 L580.0,518.3 L582.9,513.2 L586.1,508.2 L589.6,503.6 L593.2,499.1 L597.1,495.0 L601.1,491.1 L605.4,487.6 L609.7,484.4 L614.1,481.6 L618.7,479.2 L623.2,477.2 L627.8,475.6 L632.4,474.4 L637.0,473.6 L641.5,473.3 L645.9,473.4 L650.2,474.0 L654.4,474.9 L658.4,476.3 L662.3,478.1 L665.9,480.4 L669.3,483.0 L672.4,486.0 L675.3,489.3 L677.9,493.0 L680.2,497.0 L682.2,501.3 L683.9,505.9 L685.2,510.7 L686.2,515.7 L686.8,520.9 L687.1,526.3" fill="none" stroke="#767676" stroke-width="1.2"/>
<path d="M620.1,617.0 L615.5,617.8 L610.9,618.2 L606.5,618.1 L602.1,617.6 L597.9,616.7 L593.8,615.3 L590.0,613.5 L586.3,611.3 L582.9,608.8 L579.7,605.8 L576.8,602.5 L574.1,598.8 L571.8,594.9 L569.8,590.6 L568.1,586.1 L566.8,581.3 L565.8,576.3 L565.1,571.1 L564.8,565.8 L564.9,560.3 L565.3,554.8 L566.1,549.2 L567.2,543.6 L568.7,537.9 L570.5,532.4 L572.6,526.9 L575.0,521.5 L577.7,516.2 L580.8,511.2 L584.0,506.3 L587.6,501.7 L591.3,497.3 L595.2,493.2 L599.3,489.4 L603.6,485.9 L608.0,482.8 L612.5,480.1 L617.1,477.7 L621.7,475.8 L626.3,474.3 L630.9,473.2 L635.5,472.5 L640.1,472.2 L644.5,472.4 L648.8,473.0 L653.0,474.1 L657.0,475.5 L660.8,477.4 L664.5,479.7 L667.8,482.3 L670.9,485.4 L673.8,488.8 L676.4,492.5 L678.6,496.6 L680.5,500.9 L682.1,505.5 L683.4,510.3 L684.3,515.4 L684.9,520.6 L685.1,526.0" fill="none" stroke="#585858" stroke-width="1.4"/>
<path d="M616.1,615.4 L611.5,616.1 L607.0,616.3 L602.5,616.2 L598.1,615.6 L593.9,614.6 L589.9,613.2 L586.1,611.3 L582.4,609.1 L579.0,606.4 L575.9,603.4 L573.0,600.0 L570.4,596.3 L568.2,592.3 L566.2,588.0 L564.6,583.5 L563.3,578.7 L562.4,573.7 L561.8,568.5 L561.6,563.2 L561.8,557.7 L562.3,552.2 L563.1,546.6 L564.3,541.0 L565.9,535.4 L567.8,529.9 L570.0,524.5 L572.5,519.1 L575.3,514.0 L578.4,508.9 L581.8,504.1 L585.3,499.6 L589.2,495.3 L593.2,491.3 L597.3,487.6 L601.7,484.2 L606.1,481.2 L610.7,478.5 L615.3,476.3 L619.9,474.4 L624.6,473.0 L629.2,471.9 L633.8,471.3 L638.4,471.2 L642.8,471.4 L647.1,472.1 L651.3,473.3 L655.3,474.8 L659.1,476.7 L662.7,479.1 L666.0,481.8 L669.1,484.9 L671.9,488.4 L674.4,492.1 L676.6,496.2 L678.4,500.6 L680.0,505.2 L681.2,510.1 L682.0,515.1 L682.5,520.3 L682.6,525.7" fill="none" stroke="#424242" stroke-width="1.9"/>
<path d="M617.7,616.1 L613.1,616.8 L608.6,617.1 L604.1,617.0 L599.8,616.4 L595.5,615.5 L591.5,614.1 L587.6,612.2 L584.0,610.0 L580.6,607.4 L577.4,604.4 L574.5,601.1 L571.9,597.4 L569.6,593.4 L567.7,589.1 L566.0,584.5 L564.7,579.8 L563.7,574.8 L563.1,569.6 L562.9,564.2 L563.0,558.8 L563.5,553.3 L564.3,547.7 L565.5,542.1 L567.0,536.5 L568.8,530.9 L571.0,525.4 L573.5,520.1 L576.3,514.9 L579.4,509.8 L582.7,505.0 L586.2,500.4 L590.0,496.1 L594.0,492.0 L598.2,488.3 L602.5,484.9 L606.9,481.8 L611.4,479.1 L616.0,476.8 L620.6,475.0 L625.3,473.5 L629.9,472.4 L634.5,471.8 L639.1,471.6 L643.5,471.8 L647.8,472.5 L652.0,473.6 L656.0,475.1 L659.8,477.0 L663.4,479.3 L666.8,482.0 L669.9,485.1 L672.7,488.5 L675.2,492.3 L677.4,496.3 L679.3,500.7 L680.9,505.3 L682.1,510.2 L683.0,515.2 L683.5,520.4 L683.6,525.8" fill="none" stroke="#767676" stroke-width="1.2"/>
<path d="M614.4,614.5 L609.7,615.2 L605.2,615.4 L600.7,615.2 L596.4,614.6 L592.2,613.6 L588.2,612.1 L584.3,610.2 L580.7,608.0 L577.3,605.3 L574.2,602.3 L571.4,598.9 L568.8,595.2 L566.6,591.1 L564.7,586.8 L563.1,582.3 L561.8,577.5 L560.9,572.5 L560.4,567.3 L560.2,562.0 L560.4,556.5 L560.9,551.0 L561.8,545.5 L563.1,539.9 L564.7,534.3 L566.6,528.8 L568.9,523.4 L571.4,518.1 L574.3,512.9 L577.4,508.0 L580.8,503.2 L584.4,498.7 L588.2,494.4 L592.3,490.4 L596.5,486.8 L600.8,483.4 L605.3,480.5 L609.8,477.9 L614.4,475.7 L619.1,473.8 L623.8,472.4 L628.4,471.5 L633.0,470.9 L637.6,470.8 L642.0,471.1 L646.3,471.8 L650.5,473.0 L654.5,474.5 L658.2,476.5 L661.8,478.9 L665.1,481.6 L668.2,484.8 L670.9,488.2 L673.4,492.0 L675.6,496.1 L677.4,500.5 L678.9,505.1 L680.1,510.0 L680.9,515.0 L681.3,520.2 L681.4,525.6" fill="none" stroke="#585858" stroke-width="1.4"/>
<ellipse cx="0" cy="0" rx="51.0" ry="73.0" transform="translate(642.7,554.3) rotate(20.4)" fill="#4a4a4a"/>
<ellipse cx="0" cy="0" rx="49.1" ry="71.0" transform="translate(644.5,555.1) rotate(20.0)" fill="url(#side)"/>
<path d="M557.3,559.2 L557.6,554.3 L558.1,549.3 L558.9,544.4 L560.0,539.4 L561.4,534.4 L563.0,529.4 L565.0,524.5 L567.2,519.7 L569.6,515.0 L572.3,510.4 L575.2,506.0 L578.3,501.8 L581.6,497.7 L585.0,493.9 L588.7,490.3 L592.5,486.9 L596.4,483.8 L600.4,481.0 L604.5,478.5 L608.6,476.3 L612.8,474.4 L617.1,472.9 L621.3,471.6 L625.5,470.8 L629.7,470.2 L630.6,470.1 L631.6,470.0 L635.7,469.9 L636.7,469.8 L637.6,469.8 L641.8,470.0 L642.7,470.1 L643.7,470.2 L647.8,470.7 L648.7,470.9 L649.6,471.1 L653.6,471.9 L654.6,472.2 L655.5,472.5 L659.4,473.7 L660.2,474.1 L661.1,474.4 L664.9,476.1 L665.7,476.5 L666.6,476.9 L669.3,478.4 L670.1,478.9 L670.9,479.4 L674.3,481.7 L675.1,482.3 L675.8,482.8 L679.0,485.5 L679.7,486.1 L680.4,486.7 L683.3,489.6 L683.9,490.3 L686.6,493.5 L689.0,497.0 L691.1,500.7 L693.0,504.7 L694.5,508.9 L695.8,513.3 L696.8,517.9 L697.5,522.7 L697.9,527.5 L697.9,532.5 L697.7,537.6 L697.1,542.8 L696.3,548.0 L695.1,553.2 L693.7,558.4 L692.0,563.5 L690.0,568.6 L687.7,573.7 L685.1,578.6 L682.4,583.3 L679.3,587.9 L676.1,592.4 L672.7,596.6 L669.0,600.6 L665.3,604.3 L661.3,607.8 L657.3,611.0 L653.1,614.0 L648.8,616.6 L644.5,618.9 L640.1,620.8 L635.7,622.5 L631.3,623.7 L626.9,624.6 L622.5,625.2 L618.2,625.4 L614.0,625.2 L609.9,624.7 L609.0,624.5 L605.0,623.6 L604.0,623.4 L603.1,623.1 L599.2,621.9 L598.4,621.5 L597.5,621.2 L593.7,619.6 L592.9,619.1 L592.0,618.7 L588.5,616.7 L587.6,616.2 L586.9,615.7 L583.5,613.4 L582.7,612.9 L582.0,612.2 L578.9,609.6 L578.1,609.0 L577.5,608.3 L574.6,605.4 L574.0,604.7 L571.3,601.5 L570.7,600.8 L570.1,600.0 L567.8,596.6 L567.3,595.8 L566.8,595.0 L564.7,591.4 L564.3,590.6 L563.9,589.7 L562.1,585.9 L560.6,581.9 L559.4,577.6 L558.4,573.2 L557.8,568.7 L557.4,564.0Z" fill="url(#shade)" stroke="none"/>
</g>
<path d="M557.3,559.2 L557.6,554.3 L558.1,549.3 L558.9,544.4 L560.0,539.4 L561.4,534.4 L563.0,529.4 L565.0,524.5 L567.2,519.7 L569.6,515.0 L572.3,510.4 L575.2,506.0 L578.3,501.8 L581.6,497.7 L585.0,493.9 L588.7,490.3 L592.5,486.9 L596.4,483.8 L600.4,481.0 L604.5,478.5 L608.6,476.3 L612.8,474.4 L617.1,472.9 L621.3,471.6 L625.5,470.8 L629.7,470.2 L630.6,470.1 L631.6,470.0 L635.7,469.9 L636.7,469.8 L637.6,469.8 L641.8,470.0 L642.7,470.1 L643.7,470.2 L647.8,470.7 L648.7,470.9 L649.6,471.1 L653.6,471.9 L654.6,472.2 L655.5,472.5 L659.4,473.7 L660.2,474.1 L661.1,474.4 L664.9,476.1 L665.7,476.5 L666.6,476.9 L669.3,478.4 L670.1,478.9 L670.9,479.4 L674.3,481.7 L675.1,482.3 L675.8,482.8 L679.0,485.5 L679.7,486.1 L680.4,486.7 L683.3,489.6 L683.9,490.3 L686.6,493.5 L689.0,497.0 L691.1,500.7 L693.0,504.7 L694.5,508.9 L695.8,513.3 L696.8,517.9 L697.5,522.7 L697.9,527.5 L697.9,532.5 L697.7,537.6 L697.1,542.8 L696.3,548.0 L695.1,553.2 L693.7,558.4 L692.0,563.5 L690.0,568.6 L687.7,573.7 L685.1,578.6 L682.4,583.3 L679.3,587.9 L676.1,592.4 L672.7,596.6 L669.0,600.6 L665.3,604.3 L661.3,607.8 L657.3,611.0 L653.1,614.0 L648.8,616.6 L644.5,618.9 L640.1,620.8 L635.7,622.5 L631.3,623.7 L626.9,624.6 L622.5,625.2 L618.2,625.4 L614.0,625.2 L609.9,624.7 L609.0,624.5 L605.0,623.6 L604.0,623.4 L603.1,623.1 L599.2,621.9 L598.4,621.5 L597.5,621.2 L593.7,619.6 L592.9,619.1 L592.0,618.7 L588.5,616.7 L587.6,616.2 L586.9,615.7 L583.5,613.4 L582.7,612.9 L582.0,612.2 L578.9,609.6 L578.1,609.0 L577.5,608.3 L574.6,605.4 L574.0,604.7 L571.3,601.5 L570.7,600.8 L570.1,600.0 L567.8,596.6 L567.3,595.8 L566.8,595.0 L564.7,591.4 L564.3,590.6 L563.9,589.7 L562.1,585.9 L560.6,581.9 L559.4,577.6 L558.4,573.2 L557.8,568.7 L557.4,564.0Z" fill="none" stroke="#111" stroke-width="1.6" stroke-linejoin="round"/>
<g transform="translate(647.0,557.6) rotate(23)">
<ellipse rx="26.4" ry="35.8" fill="#343434"/>
<ellipse rx="24.2" ry="33.4" fill="#fff" stroke="#222" stroke-width="0.6"/>
<ellipse cx="-0.3" cy="0" rx="20.8" ry="29.2" fill="url(#hubg)" stroke="#222" stroke-width="0.9"/>
<path d="M3.7,-28.6 C19.8,-16.1 15.6,19.0 -9.4,26.0" fill="none" stroke="#222" stroke-width="0.8"/>
<path d="M12.9,-14.6 C14.6,0.0 6.2,19.0 -4.2,23.4" fill="none" stroke="#222" stroke-width="0.8"/>
<path d="M0.0,-28.9 C4.2,-20.5 3.1,-13.2 2.5,-9.4" fill="none" stroke="#222" stroke-width="0.8"/>
<path d="M-20.2,5.8 Q-12.5,12.3 -5.2,8.2" fill="none" stroke="#222" stroke-width="0.8"/>
<path d="M-18.7,12.3 Q-10.4,14.6 -0.0,6.4" fill="none" stroke="#222" stroke-width="0.8"/>
<ellipse cx="-3.9" cy="-2.3" rx="9.0" ry="12.0" transform="rotate(8 -3.9 -2.3)" fill="#e4e4e4" stroke="#222" stroke-width="0.8"/>
<ellipse cx="-3.5" cy="-2.5" rx="6.5" ry="9.4" transform="rotate(8 -3.5 -2.5)" fill="#f4f4f4" stroke="#222" stroke-width="0.8"/>
<ellipse cx="-3.2" cy="-2.6" rx="4.6" ry="6.7" transform="rotate(8 -3.2 -2.6)" fill="#e0e0e0" stroke="#222" stroke-width="0.8"/>
<ellipse cx="-2.8" cy="-2.8" rx="2.5" ry="4.2" transform="rotate(8 -2.8 -2.8)" fill="#fff" stroke="#222" stroke-width="0.8"/>
</g>
<line x1="549.6" y1="80.7" x2="560.8" y2="100.4" stroke="#0a0a0a" stroke-width="1.7"/>
<polygon points="563.8,105.6 557.9,100.9 562.8,98.1" fill="#0a0a0a"/>
<line x1="577.8" y1="77.8" x2="644.8" y2="193.7" stroke="#0a0a0a" stroke-width="1.7"/>
<polygon points="647.8,198.9 641.9,194.2 646.7,191.4" fill="#0a0a0a"/>
<line x1="625.6" y1="81.1" x2="647.1" y2="120.3" stroke="#0a0a0a" stroke-width="1.7"/>
<polygon points="650.0,125.6 644.2,120.8 649.1,118.1" fill="#0a0a0a"/>
<line x1="653.3" y1="78.9" x2="664.4" y2="99.1" stroke="#0a0a0a" stroke-width="1.7"/>
<polygon points="667.3,104.4 661.5,99.6 666.4,96.9" fill="#0a0a0a"/>
<line x1="717.3" y1="92.2" x2="705.3" y2="111.6" stroke="#0a0a0a" stroke-width="1.7"/>
<polygon points="702.2,116.7 703.5,109.3 708.3,112.2" fill="#0a0a0a"/>
<line x1="733.3" y1="115.6" x2="721.4" y2="134.9" stroke="#0a0a0a" stroke-width="1.7"/>
<polygon points="718.2,140.0 719.5,132.6 724.3,135.5" fill="#0a0a0a"/>
<line x1="718.2" y1="202.2" x2="661.6" y2="202.8" stroke="#0a0a0a" stroke-width="1.7"/>
<polygon points="655.6,202.9 662.6,200.0 662.6,205.6" fill="#0a0a0a"/>
<line x1="722.2" y1="217.8" x2="699.1" y2="250.7" stroke="#0a0a0a" stroke-width="1.7"/>
<polygon points="695.6,255.6 697.3,248.3 701.9,251.5" fill="#0a0a0a"/>
<line x1="726.7" y1="230.0" x2="693.6" y2="281.6" stroke="#0a0a0a" stroke-width="1.7"/>
<polygon points="690.4,286.7 691.8,279.3 696.5,282.3" fill="#0a0a0a"/>
<line x1="723.3" y1="276.7" x2="658.7" y2="381.1" stroke="#0a0a0a" stroke-width="1.7"/>
<polygon points="655.5,386.2 656.8,378.8 661.6,381.7" fill="#0a0a0a"/>
<line x1="719.8" y1="318.5" x2="675.4" y2="420.1" stroke="#0a0a0a" stroke-width="1.7"/>
<polygon points="673.0,425.6 673.2,418.1 678.4,420.3" fill="#0a0a0a"/>
<line x1="737.5" y1="330.6" x2="693.0" y2="399.0" stroke="#0a0a0a" stroke-width="1.7"/>
<polygon points="689.7,404.0 691.2,396.6 695.9,399.7" fill="#0a0a0a"/>
<line x1="755.8" y1="343.6" x2="716.4" y2="400.1" stroke="#0a0a0a" stroke-width="1.7"/>
<polygon points="713.0,405.0 714.7,397.7 719.3,400.9" fill="#0a0a0a"/>
<line x1="771.0" y1="344.7" x2="725.3" y2="414.5" stroke="#0a0a0a" stroke-width="1.7"/>
<polygon points="722.0,419.5 723.5,412.1 728.2,415.2" fill="#0a0a0a"/>
<line x1="726.0" y1="535.7" x2="693.8" y2="479.4" stroke="#0a0a0a" stroke-width="1.7"/>
<polygon points="690.8,474.2 696.7,478.9 691.8,481.7" fill="#0a0a0a"/>
<line x1="723.8" y1="555.0" x2="685.8" y2="489.6" stroke="#0a0a0a" stroke-width="1.7"/>
<polygon points="682.8,484.4 688.7,489.0 683.9,491.9" fill="#0a0a0a"/>
<line x1="723.8" y1="569.5" x2="677.0" y2="486.2" stroke="#0a0a0a" stroke-width="1.7"/>
<polygon points="674.1,481.0 680.0,485.7 675.1,488.5" fill="#0a0a0a"/>
<line x1="536.8" y1="579.6" x2="569.9" y2="508.0" stroke="#0a0a0a" stroke-width="1.7"/>
<polygon points="572.4,502.6 572.0,510.1 566.9,507.8" fill="#0a0a0a"/>
<line x1="520.3" y1="570.0" x2="577.2" y2="478.2" stroke="#0a0a0a" stroke-width="1.7"/>
<polygon points="580.4,473.1 579.1,480.5 574.3,477.6" fill="#0a0a0a"/>
<line x1="427.8" y1="487.4" x2="515.1" y2="488.1" stroke="#0a0a0a" stroke-width="1.7"/>
<polygon points="521.1,488.1 514.1,490.8 514.1,485.2" fill="#0a0a0a"/>
<line x1="430.3" y1="451.8" x2="570.8" y2="452.3" stroke="#0a0a0a" stroke-width="1.7"/>
<polygon points="576.8,452.3 569.8,455.1 569.8,449.5" fill="#0a0a0a"/>
<line x1="592.2" y1="387.8" x2="613.3" y2="357.1" stroke="#0a0a0a" stroke-width="1.7"/>
<polygon points="616.7,352.2 615.0,359.6 610.4,356.4" fill="#0a0a0a"/>
<line x1="568.9" y1="346.7" x2="589.4" y2="308.6" stroke="#0a0a0a" stroke-width="1.7"/>
<polygon points="592.2,303.3 591.4,310.8 586.4,308.1" fill="#0a0a0a"/>
<line x1="555.6" y1="334.4" x2="600.1" y2="264.0" stroke="#0a0a0a" stroke-width="1.7"/>
<polygon points="603.3,258.9 601.9,266.3 597.2,263.3" fill="#0a0a0a"/>
<line x1="537.8" y1="312.2" x2="567.0" y2="261.9" stroke="#0a0a0a" stroke-width="1.7"/>
<polygon points="570.0,256.7 568.9,264.2 564.1,261.3" fill="#0a0a0a"/>
<line x1="496.7" y1="256.7" x2="531.1" y2="256.9" stroke="#0a0a0a" stroke-width="1.7"/>
<polygon points="537.1,256.9 530.1,259.7 530.1,254.1" fill="#0a0a0a"/>
<line x1="460.4" y1="202.2" x2="604.0" y2="203.9" stroke="#0a0a0a" stroke-width="1.7"/>
<polygon points="610.0,204.0 603.0,206.7 603.0,201.1" fill="#0a0a0a"/>
<line x1="442.2" y1="172.2" x2="481.8" y2="105.2" stroke="#0a0a0a" stroke-width="1.7"/>
<polygon points="484.9,100.0 483.7,107.5 478.9,104.6" fill="#0a0a0a"/>
<line x1="418.4" y1="141.1" x2="433.0" y2="122.1" stroke="#0a0a0a" stroke-width="1.7"/>
<polygon points="436.7,117.3 434.7,124.6 430.2,121.1" fill="#0a0a0a"/>
<line x1="384.4" y1="93.3" x2="396.5" y2="73.0" stroke="#0a0a0a" stroke-width="1.7"/>
<polygon points="399.6,67.8 398.4,75.2 393.6,72.4" fill="#0a0a0a"/>
<polyline points="600,82.2 622.9,120" fill="none" stroke="#0a0a0a" stroke-width="1.7"/>
<polyline points="616,124.4 631.6,115.6" fill="none" stroke="#0a0a0a" stroke-width="1.7"/>
<line x1="616.0" y1="124.4" x2="619.2" y2="131.3" stroke="#0a0a0a" stroke-width="1.7"/>
<polygon points="621.8,136.7 616.3,131.6 621.3,129.2" fill="#0a0a0a"/>
<line x1="631.6" y1="115.6" x2="636.9" y2="124.4" stroke="#0a0a0a" stroke-width="1.7"/>
<polygon points="640.0,129.5 634.0,125.0 638.8,122.1" fill="#0a0a0a"/>
<polyline points="586,366.7 611,302" fill="none" stroke="#0a0a0a" stroke-width="1.7"/>
<polyline points="613.3,301.6 608.9,294.4" fill="none" stroke="#0a0a0a" stroke-width="1.7"/>
<line x1="608.9" y1="294.4" x2="615.0" y2="293.7" stroke="#0a0a0a" stroke-width="1.7"/>
<polygon points="621.0,293.0 614.4,296.6 613.7,291.0" fill="#0a0a0a"/>
<line x1="611.0" y1="302.0" x2="624.0" y2="300.9" stroke="#0a0a0a" stroke-width="1.7"/>
<polygon points="630.0,300.4 623.3,303.8 622.8,298.2" fill="#0a0a0a"/>
<g font-family="Liberation Sans, Arial, sans-serif" font-size="10" fill="#000" text-anchor="middle">
<text x="547.8" y="77.4">1</text>
<text x="579.3" y="76.9">2</text>
<text x="598.4" y="76.9">3</text>
<text x="624.0" y="75.8">4</text>
<text x="652.9" y="76.5">5</text>
<text x="719.6" y="88.0">6</text>
<text x="736.7" y="111.8">7</text>
<text x="725.6" y="205.4">8</text>
<text x="726.0" y="217.4">9</text>
<text x="731.0" y="229.8">10</text>
<text x="729.3" y="277.4">11</text>
<text x="721.6" y="313.6">12</text>
<text x="739.8" y="326.2">13</text>
<text x="758.0" y="336.9">14</text>
<text x="771.7" y="341.9">15</text>
<text x="726.1" y="546.2">16</text>
<text x="731.8" y="563.9">17</text>
<text x="732.5" y="576.5">18</text>
<text x="535.1" y="592.2">19</text>
<text x="519.9" y="582.5">20</text>
<text x="420.6" y="489.3">21</text>
<text x="421.1" y="457.1">22</text>
<text x="587.3" y="399.8">23</text>
<text x="578.9" y="379.8">24</text>
<text x="565.1" y="359.8">25</text>
<text x="555.1" y="346.3">26</text>
<text x="538.9" y="325.8">27</text>
<text x="490.0" y="259.2">28</text>
<text x="451.6" y="204.3">29</text>
<text x="440.4" y="185.4">30</text>
<text x="420.0" y="154.7">31</text>
<text x="382.7" y="104.7">32</text>
</g>
</svg>
</body></html>
